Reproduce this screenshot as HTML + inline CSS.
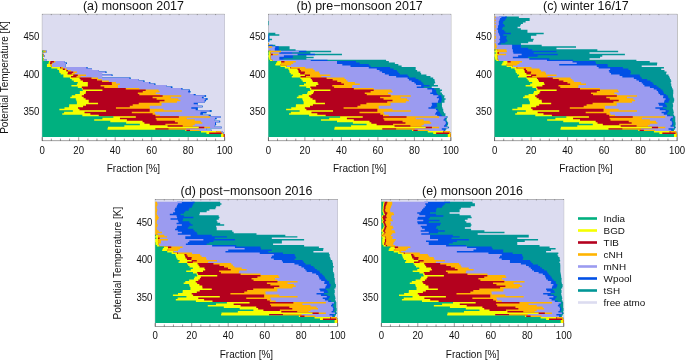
<!DOCTYPE html>
<html lang="en"><head><meta charset="utf-8"><title>Air mass origin fractions</title>
<style>
html,body{margin:0;padding:0;background:#fff;}
body{width:685px;height:360px;overflow:hidden;}
svg{display:block;opacity:0.999;will-change:transform;}
text{font-family:"Liberation Sans",sans-serif;fill:#111;}
.t{font-size:9.6px;}
.h{font-size:12.45px;}
.x{font-size:10.0px;}
.l{font-size:9.9px;}
</style></head><body>
<svg width="685" height="360" viewBox="0 0 685 360">
<rect width="685" height="360" fill="#fff"/>
<rect x="42.20" y="14.20" width="182.50" height="126.60" fill="#fff" stroke="#555" stroke-width="0.55"/>
<path d="M42.20,140.80v-3.6" stroke="#333" stroke-width="0.5"/>
<path d="M51.33,140.80v-2.2" stroke="#333" stroke-width="0.5"/>
<path d="M60.45,140.80v-2.2" stroke="#333" stroke-width="0.5"/>
<path d="M69.58,140.80v-2.2" stroke="#333" stroke-width="0.5"/>
<path d="M78.70,140.80v-3.6" stroke="#333" stroke-width="0.5"/>
<path d="M87.83,140.80v-2.2" stroke="#333" stroke-width="0.5"/>
<path d="M96.95,140.80v-2.2" stroke="#333" stroke-width="0.5"/>
<path d="M106.08,140.80v-2.2" stroke="#333" stroke-width="0.5"/>
<path d="M115.20,140.80v-3.6" stroke="#333" stroke-width="0.5"/>
<path d="M124.33,140.80v-2.2" stroke="#333" stroke-width="0.5"/>
<path d="M133.45,140.80v-2.2" stroke="#333" stroke-width="0.5"/>
<path d="M142.57,140.80v-2.2" stroke="#333" stroke-width="0.5"/>
<path d="M151.70,140.80v-3.6" stroke="#333" stroke-width="0.5"/>
<path d="M160.82,140.80v-2.2" stroke="#333" stroke-width="0.5"/>
<path d="M169.95,140.80v-2.2" stroke="#333" stroke-width="0.5"/>
<path d="M179.07,140.80v-2.2" stroke="#333" stroke-width="0.5"/>
<path d="M188.20,140.80v-3.6" stroke="#333" stroke-width="0.5"/>
<path d="M197.32,140.80v-2.2" stroke="#333" stroke-width="0.5"/>
<path d="M206.45,140.80v-2.2" stroke="#333" stroke-width="0.5"/>
<path d="M215.57,140.80v-2.2" stroke="#333" stroke-width="0.5"/>
<path d="M224.70,140.80v-3.6" stroke="#333" stroke-width="0.5"/>
<rect x="42.30" y="14.48" width="182.40" height="122.60" fill="#DCDCF0"/>
<path d="M224.70,137.08L224.70,135.59L224.70,135.59L224.70,134.10L223.79,134.10L223.79,132.61L222.88,132.61L222.88,131.12L211.56,131.12L211.56,129.63L206.45,129.63L206.45,128.14L221.60,128.14L221.60,126.65L214.66,126.65L214.66,125.16L216.12,125.16L216.12,123.67L215.94,123.67L215.94,122.18L220.14,122.18L220.14,120.69L214.66,120.69L214.66,119.20L216.49,119.20L216.49,117.71L220.50,117.71L220.50,116.22L210.65,116.22L210.65,114.74L202.80,114.74L202.80,113.25L206.45,113.25L206.45,111.76L211.56,111.76L211.56,110.27L197.69,110.27L197.69,108.78L197.69,108.78L197.69,107.29L202.62,107.29L202.62,105.80L197.69,105.80L197.69,104.31L197.69,104.31L197.69,102.82L204.62,102.82L204.62,101.33L206.08,101.33L206.08,99.84L207.55,99.84L207.55,98.35L203.53,98.35L203.53,96.86L206.08,96.86L206.08,95.37L195.50,95.37L195.50,93.88L190.02,93.88L190.02,92.39L190.39,92.39L190.39,90.90L189.66,90.90L189.66,89.42L182.36,89.42L182.36,87.93L172.32,87.93L172.32,86.44L166.30,86.44L166.30,84.95L155.35,84.95L155.35,83.46L150.24,83.46L150.24,81.97L144.40,81.97L144.40,80.48L138.56,80.48L138.56,78.99L130.53,78.99L130.53,77.50L102.06,77.50L102.06,76.01L112.46,76.01L112.46,74.52L102.06,74.52L102.06,73.03L106.44,73.03L106.44,71.54L98.78,71.54L98.78,70.05L92.02,70.05L92.02,68.56L87.46,68.56L87.46,67.07L65.38,67.07L65.38,65.58L65.38,65.58L65.38,64.10L66.84,64.10L66.84,62.61L64.28,62.61L64.28,61.12L46.95,61.12L46.95,59.63L43.66,59.63L43.66,58.14L42.93,58.14L42.93,56.65L44.94,56.65L44.94,55.16L43.30,55.16L43.30,53.67L42.20,53.67L42.20,52.18L46.76,52.18L46.76,50.69L42.20,50.69L42.20,49.20L42.20,49.20L42.20,47.71L42.20,47.71L42.20,46.22L42.20,46.22L42.20,44.73L42.20,44.73L42.20,43.24L42.20,43.24L42.20,41.75L42.20,41.75L42.20,40.26L42.20,40.26L42.20,38.78L42.20,38.78L42.20,37.29L42.20,37.29L42.20,35.80L42.20,35.80L42.20,34.31L42.20,34.31L42.20,32.82L42.20,32.82L42.20,31.33L42.20,31.33L42.20,29.84L42.20,29.84L42.20,28.35L42.20,28.35L42.20,26.86L42.20,26.86L42.20,25.37L42.20,25.37L42.20,23.88L42.20,23.88L42.20,22.39L42.20,22.39L42.20,20.90L42.20,20.90L42.20,19.41L42.20,19.41L42.20,17.92L42.20,17.92L42.20,16.43L42.20,16.43L42.20,17.92L42.20,17.92L42.20,19.41L42.20,19.41L42.20,20.90L42.20,20.90L42.20,22.39L42.20,22.39L42.20,23.88L42.20,23.88L42.20,25.37L42.20,25.37L42.20,26.86L42.20,26.86L42.20,28.35L42.20,28.35L42.20,29.84L42.20,29.84L42.20,31.33L42.20,31.33L42.20,32.82L42.20,32.82L42.20,34.31L42.20,34.31L42.20,35.80L42.20,35.80L42.20,37.29L42.20,37.29L42.20,38.78L42.20,38.78L42.20,40.26L42.20,40.26L42.20,41.75L42.20,41.75L42.20,43.24L42.20,43.24L42.20,44.73L42.20,44.73L42.20,46.22L42.20,46.22L42.20,47.71L42.20,47.71L42.20,49.20L42.20,49.20L42.20,50.69L42.20,50.69L42.20,52.18L42.20,52.18L42.20,53.67L42.20,53.67L42.20,55.16L42.20,55.16L42.20,56.65L42.20,56.65L42.20,58.14L42.20,58.14L42.20,59.63L42.76,59.63L42.76,61.12L46.05,61.12L46.05,62.61L63.38,62.61L63.38,64.10L64.48,64.10L64.48,65.58L64.48,65.58L64.48,67.07L64.48,67.07L64.48,68.56L86.56,68.56L86.56,70.05L91.12,70.05L91.12,71.54L97.88,71.54L97.88,73.03L101.16,73.03L101.16,74.52L101.16,74.52L101.16,76.01L101.16,76.01L101.16,77.50L101.16,77.50L101.16,78.99L129.63,78.99L129.63,80.48L137.66,80.48L137.66,81.97L143.50,81.97L143.50,83.46L149.34,83.46L149.34,84.95L154.45,84.95L154.45,86.44L165.40,86.44L165.40,87.93L171.42,87.93L171.42,89.42L181.46,89.42L181.46,90.90L188.76,90.90L188.76,92.39L189.12,92.39L189.12,93.88L189.12,93.88L189.12,95.37L194.60,95.37L194.60,96.86L202.63,96.86L202.63,98.35L202.63,98.35L202.63,99.84L203.72,99.84L203.72,101.33L196.79,101.33L196.79,102.82L196.79,102.82L196.79,104.31L196.79,104.31L196.79,105.80L196.79,105.80L196.79,107.29L196.79,107.29L196.79,108.78L196.79,108.78L196.79,110.27L196.79,110.27L196.79,111.76L201.90,111.76L201.90,113.25L201.90,113.25L201.90,114.74L201.90,114.74L201.90,116.22L209.75,116.22L209.75,117.71L213.76,117.71L213.76,119.20L213.76,119.20L213.76,120.69L213.76,120.69L213.76,122.18L215.04,122.18L215.04,123.67L213.76,123.67L213.76,125.16L213.76,125.16L213.76,126.65L205.55,126.65L205.55,128.14L205.55,128.14L205.55,129.63L205.55,129.63L205.55,131.12L210.66,131.12L210.66,132.61L221.97,132.61L221.97,134.10L222.89,134.10L222.89,135.59L223.80,135.59L223.80,137.08Z" fill="#009696"/>
<path d="M224.70,137.08L224.70,135.59L224.70,135.59L224.70,134.10L223.79,134.10L223.79,132.61L222.88,132.61L222.88,131.12L211.56,131.12L211.56,129.63L206.45,129.63L206.45,128.14L221.60,128.14L221.60,126.65L214.66,126.65L214.66,125.16L216.12,125.16L216.12,123.67L215.94,123.67L215.94,122.18L220.14,122.18L220.14,120.69L214.66,120.69L214.66,119.20L216.49,119.20L216.49,117.71L220.50,117.71L220.50,116.22L210.65,116.22L210.65,114.74L202.80,114.74L202.80,113.25L206.45,113.25L206.45,111.76L211.56,111.76L211.56,110.27L197.69,110.27L197.69,108.78L197.69,108.78L197.69,107.29L202.62,107.29L202.62,105.80L197.69,105.80L197.69,104.31L197.69,104.31L197.69,102.82L204.62,102.82L204.62,101.33L206.08,101.33L206.08,99.84L207.55,99.84L207.55,98.35L203.53,98.35L203.53,96.86L206.08,96.86L206.08,95.37L195.50,95.37L195.50,93.88L190.02,93.88L190.02,92.39L190.39,92.39L190.39,90.90L189.66,90.90L189.66,89.42L182.36,89.42L182.36,87.93L172.32,87.93L172.32,86.44L166.30,86.44L166.30,84.95L155.35,84.95L155.35,83.46L150.24,83.46L150.24,81.97L144.40,81.97L144.40,80.48L138.56,80.48L138.56,78.99L130.53,78.99L130.53,77.50L102.06,77.50L102.06,76.01L112.46,76.01L112.46,74.52L102.06,74.52L102.06,73.03L106.44,73.03L106.44,71.54L98.78,71.54L98.78,70.05L92.02,70.05L92.02,68.56L87.46,68.56L87.46,67.07L65.38,67.07L65.38,65.58L65.38,65.58L65.38,64.10L66.84,64.10L66.84,62.61L64.28,62.61L64.28,61.12L46.95,61.12L46.95,59.63L43.66,59.63L43.66,58.14L42.93,58.14L42.93,56.65L44.94,56.65L44.94,55.16L43.30,55.16L43.30,53.67L42.20,53.67L42.20,52.18L46.76,52.18L46.76,50.69L42.20,50.69L42.20,49.20L42.20,49.20L42.20,47.71L42.20,47.71L42.20,46.22L42.20,46.22L42.20,44.73L42.20,44.73L42.20,43.24L42.20,43.24L42.20,41.75L42.20,41.75L42.20,40.26L42.20,40.26L42.20,38.78L42.20,38.78L42.20,37.29L42.20,37.29L42.20,35.80L42.20,35.80L42.20,34.31L42.20,34.31L42.20,32.82L42.20,32.82L42.20,31.33L42.20,31.33L42.20,29.84L42.20,29.84L42.20,28.35L42.20,28.35L42.20,26.86L42.20,26.86L42.20,25.37L42.20,25.37L42.20,23.88L42.20,23.88L42.20,22.39L42.20,22.39L42.20,20.90L42.20,20.90L42.20,19.41L42.20,19.41L42.20,17.92L42.20,17.92L42.20,16.43L42.20,16.43L42.20,17.92L42.20,17.92L42.20,19.41L42.20,19.41L42.20,20.90L42.20,20.90L42.20,22.39L42.20,22.39L42.20,23.88L42.20,23.88L42.20,25.37L42.20,25.37L42.20,26.86L42.20,26.86L42.20,28.35L42.20,28.35L42.20,29.84L42.20,29.84L42.20,31.33L42.20,31.33L42.20,32.82L42.20,32.82L42.20,34.31L42.20,34.31L42.20,35.80L42.20,35.80L42.20,37.29L42.20,37.29L42.20,38.78L42.20,38.78L42.20,40.26L42.20,40.26L42.20,41.75L42.20,41.75L42.20,43.24L42.20,43.24L42.20,44.73L42.20,44.73L42.20,46.22L42.20,46.22L42.20,47.71L42.20,47.71L42.20,49.20L42.20,49.20L42.20,50.69L42.20,50.69L42.20,52.18L42.20,52.18L42.20,53.67L42.20,53.67L42.20,55.16L42.20,55.16L42.20,56.65L42.20,56.65L42.20,58.14L42.20,58.14L42.20,59.63L42.76,59.63L42.76,61.12L46.05,61.12L46.05,62.61L63.38,62.61L63.38,64.10L64.48,64.10L64.48,65.58L64.48,65.58L64.48,67.07L64.48,67.07L64.48,68.56L85.47,68.56L85.47,70.05L91.12,70.05L91.12,71.54L97.88,71.54L97.88,73.03L101.16,73.03L101.16,74.52L101.16,74.52L101.16,76.01L101.16,76.01L101.16,77.50L101.16,77.50L101.16,78.99L128.53,78.99L128.53,80.48L137.66,80.48L137.66,81.97L142.40,81.97L142.40,83.46L148.25,83.46L148.25,84.95L153.35,84.95L153.35,86.44L165.40,86.44L165.40,87.93L169.96,87.93L169.96,89.42L180.37,89.42L180.37,90.90L187.30,90.90L187.30,92.39L187.30,92.39L187.30,93.88L189.12,93.88L189.12,95.37L192.77,95.37L192.77,96.86L200.99,96.86L200.99,98.35L200.99,98.35L200.99,99.84L203.72,99.84L203.72,101.33L192.77,101.33L192.77,102.82L192.77,102.82L192.77,104.31L192.77,104.31L192.77,105.80L190.40,105.80L190.40,107.29L190.40,107.29L190.40,108.78L190.40,108.78L190.40,110.27L194.78,110.27L194.78,111.76L199.34,111.76L199.34,113.25L199.34,113.25L199.34,114.74L199.34,114.74L199.34,116.22L207.74,116.22L207.74,117.71L213.76,117.71L213.76,119.20L213.76,119.20L213.76,120.69L213.76,120.69L213.76,122.18L214.13,122.18L214.13,123.67L213.76,123.67L213.76,125.16L213.76,125.16L213.76,126.65L205.55,126.65L205.55,128.14L205.55,128.14L205.55,129.63L205.55,129.63L205.55,131.12L210.66,131.12L210.66,132.61L221.97,132.61L221.97,134.10L222.89,134.10L222.89,135.59L223.80,135.59L223.80,137.08Z" fill="#0050E6"/>
<path d="M224.70,137.08L224.70,135.59L224.70,135.59L224.70,134.10L223.79,134.10L223.79,132.61L222.88,132.61L222.88,131.12L211.56,131.12L211.56,129.63L206.45,129.63L206.45,128.14L221.60,128.14L221.60,126.65L214.66,126.65L214.66,125.16L215.03,125.16L215.03,123.67L215.03,123.67L215.03,122.18L219.23,122.18L219.23,120.69L214.66,120.69L214.66,119.20L215.03,119.20L215.03,117.71L220.50,117.71L220.50,116.22L208.64,116.22L208.64,114.74L200.25,114.74L200.25,113.25L200.61,113.25L200.61,111.76L209.74,111.76L209.74,110.27L195.68,110.27L195.68,108.78L191.30,108.78L191.30,107.29L202.25,107.29L202.25,105.80L197.69,105.80L197.69,104.31L193.68,104.31L193.68,102.82L204.62,102.82L204.62,101.33L204.62,101.33L204.62,99.84L205.54,99.84L205.54,98.35L201.89,98.35L201.89,96.86L204.62,96.86L204.62,95.37L193.68,95.37L193.68,93.88L190.02,93.88L190.02,92.39L188.20,92.39L188.20,90.90L188.75,90.90L188.75,89.42L181.26,89.42L181.26,87.93L170.86,87.93L170.86,86.44L166.30,86.44L166.30,84.95L154.25,84.95L154.25,83.46L149.14,83.46L149.14,81.97L143.31,81.97L143.31,80.48L138.56,80.48L138.56,78.99L129.44,78.99L129.44,77.50L102.06,77.50L102.06,76.01L111.55,76.01L111.55,74.52L102.06,74.52L102.06,73.03L105.34,73.03L105.34,71.54L98.78,71.54L98.78,70.05L92.02,70.05L92.02,68.56L86.37,68.56L86.37,67.07L65.38,67.07L65.38,65.58L65.38,65.58L65.38,64.10L65.92,64.10L65.92,62.61L64.28,62.61L64.28,61.12L46.95,61.12L46.95,59.63L43.66,59.63L43.66,58.14L42.93,58.14L42.93,56.65L44.94,56.65L44.94,55.16L43.30,55.16L43.30,53.67L42.20,53.67L42.20,52.18L46.76,52.18L46.76,50.69L42.20,50.69L42.20,49.20L42.20,49.20L42.20,47.71L42.20,47.71L42.20,46.22L42.20,46.22L42.20,44.73L42.20,44.73L42.20,43.24L42.20,43.24L42.20,41.75L42.20,41.75L42.20,40.26L42.20,40.26L42.20,38.78L42.20,38.78L42.20,37.29L42.20,37.29L42.20,35.80L42.20,35.80L42.20,34.31L42.20,34.31L42.20,32.82L42.20,32.82L42.20,31.33L42.20,31.33L42.20,29.84L42.20,29.84L42.20,28.35L42.20,28.35L42.20,26.86L42.20,26.86L42.20,25.37L42.20,25.37L42.20,23.88L42.20,23.88L42.20,22.39L42.20,22.39L42.20,20.90L42.20,20.90L42.20,19.41L42.20,19.41L42.20,17.92L42.20,17.92L42.20,16.43L42.20,16.43L42.20,17.92L42.20,17.92L42.20,19.41L42.20,19.41L42.20,20.90L42.20,20.90L42.20,22.39L42.20,22.39L42.20,23.88L42.20,23.88L42.20,25.37L42.20,25.37L42.20,26.86L42.20,26.86L42.20,28.35L42.20,28.35L42.20,29.84L42.20,29.84L42.20,31.33L42.20,31.33L42.20,32.82L42.20,32.82L42.20,34.31L42.20,34.31L42.20,35.80L42.20,35.80L42.20,37.29L42.20,37.29L42.20,38.78L42.20,38.78L42.20,40.26L42.20,40.26L42.20,41.75L42.20,41.75L42.20,43.24L42.20,43.24L42.20,44.73L42.20,44.73L42.20,46.22L42.20,46.22L42.20,47.71L42.20,47.71L42.20,49.20L42.20,49.20L42.20,50.69L42.20,50.69L42.20,52.18L42.20,52.18L42.20,53.67L42.20,53.67L42.20,55.16L42.20,55.16L42.20,56.65L42.20,56.65L42.20,58.14L42.20,58.14L42.20,59.63L42.76,59.63L42.76,61.12L43.12,61.12L43.12,62.61L50.97,62.61L50.97,64.10L50.97,64.10L50.97,65.58L50.97,65.58L50.97,67.07L51.16,67.07L51.16,68.56L62.29,68.56L62.29,70.05L65.94,70.05L65.94,71.54L69.95,71.54L69.95,73.03L73.78,73.03L73.78,74.52L73.78,74.52L73.78,76.01L79.62,76.01L79.62,77.50L79.62,77.50L79.62,78.99L97.15,78.99L97.15,80.48L100.80,80.48L100.80,81.97L107.91,81.97L107.91,83.46L115.03,83.46L115.03,84.95L117.04,84.95L117.04,86.44L117.04,86.44L117.04,87.93L117.04,87.93L117.04,89.42L138.39,89.42L138.39,90.90L154.81,90.90L154.81,92.39L154.81,92.39L154.81,93.88L154.81,93.88L154.81,95.37L159.19,95.37L159.19,96.86L169.96,96.86L169.96,98.35L169.96,98.35L169.96,99.84L175.99,99.84L175.99,101.33L160.66,101.33L160.66,102.82L160.66,102.82L160.66,104.31L148.79,104.31L148.79,105.80L148.79,105.80L148.79,107.29L148.79,107.29L148.79,108.78L148.97,108.78L148.97,110.27L153.72,110.27L153.72,111.76L153.72,111.76L153.72,113.25L153.72,113.25L153.72,114.74L154.45,114.74L154.45,116.22L159.01,116.22L159.01,117.71L185.84,117.71L185.84,119.20L185.84,119.20L185.84,120.69L193.87,120.69L193.87,122.18L193.87,122.18L193.87,123.67L191.86,123.67L191.86,125.16L191.86,125.16L191.86,126.65L184.93,126.65L184.93,128.14L184.93,128.14L184.93,129.63L184.93,129.63L184.93,131.12L198.80,131.12L198.80,132.61L220.15,132.61L220.15,134.10L221.97,134.10L221.97,135.59L223.80,135.59L223.80,137.08Z" fill="#9B9BF0"/>
<path d="M224.70,137.08L224.70,135.59L224.70,135.59L224.70,134.10L222.88,134.10L222.88,132.61L221.05,132.61L221.05,131.12L199.70,131.12L199.70,129.63L185.83,129.63L185.83,128.14L210.10,128.14L210.10,126.65L192.76,126.65L192.76,125.16L194.77,125.16L194.77,123.67L202.25,123.67L202.25,122.18L200.79,122.18L200.79,120.69L194.77,120.69L194.77,119.20L186.74,119.20L186.74,117.71L210.10,117.71L210.10,116.22L159.91,116.22L159.91,114.74L155.35,114.74L155.35,113.25L154.62,113.25L154.62,111.76L181.81,111.76L181.81,110.27L163.56,110.27L163.56,108.78L149.88,108.78L149.88,107.29L149.69,107.29L149.69,105.80L161.56,105.80L161.56,104.31L161.56,104.31L161.56,102.82L176.88,102.82L176.88,101.33L180.35,101.33L180.35,99.84L178.34,99.84L178.34,98.35L170.86,98.35L170.86,96.86L181.26,96.86L181.26,95.37L160.09,95.37L160.09,93.88L155.72,93.88L155.72,92.39L159.55,92.39L159.55,90.90L158.63,90.90L158.63,89.42L139.29,89.42L139.29,87.93L117.94,87.93L117.94,86.44L117.94,86.44L117.94,84.95L119.95,84.95L119.95,83.46L115.93,83.46L115.93,81.97L108.81,81.97L108.81,80.48L101.70,80.48L101.70,78.99L98.05,78.99L98.05,77.50L80.53,77.50L80.53,76.01L86.00,76.01L86.00,74.52L74.69,74.52L74.69,73.03L76.88,73.03L76.88,71.54L70.85,71.54L70.85,70.05L66.84,70.05L66.84,68.56L63.19,68.56L63.19,67.07L52.06,67.07L52.06,65.58L51.87,65.58L51.87,64.10L52.79,64.10L52.79,62.61L55.34,62.61L55.34,61.12L44.03,61.12L44.03,59.63L43.66,59.63L43.66,58.14L42.93,58.14L42.93,56.65L43.66,56.65L43.66,55.16L43.30,55.16L43.30,53.67L42.20,53.67L42.20,52.18L45.85,52.18L45.85,50.69L42.20,50.69L42.20,49.20L42.20,49.20L42.20,47.71L42.20,47.71L42.20,46.22L42.20,46.22L42.20,44.73L42.20,44.73L42.20,43.24L42.20,43.24L42.20,41.75L42.20,41.75L42.20,40.26L42.20,40.26L42.20,38.78L42.20,38.78L42.20,37.29L42.20,37.29L42.20,35.80L42.20,35.80L42.20,34.31L42.20,34.31L42.20,32.82L42.20,32.82L42.20,31.33L42.20,31.33L42.20,29.84L42.20,29.84L42.20,28.35L42.20,28.35L42.20,26.86L42.20,26.86L42.20,25.37L42.20,25.37L42.20,23.88L42.20,23.88L42.20,22.39L42.20,22.39L42.20,20.90L42.20,20.90L42.20,19.41L42.20,19.41L42.20,17.92L42.20,17.92L42.20,16.43L42.20,16.43L42.20,17.92L42.20,17.92L42.20,19.41L42.20,19.41L42.20,20.90L42.20,20.90L42.20,22.39L42.20,22.39L42.20,23.88L42.20,23.88L42.20,25.37L42.20,25.37L42.20,26.86L42.20,26.86L42.20,28.35L42.20,28.35L42.20,29.84L42.20,29.84L42.20,31.33L42.20,31.33L42.20,32.82L42.20,32.82L42.20,34.31L42.20,34.31L42.20,35.80L42.20,35.80L42.20,37.29L42.20,37.29L42.20,38.78L42.20,38.78L42.20,40.26L42.20,40.26L42.20,41.75L42.20,41.75L42.20,43.24L42.20,43.24L42.20,44.73L42.20,44.73L42.20,46.22L42.20,46.22L42.20,47.71L42.20,47.71L42.20,49.20L42.20,49.20L42.20,50.69L42.20,50.69L42.20,52.18L42.20,52.18L42.20,53.67L42.20,53.67L42.20,55.16L42.20,55.16L42.20,56.65L42.20,56.65L42.20,58.14L42.20,58.14L42.20,59.63L42.76,59.63L42.76,61.12L43.12,61.12L43.12,62.61L49.51,62.61L49.51,64.10L49.51,64.10L49.51,65.58L49.51,65.58L49.51,67.07L50.43,67.07L50.43,68.56L60.28,68.56L60.28,70.05L63.93,70.05L63.93,71.54L67.03,71.54L67.03,73.03L70.87,73.03L70.87,74.52L70.87,74.52L70.87,76.01L75.61,76.01L75.61,77.50L75.61,77.50L75.61,78.99L90.58,78.99L90.58,80.48L96.05,80.48L96.05,81.97L101.16,81.97L101.16,83.46L99.70,83.46L99.70,84.95L99.70,84.95L99.70,86.44L99.70,86.44L99.70,87.93L103.35,87.93L103.35,89.42L124.88,89.42L124.88,90.90L136.93,90.90L136.93,92.39L136.93,92.39L136.93,93.88L136.93,93.88L136.93,95.37L138.39,95.37L138.39,96.86L151.71,96.86L151.71,98.35L151.71,98.35L151.71,99.84L155.73,99.84L155.73,101.33L137.84,101.33L137.84,102.82L131.82,102.82L131.82,104.31L128.90,104.31L128.90,105.80L115.03,105.80L115.03,107.29L115.03,107.29L115.03,108.78L115.03,108.78L115.03,110.27L130.91,110.27L130.91,111.76L130.91,111.76L130.91,113.25L130.91,113.25L130.91,114.74L151.71,114.74L151.71,116.22L154.45,116.22L154.45,117.71L154.81,117.71L154.81,119.20L154.81,119.20L154.81,120.69L155.73,120.69L155.73,122.18L164.49,122.18L164.49,123.67L164.49,123.67L164.49,125.16L164.49,125.16L164.49,126.65L167.59,126.65L167.59,128.14L167.59,128.14L167.59,129.63L167.59,129.63L167.59,131.12L189.12,131.12L189.12,132.61L215.59,132.61L215.59,134.10L220.70,134.10L220.70,135.59L223.80,135.59L223.80,137.08Z" fill="#FFB400"/>
<path d="M224.70,137.08L224.70,135.59L224.70,135.59L224.70,134.10L221.60,134.10L221.60,132.61L216.49,132.61L216.49,131.12L190.02,131.12L190.02,129.63L168.49,129.63L168.49,128.14L204.26,128.14L204.26,126.65L182.73,126.65L182.73,125.16L165.39,125.16L165.39,123.67L177.80,123.67L177.80,122.18L174.88,122.18L174.88,120.69L156.63,120.69L156.63,119.20L155.72,119.20L155.72,117.71L178.89,117.71L178.89,116.22L155.35,116.22L155.35,114.74L152.61,114.74L152.61,113.25L131.81,113.25L131.81,111.76L149.69,111.76L149.69,110.27L149.69,110.27L149.69,108.78L115.93,108.78L115.93,107.29L129.80,107.29L129.80,105.80L132.72,105.80L132.72,104.31L138.74,104.31L138.74,102.82L159.55,102.82L159.55,101.33L164.47,101.33L164.47,99.84L156.63,99.84L156.63,98.35L152.61,98.35L152.61,96.86L162.65,96.86L162.65,95.37L139.29,95.37L139.29,93.88L137.83,93.88L137.83,92.39L142.76,92.39L142.76,90.90L145.68,90.90L145.68,89.42L125.78,89.42L125.78,87.93L104.25,87.93L104.25,86.44L100.60,86.44L100.60,84.95L111.92,84.95L111.92,83.46L111.73,83.46L111.73,81.97L102.06,81.97L102.06,80.48L96.95,80.48L96.95,78.99L91.47,78.99L91.47,77.50L76.51,77.50L76.51,76.01L77.79,76.01L77.79,74.52L71.77,74.52L71.77,73.03L73.22,73.03L73.22,71.54L67.93,71.54L67.93,70.05L64.83,70.05L64.83,68.56L61.18,68.56L61.18,67.07L51.33,67.07L51.33,65.58L50.41,65.58L50.41,64.10L51.87,64.10L51.87,62.61L53.88,62.61L53.88,61.12L44.03,61.12L44.03,59.63L43.66,59.63L43.66,58.14L42.93,58.14L42.93,56.65L43.66,56.65L43.66,55.16L43.30,55.16L43.30,53.67L42.20,53.67L42.20,52.18L44.57,52.18L44.57,50.69L42.20,50.69L42.20,49.20L42.20,49.20L42.20,47.71L42.20,47.71L42.20,46.22L42.20,46.22L42.20,44.73L42.20,44.73L42.20,43.24L42.20,43.24L42.20,41.75L42.20,41.75L42.20,40.26L42.20,40.26L42.20,38.78L42.20,38.78L42.20,37.29L42.20,37.29L42.20,35.80L42.20,35.80L42.20,34.31L42.20,34.31L42.20,32.82L42.20,32.82L42.20,31.33L42.20,31.33L42.20,29.84L42.20,29.84L42.20,28.35L42.20,28.35L42.20,26.86L42.20,26.86L42.20,25.37L42.20,25.37L42.20,23.88L42.20,23.88L42.20,22.39L42.20,22.39L42.20,20.90L42.20,20.90L42.20,19.41L42.20,19.41L42.20,17.92L42.20,17.92L42.20,16.43L42.20,16.43L42.20,17.92L42.20,17.92L42.20,19.41L42.20,19.41L42.20,20.90L42.20,20.90L42.20,22.39L42.20,22.39L42.20,23.88L42.20,23.88L42.20,25.37L42.20,25.37L42.20,26.86L42.20,26.86L42.20,28.35L42.20,28.35L42.20,29.84L42.20,29.84L42.20,31.33L42.20,31.33L42.20,32.82L42.20,32.82L42.20,34.31L42.20,34.31L42.20,35.80L42.20,35.80L42.20,37.29L42.20,37.29L42.20,38.78L42.20,38.78L42.20,40.26L42.20,40.26L42.20,41.75L42.20,41.75L42.20,43.24L42.20,43.24L42.20,44.73L42.20,44.73L42.20,46.22L42.20,46.22L42.20,47.71L42.20,47.71L42.20,49.20L42.20,49.20L42.20,50.69L42.20,50.69L42.20,52.18L42.20,52.18L42.20,53.67L42.20,53.67L42.20,55.16L42.20,55.16L42.20,56.65L42.20,56.65L42.20,58.14L42.20,58.14L42.20,59.63L42.76,59.63L42.76,61.12L43.12,61.12L43.12,62.61L48.97,62.61L48.97,64.10L48.97,64.10L48.97,65.58L49.51,65.58L49.51,67.07L50.43,67.07L50.43,68.56L59.19,68.56L59.19,70.05L61.92,70.05L61.92,71.54L65.39,71.54L65.39,73.03L66.67,73.03L66.67,74.52L66.67,74.52L66.67,76.01L70.14,76.01L70.14,77.50L70.14,77.50L70.14,78.99L78.71,78.99L78.71,80.48L79.62,80.48L79.62,81.97L82.00,81.97L82.00,83.46L86.93,83.46L86.93,84.95L80.90,84.95L80.90,86.44L80.90,86.44L80.90,87.93L80.90,87.93L80.90,89.42L81.81,89.42L81.81,90.90L84.74,90.90L84.74,92.39L83.09,92.39L83.09,93.88L80.90,93.88L80.90,95.37L80.90,95.37L80.90,96.86L80.90,96.86L80.90,98.35L82.73,98.35L82.73,99.84L84.74,99.84L84.74,101.33L87.84,101.33L87.84,102.82L85.10,102.82L85.10,104.31L82.18,104.31L82.18,105.80L77.07,105.80L77.07,107.29L77.07,107.29L77.07,108.78L77.07,108.78L77.07,110.27L78.53,110.27L78.53,111.76L83.64,111.76L83.64,113.25L83.64,113.25L83.64,114.74L89.48,114.74L89.48,116.22L97.88,116.22L97.88,117.71L119.05,117.71L119.05,119.20L119.05,119.20L119.05,120.69L125.98,120.69L125.98,122.18L141.68,122.18L141.68,123.67L143.50,123.67L143.50,125.16L148.79,125.16L148.79,126.65L154.45,126.65L154.45,128.14L154.45,128.14L154.45,129.63L154.45,129.63L154.45,131.12L185.47,131.12L185.47,132.61L208.29,132.61L208.29,134.10L208.29,134.10L208.29,135.59L222.70,135.59L222.70,137.08Z" fill="#B4001E"/>
<path d="M223.61,137.08L223.61,135.59L223.61,135.59L223.61,134.10L209.19,134.10L209.19,132.61L216.49,132.61L216.49,131.12L186.38,131.12L186.38,129.63L155.35,129.63L155.35,128.14L198.78,128.14L198.78,126.65L167.58,126.65L167.58,125.16L149.69,125.16L149.69,123.67L144.40,123.67L144.40,122.18L142.57,122.18L142.57,120.69L126.88,120.69L126.88,119.20L119.95,119.20L119.95,117.71L135.82,117.71L135.82,116.22L98.78,116.22L98.78,114.74L90.38,114.74L90.38,113.25L84.54,113.25L84.54,111.76L106.08,111.76L106.08,110.27L79.43,110.27L79.43,108.78L77.97,108.78L77.97,107.29L83.08,107.29L83.08,105.80L86.00,105.80L86.00,104.31L98.05,104.31L98.05,102.82L88.74,102.82L88.74,101.33L88.74,101.33L88.74,99.84L85.64,99.84L85.64,98.35L83.63,98.35L83.63,96.86L81.80,96.86L81.80,95.37L83.99,95.37L83.99,93.88L85.64,93.88L85.64,92.39L86.00,92.39L86.00,90.90L102.43,90.90L102.43,89.42L82.72,89.42L82.72,87.93L81.80,87.93L81.80,86.44L87.83,86.44L87.83,84.95L87.83,84.95L87.83,83.46L87.83,83.46L87.83,81.97L82.90,81.97L82.90,80.48L80.53,80.48L80.53,78.99L79.61,78.99L79.61,77.50L71.03,77.50L71.03,76.01L73.22,76.01L73.22,74.52L67.57,74.52L67.57,73.03L67.93,73.03L67.93,71.54L66.29,71.54L66.29,70.05L62.82,70.05L62.82,68.56L60.09,68.56L60.09,67.07L51.33,67.07L51.33,65.58L50.41,65.58L50.41,64.10L49.87,64.10L49.87,62.61L50.41,62.61L50.41,61.12L44.03,61.12L44.03,59.63L43.66,59.63L43.66,58.14L42.93,58.14L42.93,56.65L43.66,56.65L43.66,55.16L42.75,55.16L42.75,53.67L42.20,53.67L42.20,52.18L44.57,52.18L44.57,50.69L42.20,50.69L42.20,49.20L42.20,49.20L42.20,47.71L42.20,47.71L42.20,46.22L42.20,46.22L42.20,44.73L42.20,44.73L42.20,43.24L42.20,43.24L42.20,41.75L42.20,41.75L42.20,40.26L42.20,40.26L42.20,38.78L42.20,38.78L42.20,37.29L42.20,37.29L42.20,35.80L42.20,35.80L42.20,34.31L42.20,34.31L42.20,32.82L42.20,32.82L42.20,31.33L42.20,31.33L42.20,29.84L42.20,29.84L42.20,28.35L42.20,28.35L42.20,26.86L42.20,26.86L42.20,25.37L42.20,25.37L42.20,23.88L42.20,23.88L42.20,22.39L42.20,22.39L42.20,20.90L42.20,20.90L42.20,19.41L42.20,19.41L42.20,17.92L42.20,17.92L42.20,16.43L42.20,16.43L42.20,17.92L42.20,17.92L42.20,19.41L42.20,19.41L42.20,20.90L42.20,20.90L42.20,22.39L42.20,22.39L42.20,23.88L42.20,23.88L42.20,25.37L42.20,25.37L42.20,26.86L42.20,26.86L42.20,28.35L42.20,28.35L42.20,29.84L42.20,29.84L42.20,31.33L42.20,31.33L42.20,32.82L42.20,32.82L42.20,34.31L42.20,34.31L42.20,35.80L42.20,35.80L42.20,37.29L42.20,37.29L42.20,38.78L42.20,38.78L42.20,40.26L42.20,40.26L42.20,41.75L42.20,41.75L42.20,43.24L42.20,43.24L42.20,44.73L42.20,44.73L42.20,46.22L42.20,46.22L42.20,47.71L42.20,47.71L42.20,49.20L42.20,49.20L42.20,50.69L42.20,50.69L42.20,52.18L42.20,52.18L42.20,53.67L42.20,53.67L42.20,55.16L42.20,55.16L42.20,56.65L42.20,56.65L42.20,58.14L42.20,58.14L42.20,59.63L42.21,59.63L42.21,61.12L42.58,61.12L42.58,62.61L46.05,62.61L46.05,64.10L46.05,64.10L46.05,65.58L46.05,65.58L46.05,67.07L46.05,67.07L46.05,68.56L50.43,68.56L50.43,70.05L56.45,70.05L56.45,71.54L58.09,71.54L58.09,73.03L58.46,73.03L58.46,74.52L59.73,74.52L59.73,76.01L62.47,76.01L62.47,77.50L62.47,77.50L62.47,78.99L69.22,78.99L69.22,80.48L70.87,80.48L70.87,81.97L72.87,81.97L72.87,83.46L70.50,83.46L70.50,84.95L70.50,84.95L70.50,86.44L70.50,86.44L70.50,87.93L76.89,87.93L76.89,89.42L78.90,89.42L78.90,90.90L78.90,90.90L78.90,92.39L74.33,92.39L74.33,93.88L70.87,93.88L70.87,95.37L69.41,95.37L69.41,96.86L69.41,96.86L69.41,98.35L69.41,98.35L69.41,99.84L74.88,99.84L74.88,101.33L75.43,101.33L75.43,102.82L68.31,102.82L68.31,104.31L68.13,104.31L68.13,105.80L63.56,105.80L63.56,107.29L58.46,107.29L58.46,108.78L58.46,108.78L58.46,110.27L58.46,110.27L58.46,111.76L61.38,111.76L61.38,113.25L61.38,113.25L61.38,114.74L61.38,114.74L61.38,116.22L81.45,116.22L81.45,117.71L93.31,117.71L93.31,119.20L93.31,119.20L93.31,120.69L93.31,120.69L93.31,122.18L109.37,122.18L109.37,123.67L123.42,123.67L123.42,125.16L107.00,125.16L107.00,126.65L106.63,126.65L106.63,128.14L106.63,128.14L106.63,129.63L106.63,129.63L106.63,131.12L184.38,131.12L184.38,132.61L200.07,132.61L200.07,134.10L205.55,134.10L205.55,135.59L220.15,135.59L220.15,137.08Z" fill="#F5FF00"/>
<path d="M221.05,137.08L221.05,135.59L221.05,135.59L221.05,134.10L206.45,134.10L206.45,132.61L200.98,132.61L200.98,131.12L185.28,131.12L185.28,129.63L107.53,129.63L107.53,128.14L107.90,128.14L107.90,126.65L124.33,126.65L124.33,125.16L139.84,125.16L139.84,123.67L126.15,123.67L126.15,122.18L110.27,122.18L110.27,120.69L94.21,120.69L94.21,119.20L102.43,119.20L102.43,117.71L113.38,117.71L113.38,116.22L82.35,116.22L82.35,114.74L62.28,114.74L62.28,113.25L64.10,113.25L64.10,111.76L72.86,111.76L72.86,110.27L59.36,110.27L59.36,108.78L64.47,108.78L64.47,107.29L69.03,107.29L69.03,105.80L69.21,105.80L69.21,104.31L76.88,104.31L76.88,102.82L76.88,102.82L76.88,101.33L76.33,101.33L76.33,99.84L75.78,99.84L75.78,98.35L70.31,98.35L70.31,96.86L71.77,96.86L71.77,95.37L75.23,95.37L75.23,93.88L79.80,93.88L79.80,92.39L79.80,92.39L79.80,90.90L82.72,90.90L82.72,89.42L81.80,89.42L81.80,87.93L77.79,87.93L77.79,86.44L71.40,86.44L71.40,84.95L76.88,84.95L76.88,83.46L77.79,83.46L77.79,81.97L73.77,81.97L73.77,80.48L71.77,80.48L71.77,78.99L70.12,78.99L70.12,77.50L63.37,77.50L63.37,76.01L63.37,76.01L63.37,74.52L60.63,74.52L60.63,73.03L59.36,73.03L59.36,71.54L58.99,71.54L58.99,70.05L57.35,70.05L57.35,68.56L51.33,68.56L51.33,67.07L46.95,67.07L46.95,65.58L46.95,65.58L46.95,64.10L48.41,64.10L48.41,62.61L48.95,62.61L48.95,61.12L43.48,61.12L43.48,59.63L43.11,59.63L43.11,58.14L42.93,58.14L42.93,56.65L42.93,56.65L42.93,55.16L42.75,55.16L42.75,53.67L42.20,53.67L42.20,52.18L43.48,52.18L43.48,50.69L42.20,50.69L42.20,49.20L42.20,49.20L42.20,47.71L42.20,47.71L42.20,46.22L42.20,46.22L42.20,44.73L42.20,44.73L42.20,43.24L42.20,43.24L42.20,41.75L42.20,41.75L42.20,40.26L42.20,40.26L42.20,38.78L42.20,38.78L42.20,37.29L42.20,37.29L42.20,35.80L42.20,35.80L42.20,34.31L42.20,34.31L42.20,32.82L42.20,32.82L42.20,31.33L42.20,31.33L42.20,29.84L42.20,29.84L42.20,28.35L42.20,28.35L42.20,26.86L42.20,26.86L42.20,25.37L42.20,25.37L42.20,23.88L42.20,23.88L42.20,22.39L42.20,22.39L42.20,20.90L42.20,20.90L42.20,19.41L42.20,19.41L42.20,17.92L42.20,17.92L42.20,16.43L42.20,16.43L42.20,17.92L42.20,17.92L42.20,19.41L42.20,19.41L42.20,20.90L42.20,20.90L42.20,22.39L42.20,22.39L42.20,23.88L42.20,23.88L42.20,25.37L42.20,25.37L42.20,26.86L42.20,26.86L42.20,28.35L42.20,28.35L42.20,29.84L42.20,29.84L42.20,31.33L42.20,31.33L42.20,32.82L42.20,32.82L42.20,34.31L42.20,34.31L42.20,35.80L42.20,35.80L42.20,37.29L42.20,37.29L42.20,38.78L42.20,38.78L42.20,40.26L42.20,40.26L42.20,41.75L42.20,41.75L42.20,43.24L42.20,43.24L42.20,44.73L42.20,44.73L42.20,46.22L42.20,46.22L42.20,47.71L42.20,47.71L42.20,49.20L42.20,49.20L42.20,50.69L42.20,50.69L42.20,52.18L42.20,52.18L42.20,53.67L42.20,53.67L42.20,55.16L42.20,55.16L42.20,56.65L42.20,56.65L42.20,58.14L42.20,58.14L42.20,59.63L42.20,59.63L42.20,61.12L42.20,61.12L42.20,62.61L42.20,62.61L42.20,64.10L42.20,64.10L42.20,65.58L42.20,65.58L42.20,67.07L42.20,67.07L42.20,68.56L42.20,68.56L42.20,70.05L42.20,70.05L42.20,71.54L42.20,71.54L42.20,73.03L42.20,73.03L42.20,74.52L42.20,74.52L42.20,76.01L42.20,76.01L42.20,77.50L42.20,77.50L42.20,78.99L42.20,78.99L42.20,80.48L42.20,80.48L42.20,81.97L42.20,81.97L42.20,83.46L42.20,83.46L42.20,84.95L42.20,84.95L42.20,86.44L42.20,86.44L42.20,87.93L42.20,87.93L42.20,89.42L42.20,89.42L42.20,90.90L42.20,90.90L42.20,92.39L42.20,92.39L42.20,93.88L42.20,93.88L42.20,95.37L42.20,95.37L42.20,96.86L42.20,96.86L42.20,98.35L42.20,98.35L42.20,99.84L42.20,99.84L42.20,101.33L42.20,101.33L42.20,102.82L42.20,102.82L42.20,104.31L42.20,104.31L42.20,105.80L42.20,105.80L42.20,107.29L42.20,107.29L42.20,108.78L42.20,108.78L42.20,110.27L42.20,110.27L42.20,111.76L42.20,111.76L42.20,113.25L42.20,113.25L42.20,114.74L42.20,114.74L42.20,116.22L42.20,116.22L42.20,117.71L42.20,117.71L42.20,119.20L42.20,119.20L42.20,120.69L42.20,120.69L42.20,122.18L42.20,122.18L42.20,123.67L42.20,123.67L42.20,125.16L42.20,125.16L42.20,126.65L42.20,126.65L42.20,128.14L42.20,128.14L42.20,129.63L42.20,129.63L42.20,131.12L42.20,131.12L42.20,132.61L42.20,132.61L42.20,134.10L42.20,134.10L42.20,135.59L42.20,135.59L42.20,137.08Z" fill="#00B07F"/>
<path d="M51.33,14.20v0.9" stroke="#555" stroke-width="0.6"/>
<path d="M60.45,14.20v0.9" stroke="#555" stroke-width="0.6"/>
<path d="M69.58,14.20v0.9" stroke="#555" stroke-width="0.6"/>
<path d="M78.70,14.20v0.9" stroke="#555" stroke-width="0.6"/>
<path d="M87.83,14.20v0.9" stroke="#555" stroke-width="0.6"/>
<path d="M96.95,14.20v0.9" stroke="#555" stroke-width="0.6"/>
<path d="M106.08,14.20v0.9" stroke="#555" stroke-width="0.6"/>
<path d="M115.20,14.20v0.9" stroke="#555" stroke-width="0.6"/>
<path d="M124.33,14.20v0.9" stroke="#555" stroke-width="0.6"/>
<path d="M133.45,14.20v0.9" stroke="#555" stroke-width="0.6"/>
<path d="M142.57,14.20v0.9" stroke="#555" stroke-width="0.6"/>
<path d="M151.70,14.20v0.9" stroke="#555" stroke-width="0.6"/>
<path d="M160.82,14.20v0.9" stroke="#555" stroke-width="0.6"/>
<path d="M169.95,14.20v0.9" stroke="#555" stroke-width="0.6"/>
<path d="M179.07,14.20v0.9" stroke="#555" stroke-width="0.6"/>
<path d="M188.20,14.20v0.9" stroke="#555" stroke-width="0.6"/>
<path d="M197.32,14.20v0.9" stroke="#555" stroke-width="0.6"/>
<path d="M206.45,14.20v0.9" stroke="#555" stroke-width="0.6"/>
<path d="M215.57,14.20v0.9" stroke="#555" stroke-width="0.6"/>
<text transform="translate(42.20,153.80) scale(1,1.1)" text-anchor="middle" class="t">0</text>
<text transform="translate(78.70,153.80) scale(1,1.1)" text-anchor="middle" class="t">20</text>
<text transform="translate(115.20,153.80) scale(1,1.1)" text-anchor="middle" class="t">40</text>
<text transform="translate(151.70,153.80) scale(1,1.1)" text-anchor="middle" class="t">60</text>
<text transform="translate(188.20,153.80) scale(1,1.1)" text-anchor="middle" class="t">80</text>
<text transform="translate(224.70,153.80) scale(1,1.1)" text-anchor="middle" class="t">100</text>
<text x="133.45" y="172.40" text-anchor="middle" class="x">Fraction [%]</text>
<text transform="translate(39.40,114.81) scale(1,1.1)" text-anchor="end" class="t">350</text>
<text transform="translate(39.40,77.58) scale(1,1.1)" text-anchor="end" class="t">400</text>
<text transform="translate(39.40,40.34) scale(1,1.1)" text-anchor="end" class="t">450</text>
<text transform="translate(7.80,77.50) rotate(-90)" text-anchor="middle" class="x">Potential Temperature [K]</text>
<text x="133.45" y="9.60" text-anchor="middle" class="h">(a) monsoon 2017</text>
<rect x="268.40" y="14.20" width="182.50" height="126.60" fill="#fff" stroke="#555" stroke-width="0.55"/>
<path d="M268.40,140.80v-3.6" stroke="#333" stroke-width="0.5"/>
<path d="M277.52,140.80v-2.2" stroke="#333" stroke-width="0.5"/>
<path d="M286.65,140.80v-2.2" stroke="#333" stroke-width="0.5"/>
<path d="M295.77,140.80v-2.2" stroke="#333" stroke-width="0.5"/>
<path d="M304.90,140.80v-3.6" stroke="#333" stroke-width="0.5"/>
<path d="M314.02,140.80v-2.2" stroke="#333" stroke-width="0.5"/>
<path d="M323.15,140.80v-2.2" stroke="#333" stroke-width="0.5"/>
<path d="M332.27,140.80v-2.2" stroke="#333" stroke-width="0.5"/>
<path d="M341.40,140.80v-3.6" stroke="#333" stroke-width="0.5"/>
<path d="M350.52,140.80v-2.2" stroke="#333" stroke-width="0.5"/>
<path d="M359.65,140.80v-2.2" stroke="#333" stroke-width="0.5"/>
<path d="M368.77,140.80v-2.2" stroke="#333" stroke-width="0.5"/>
<path d="M377.90,140.80v-3.6" stroke="#333" stroke-width="0.5"/>
<path d="M387.02,140.80v-2.2" stroke="#333" stroke-width="0.5"/>
<path d="M396.15,140.80v-2.2" stroke="#333" stroke-width="0.5"/>
<path d="M405.27,140.80v-2.2" stroke="#333" stroke-width="0.5"/>
<path d="M414.40,140.80v-3.6" stroke="#333" stroke-width="0.5"/>
<path d="M423.52,140.80v-2.2" stroke="#333" stroke-width="0.5"/>
<path d="M432.65,140.80v-2.2" stroke="#333" stroke-width="0.5"/>
<path d="M441.77,140.80v-2.2" stroke="#333" stroke-width="0.5"/>
<path d="M450.90,140.80v-3.6" stroke="#333" stroke-width="0.5"/>
<rect x="268.50" y="14.48" width="182.40" height="122.60" fill="#DCDCF0"/>
<path d="M450.90,137.08L450.90,135.59L450.90,135.59L450.90,134.10L450.90,134.10L450.90,132.61L449.99,132.61L449.99,131.12L445.42,131.12L445.42,129.63L446.34,129.63L446.34,128.14L449.07,128.14L449.07,126.65L447.25,126.65L447.25,125.16L447.98,125.16L447.98,123.67L448.16,123.67L448.16,122.18L447.25,122.18L447.25,120.69L446.52,120.69L446.52,119.20L446.88,119.20L446.88,117.71L447.62,117.71L447.62,116.22L445.42,116.22L445.42,114.74L445.42,114.74L445.42,113.25L443.96,113.25L443.96,111.76L443.23,111.76L443.23,110.27L443.23,110.27L443.23,108.78L442.50,108.78L442.50,107.29L441.96,107.29L441.96,105.80L441.96,105.80L441.96,104.31L441.96,104.31L441.96,102.82L444.51,102.82L444.51,101.33L444.51,101.33L444.51,99.84L445.61,99.84L445.61,98.35L444.15,98.35L444.15,96.86L444.51,96.86L444.51,95.37L442.69,95.37L442.69,93.88L441.96,93.88L441.96,92.39L440.50,92.39L440.50,90.90L441.96,90.90L441.96,89.42L439.77,89.42L439.77,87.93L431.74,87.93L431.74,86.44L437.94,86.44L437.94,84.95L433.93,84.95L433.93,83.46L435.20,83.46L435.20,81.97L434.84,81.97L434.84,80.48L434.47,80.48L434.47,78.99L433.20,78.99L433.20,77.50L430.46,77.50L430.46,76.01L426.44,76.01L426.44,74.52L421.15,74.52L421.15,73.03L420.42,73.03L420.42,71.54L417.14,71.54L417.14,70.05L415.68,70.05L415.68,68.56L415.68,68.56L415.68,67.07L401.62,67.07L401.62,65.58L398.34,65.58L398.34,64.10L394.87,64.10L394.87,62.61L388.85,62.61L388.85,61.12L386.11,61.12L386.11,59.63L306.36,59.63L306.36,58.14L313.66,58.14L313.66,56.65L306.36,56.65L306.36,55.16L341.95,55.16L341.95,53.67L310.38,53.67L310.38,52.18L331.18,52.18L331.18,50.69L295.59,50.69L295.59,49.20L289.57,49.20L289.57,47.71L289.57,47.71L289.57,46.22L275.33,46.22L275.33,44.73L268.95,44.73L268.95,43.24L268.40,43.24L268.40,41.75L269.31,41.75L269.31,40.26L272.05,40.26L272.05,38.78L269.31,38.78L269.31,37.29L269.31,37.29L269.31,35.80L279.35,35.80L279.35,34.31L275.33,34.31L275.33,32.82L268.40,32.82L268.40,31.33L268.40,31.33L268.40,29.84L268.40,29.84L268.40,28.35L268.40,28.35L268.40,26.86L268.40,26.86L268.40,25.37L268.95,25.37L268.95,23.88L268.95,23.88L268.95,22.39L268.95,22.39L268.95,20.90L268.40,20.90L268.40,19.41L268.40,19.41L268.40,17.92L268.40,17.92L268.40,16.43L268.40,16.43L268.40,17.92L268.40,17.92L268.40,19.41L268.40,19.41L268.40,20.90L268.40,20.90L268.40,22.39L268.40,22.39L268.40,23.88L268.40,23.88L268.40,25.37L268.40,25.37L268.40,26.86L268.40,26.86L268.40,28.35L268.40,28.35L268.40,29.84L268.40,29.84L268.40,31.33L268.40,31.33L268.40,32.82L268.40,32.82L268.40,34.31L268.40,34.31L268.40,35.80L268.40,35.80L268.40,37.29L268.41,37.29L268.41,38.78L268.41,38.78L268.41,40.26L268.40,40.26L268.40,41.75L268.40,41.75L268.40,43.24L268.40,43.24L268.40,44.73L268.40,44.73L268.40,46.22L271.88,46.22L271.88,47.71L277.90,47.71L277.90,49.20L277.90,49.20L277.90,50.69L278.45,50.69L278.45,52.18L291.22,52.18L291.22,53.67L291.22,53.67L291.22,55.16L291.95,55.16L291.95,56.65L282.46,56.65L282.46,58.14L282.46,58.14L282.46,59.63L282.46,59.63L282.46,61.12L326.63,61.12L326.63,62.61L355.10,62.61L355.10,64.10L358.75,64.10L358.75,65.58L367.88,65.58L367.88,67.07L369.70,67.07L369.70,68.56L389.23,68.56L389.23,70.05L392.69,70.05L392.69,71.54L395.98,71.54L395.98,73.03L397.44,73.03L397.44,74.52L398.72,74.52L398.72,76.01L406.75,76.01L406.75,77.50L408.02,77.50L408.02,78.99L414.78,78.99L414.78,80.48L417.51,80.48L417.51,81.97L420.25,81.97L420.25,83.46L421.53,83.46L421.53,84.95L422.81,84.95L422.81,86.44L422.81,86.44L422.81,87.93L422.81,87.93L422.81,89.42L433.03,89.42L433.03,90.90L435.22,90.90L435.22,92.39L435.22,92.39L435.22,93.88L435.95,93.88L435.95,95.37L437.04,95.37L437.04,96.86L440.33,96.86L440.33,98.35L440.69,98.35L440.69,99.84L440.33,99.84L440.33,101.33L435.95,101.33L435.95,102.82L435.95,102.82L435.95,104.31L435.95,104.31L435.95,105.80L434.30,105.80L434.30,107.29L434.30,107.29L434.30,108.78L434.30,108.78L434.30,110.27L437.04,110.27L437.04,111.76L437.59,111.76L437.59,113.25L439.05,113.25L439.05,114.74L439.60,114.74L439.60,116.22L440.88,116.22L440.88,117.71L444.16,117.71L444.16,119.20L444.16,119.20L444.16,120.69L444.16,120.69L444.16,122.18L445.44,122.18L445.44,123.67L445.07,123.67L445.07,125.16L445.07,125.16L445.07,126.65L444.52,126.65L444.52,128.14L443.61,128.14L443.61,129.63L443.61,129.63L443.61,131.12L443.61,131.12L443.61,132.61L449.09,132.61L449.09,134.10L450.00,134.10L450.00,135.59L450.00,135.59L450.00,137.08Z" fill="#009696"/>
<path d="M450.90,137.08L450.90,135.59L450.90,135.59L450.90,134.10L450.90,134.10L450.90,132.61L449.99,132.61L449.99,131.12L444.51,131.12L444.51,129.63L445.42,129.63L445.42,128.14L448.34,128.14L448.34,126.65L445.97,126.65L445.97,125.16L446.52,125.16L446.52,123.67L447.25,123.67L447.25,122.18L446.34,122.18L446.34,120.69L445.06,120.69L445.06,119.20L445.79,119.20L445.79,117.71L447.07,117.71L447.07,116.22L441.77,116.22L441.77,114.74L440.50,114.74L440.50,113.25L439.95,113.25L439.95,111.76L438.49,111.76L438.49,110.27L437.94,110.27L437.94,108.78L435.20,108.78L435.20,107.29L437.21,107.29L437.21,105.80L436.85,105.80L436.85,104.31L436.85,104.31L436.85,102.82L441.23,102.82L441.23,101.33L441.59,101.33L441.59,99.84L441.96,99.84L441.96,98.35L441.59,98.35L441.59,96.86L441.23,96.86L441.23,95.37L437.94,95.37L437.94,93.88L436.85,93.88L436.85,92.39L436.12,92.39L436.12,90.90L436.12,90.90L436.12,89.42L433.93,89.42L433.93,87.93L423.71,87.93L423.71,86.44L429.55,86.44L429.55,84.95L423.71,84.95L423.71,83.46L422.43,83.46L422.43,81.97L421.15,81.97L421.15,80.48L418.41,80.48L418.41,78.99L415.68,78.99L415.68,77.50L408.92,77.50L408.92,76.01L407.65,76.01L407.65,74.52L399.62,74.52L399.62,73.03L398.34,73.03L398.34,71.54L396.88,71.54L396.88,70.05L393.59,70.05L393.59,68.56L390.13,68.56L390.13,67.07L370.60,67.07L370.60,65.58L368.77,65.58L368.77,64.10L359.65,64.10L359.65,62.61L356.00,62.61L356.00,61.12L327.53,61.12L327.53,59.63L283.36,59.63L283.36,58.14L292.85,58.14L292.85,56.65L292.85,56.65L292.85,55.16L314.94,55.16L314.94,53.67L292.12,53.67L292.12,52.18L306.36,52.18L306.36,50.69L279.35,50.69L279.35,49.20L278.80,49.20L278.80,47.71L278.80,47.71L278.80,46.22L272.78,46.22L272.78,44.73L268.95,44.73L268.95,43.24L268.40,43.24L268.40,41.75L269.31,41.75L269.31,40.26L269.31,40.26L269.31,38.78L269.31,38.78L269.31,37.29L269.31,37.29L269.31,35.80L268.95,35.80L268.95,34.31L268.40,34.31L268.40,32.82L268.40,32.82L268.40,31.33L268.40,31.33L268.40,29.84L268.40,29.84L268.40,28.35L268.40,28.35L268.40,26.86L268.40,26.86L268.40,25.37L268.40,25.37L268.40,23.88L268.40,23.88L268.40,22.39L268.40,22.39L268.40,20.90L268.40,20.90L268.40,19.41L268.40,19.41L268.40,17.92L268.40,17.92L268.40,16.43L268.40,16.43L268.40,17.92L268.40,17.92L268.40,19.41L268.40,19.41L268.40,20.90L268.40,20.90L268.40,22.39L268.40,22.39L268.40,23.88L268.40,23.88L268.40,25.37L268.40,25.37L268.40,26.86L268.40,26.86L268.40,28.35L268.40,28.35L268.40,29.84L268.40,29.84L268.40,31.33L268.40,31.33L268.40,32.82L268.40,32.82L268.40,34.31L268.40,34.31L268.40,35.80L268.40,35.80L268.40,37.29L268.40,37.29L268.40,38.78L268.40,38.78L268.40,40.26L268.40,40.26L268.40,41.75L268.40,41.75L268.40,43.24L268.40,43.24L268.40,44.73L268.40,44.73L268.40,46.22L268.40,46.22L268.40,47.71L273.89,47.71L273.89,49.20L273.89,49.20L273.89,50.69L273.89,50.69L273.89,52.18L278.45,52.18L278.45,53.67L278.45,53.67L278.45,55.16L278.45,55.16L278.45,56.65L278.45,56.65L278.45,58.14L278.45,58.14L278.45,59.63L278.45,59.63L278.45,61.12L309.84,61.12L309.84,62.61L336.12,62.61L336.12,64.10L336.12,64.10L336.12,65.58L341.41,65.58L341.41,67.07L349.62,67.07L349.62,68.56L367.88,68.56L367.88,70.05L375.90,70.05L375.90,71.54L378.64,71.54L378.64,73.03L381.20,73.03L381.20,74.52L383.93,74.52L383.93,76.01L387.95,76.01L387.95,77.50L395.25,77.50L395.25,78.99L406.75,78.99L406.75,80.48L408.02,80.48L408.02,81.97L410.76,81.97L410.76,83.46L413.50,83.46L413.50,84.95L415.14,84.95L415.14,86.44L415.87,86.44L415.87,87.93L415.87,87.93L415.87,89.42L426.46,89.42L426.46,90.90L429.38,90.90L429.38,92.39L429.38,92.39L429.38,93.88L429.38,93.88L429.38,95.37L432.30,95.37L432.30,96.86L435.95,96.86L435.95,98.35L435.95,98.35L435.95,99.84L437.04,99.84L437.04,101.33L430.84,101.33L430.84,102.82L430.84,102.82L430.84,104.31L430.29,104.31L430.29,105.80L427.55,105.80L427.55,107.29L427.55,107.29L427.55,108.78L427.55,108.78L427.55,110.27L435.03,110.27L435.03,111.76L434.30,111.76L434.30,113.25L434.30,113.25L434.30,114.74L434.30,114.74L434.30,116.22L436.31,116.22L436.31,117.71L442.70,117.71L442.70,119.20L442.70,119.20L442.70,120.69L442.70,120.69L442.70,122.18L444.34,122.18L444.34,123.67L443.06,123.67L443.06,125.16L443.06,125.16L443.06,126.65L440.88,126.65L440.88,128.14L440.88,128.14L440.88,129.63L440.88,129.63L440.88,131.12L442.70,131.12L442.70,132.61L449.09,132.61L449.09,134.10L450.00,134.10L450.00,135.59L450.00,135.59L450.00,137.08Z" fill="#0050E6"/>
<path d="M450.90,137.08L450.90,135.59L450.90,135.59L450.90,134.10L450.90,134.10L450.90,132.61L449.99,132.61L449.99,131.12L443.60,131.12L443.60,129.63L441.77,129.63L441.77,128.14L447.80,128.14L447.80,126.65L443.96,126.65L443.96,125.16L445.24,125.16L445.24,123.67L445.97,123.67L445.97,122.18L445.42,122.18L445.42,120.69L443.60,120.69L443.60,119.20L444.51,119.20L444.51,117.71L446.70,117.71L446.70,116.22L437.21,116.22L437.21,114.74L435.20,114.74L435.20,113.25L435.93,113.25L435.93,111.76L437.21,111.76L437.21,110.27L435.93,110.27L435.93,108.78L428.45,108.78L428.45,107.29L431.19,107.29L431.19,105.80L432.10,105.80L432.10,104.31L431.74,104.31L431.74,102.82L437.94,102.82L437.94,101.33L438.31,101.33L438.31,99.84L439.04,99.84L439.04,98.35L436.85,98.35L436.85,96.86L438.31,96.86L438.31,95.37L433.20,95.37L433.20,93.88L430.28,93.88L430.28,92.39L432.10,92.39L432.10,90.90L432.10,90.90L432.10,89.42L427.36,89.42L427.36,87.93L416.77,87.93L416.77,86.44L421.15,86.44L421.15,84.95L416.04,84.95L416.04,83.46L414.40,83.46L414.40,81.97L411.66,81.97L411.66,80.48L408.92,80.48L408.92,78.99L407.65,78.99L407.65,77.50L396.15,77.50L396.15,76.01L388.85,76.01L388.85,74.52L384.83,74.52L384.83,73.03L382.10,73.03L382.10,71.54L379.54,71.54L379.54,70.05L376.80,70.05L376.80,68.56L368.77,68.56L368.77,67.07L350.52,67.07L350.52,65.58L342.31,65.58L342.31,64.10L337.02,64.10L337.02,62.61L337.02,62.61L337.02,61.12L310.74,61.12L310.74,59.63L279.35,59.63L279.35,58.14L279.35,58.14L279.35,56.65L283.91,56.65L283.91,55.16L297.60,55.16L297.60,53.67L279.35,53.67L279.35,52.18L298.88,52.18L298.88,50.69L274.79,50.69L274.79,49.20L274.79,49.20L274.79,47.71L275.33,47.71L275.33,46.22L268.40,46.22L268.40,44.73L268.95,44.73L268.95,43.24L268.40,43.24L268.40,41.75L268.40,41.75L268.40,40.26L268.40,40.26L268.40,38.78L268.40,38.78L268.40,37.29L268.40,37.29L268.40,35.80L268.40,35.80L268.40,34.31L268.40,34.31L268.40,32.82L268.40,32.82L268.40,31.33L268.40,31.33L268.40,29.84L268.40,29.84L268.40,28.35L268.40,28.35L268.40,26.86L268.40,26.86L268.40,25.37L268.40,25.37L268.40,23.88L268.40,23.88L268.40,22.39L268.40,22.39L268.40,20.90L268.40,20.90L268.40,19.41L268.40,19.41L268.40,17.92L268.40,17.92L268.40,16.43L268.40,16.43L268.40,17.92L268.40,17.92L268.40,19.41L268.40,19.41L268.40,20.90L268.40,20.90L268.40,22.39L268.40,22.39L268.40,23.88L268.40,23.88L268.40,25.37L268.40,25.37L268.40,26.86L268.40,26.86L268.40,28.35L268.40,28.35L268.40,29.84L268.40,29.84L268.40,31.33L268.40,31.33L268.40,32.82L268.40,32.82L268.40,34.31L268.40,34.31L268.40,35.80L268.40,35.80L268.40,37.29L268.40,37.29L268.40,38.78L268.40,38.78L268.40,40.26L268.40,40.26L268.40,41.75L268.40,41.75L268.40,43.24L268.40,43.24L268.40,44.73L268.40,44.73L268.40,46.22L268.40,46.22L268.40,47.71L268.40,47.71L268.40,49.20L268.40,49.20L268.40,50.69L268.40,50.69L268.40,52.18L270.24,52.18L270.24,53.67L269.51,53.67L269.51,55.16L269.51,55.16L269.51,56.65L269.51,56.65L269.51,58.14L269.51,58.14L269.51,59.63L269.69,59.63L269.69,61.12L271.88,61.12L271.88,62.61L290.31,62.61L290.31,64.10L285.75,64.10L285.75,65.58L285.75,65.58L285.75,67.07L285.75,67.07L285.75,68.56L304.36,68.56L304.36,70.05L312.39,70.05L312.39,71.54L313.85,71.54L313.85,73.03L318.23,73.03L318.23,74.52L318.96,74.52L318.96,76.01L320.42,76.01L320.42,77.50L320.42,77.50L320.42,78.99L343.60,78.99L343.60,80.48L345.25,80.48L345.25,81.97L346.70,81.97L346.70,83.46L351.45,83.46L351.45,84.95L351.08,84.95L351.08,86.44L351.08,86.44L351.08,87.93L351.08,87.93L351.08,89.42L372.80,89.42L372.80,90.90L387.22,90.90L387.22,92.39L387.22,92.39L387.22,93.88L387.22,93.88L387.22,95.37L389.77,95.37L389.77,96.86L399.81,96.86L399.81,98.35L399.81,98.35L399.81,99.84L404.92,99.84L404.92,101.33L389.59,101.33L389.59,102.82L389.59,102.82L389.59,104.31L377.73,104.31L377.73,105.80L377.73,105.80L377.73,107.29L377.73,107.29L377.73,108.78L377.91,108.78L377.91,110.27L382.66,110.27L382.66,111.76L382.66,111.76L382.66,113.25L382.66,113.25L382.66,114.74L383.39,114.74L383.39,116.22L387.95,116.22L387.95,117.71L414.78,117.71L414.78,119.20L414.78,119.20L414.78,120.69L422.81,120.69L422.81,122.18L422.81,122.18L422.81,123.67L420.80,123.67L420.80,125.16L420.80,125.16L420.80,126.65L413.87,126.65L413.87,128.14L413.87,128.14L413.87,129.63L413.87,129.63L413.87,131.12L427.73,131.12L427.73,132.61L449.09,132.61L449.09,134.10L450.00,134.10L450.00,135.59L450.00,135.59L450.00,137.08Z" fill="#9B9BF0"/>
<path d="M450.90,137.08L450.90,135.59L450.90,135.59L450.90,134.10L450.90,134.10L450.90,132.61L449.99,132.61L449.99,131.12L428.63,131.12L428.63,129.63L414.76,129.63L414.76,128.14L439.04,128.14L439.04,126.65L421.70,126.65L421.70,125.16L423.71,125.16L423.71,123.67L431.19,123.67L431.19,122.18L429.73,122.18L429.73,120.69L423.71,120.69L423.71,119.20L415.68,119.20L415.68,117.71L439.04,117.71L439.04,116.22L388.85,116.22L388.85,114.74L384.29,114.74L384.29,113.25L383.56,113.25L383.56,111.76L410.75,111.76L410.75,110.27L392.50,110.27L392.50,108.78L378.81,108.78L378.81,107.29L378.63,107.29L378.63,105.80L390.49,105.80L390.49,104.31L390.49,104.31L390.49,102.82L405.82,102.82L405.82,101.33L408.92,101.33L408.92,99.84L407.10,99.84L407.10,98.35L400.71,98.35L400.71,96.86L410.75,96.86L410.75,95.37L390.67,95.37L390.67,93.88L388.12,93.88L388.12,92.39L392.50,92.39L392.50,90.90L391.59,90.90L391.59,89.42L373.70,89.42L373.70,87.93L351.98,87.93L351.98,86.44L352.35,86.44L352.35,84.95L359.83,84.95L359.83,83.46L354.90,83.46L354.90,81.97L347.60,81.97L347.60,80.48L346.14,80.48L346.14,78.99L344.50,78.99L344.50,77.50L321.32,77.50L321.32,76.01L330.27,76.01L330.27,74.52L319.86,74.52L319.86,73.03L319.13,73.03L319.13,71.54L314.75,71.54L314.75,70.05L313.29,70.05L313.29,68.56L305.26,68.56L305.26,67.07L286.65,67.07L286.65,65.58L291.21,65.58L291.21,64.10L293.22,64.10L293.22,62.61L295.77,62.61L295.77,61.12L272.78,61.12L272.78,59.63L270.59,59.63L270.59,58.14L270.41,58.14L270.41,56.65L270.41,56.65L270.41,55.16L278.44,55.16L278.44,53.67L271.14,53.67L271.14,52.18L280.99,52.18L280.99,50.69L268.40,50.69L268.40,49.20L268.40,49.20L268.40,47.71L272.05,47.71L272.05,46.22L268.40,46.22L268.40,44.73L268.95,44.73L268.95,43.24L268.40,43.24L268.40,41.75L268.40,41.75L268.40,40.26L268.40,40.26L268.40,38.78L268.40,38.78L268.40,37.29L268.40,37.29L268.40,35.80L268.40,35.80L268.40,34.31L268.40,34.31L268.40,32.82L268.40,32.82L268.40,31.33L268.40,31.33L268.40,29.84L268.40,29.84L268.40,28.35L268.40,28.35L268.40,26.86L268.40,26.86L268.40,25.37L268.40,25.37L268.40,23.88L268.40,23.88L268.40,22.39L268.40,22.39L268.40,20.90L268.40,20.90L268.40,19.41L268.40,19.41L268.40,17.92L268.40,17.92L268.40,16.43L268.40,16.43L268.40,17.92L268.40,17.92L268.40,19.41L268.40,19.41L268.40,20.90L268.40,20.90L268.40,22.39L268.40,22.39L268.40,23.88L268.40,23.88L268.40,25.37L268.40,25.37L268.40,26.86L268.40,26.86L268.40,28.35L268.40,28.35L268.40,29.84L268.40,29.84L268.40,31.33L268.40,31.33L268.40,32.82L268.40,32.82L268.40,34.31L268.40,34.31L268.40,35.80L268.40,35.80L268.40,37.29L268.40,37.29L268.40,38.78L268.40,38.78L268.40,40.26L268.40,40.26L268.40,41.75L268.40,41.75L268.40,43.24L268.40,43.24L268.40,44.73L268.40,44.73L268.40,46.22L268.40,46.22L268.40,47.71L268.40,47.71L268.40,49.20L268.40,49.20L268.40,50.69L268.40,50.69L268.40,52.18L269.87,52.18L269.87,53.67L269.51,53.67L269.51,55.16L269.51,55.16L269.51,56.65L269.51,56.65L269.51,58.14L269.51,58.14L269.51,59.63L269.69,59.63L269.69,61.12L271.51,61.12L271.51,62.61L279.54,62.61L279.54,64.10L279.54,64.10L279.54,65.58L279.54,65.58L279.54,67.07L285.38,67.07L285.38,68.56L290.13,68.56L290.13,70.05L298.89,70.05L298.89,71.54L299.98,71.54L299.98,73.03L303.63,73.03L303.63,74.52L303.63,74.52L303.63,76.01L305.09,76.01L305.09,77.50L305.09,77.50L305.09,78.99L325.72,78.99L325.72,80.48L331.74,80.48L331.74,81.97L336.30,81.97L336.30,83.46L331.38,83.46L331.38,84.95L331.38,84.95L331.38,86.44L331.38,86.44L331.38,87.93L333.20,87.93L333.20,89.42L352.91,89.42L352.91,90.90L363.86,90.90L363.86,92.39L363.86,92.39L363.86,93.88L363.86,93.88L363.86,95.37L365.87,95.37L365.87,96.86L379.19,96.86L379.19,98.35L379.19,98.35L379.19,99.84L382.66,99.84L382.66,101.33L365.50,101.33L365.50,102.82L359.48,102.82L359.48,104.31L356.56,104.31L356.56,105.80L342.69,105.80L342.69,107.29L342.69,107.29L342.69,108.78L342.69,108.78L342.69,110.27L358.57,110.27L358.57,111.76L358.57,111.76L358.57,113.25L358.57,113.25L358.57,114.74L379.37,114.74L379.37,116.22L382.11,116.22L382.11,117.71L382.47,117.71L382.47,119.20L382.47,119.20L382.47,120.69L383.39,120.69L383.39,122.18L392.15,122.18L392.15,123.67L392.15,123.67L392.15,125.16L392.15,125.16L392.15,126.65L395.25,126.65L395.25,128.14L395.25,128.14L395.25,129.63L395.25,129.63L395.25,131.12L416.78,131.12L416.78,132.61L443.25,132.61L443.25,134.10L448.36,134.10L448.36,135.59L450.00,135.59L450.00,137.08Z" fill="#FFB400"/>
<path d="M450.90,137.08L450.90,135.59L450.90,135.59L450.90,134.10L449.26,134.10L449.26,132.61L444.15,132.61L444.15,131.12L417.68,131.12L417.68,129.63L396.15,129.63L396.15,128.14L431.92,128.14L431.92,126.65L410.38,126.65L410.38,125.16L393.05,125.16L393.05,123.67L405.46,123.67L405.46,122.18L402.54,122.18L402.54,120.69L384.29,120.69L384.29,119.20L383.38,119.20L383.38,117.71L406.55,117.71L406.55,116.22L383.01,116.22L383.01,114.74L380.27,114.74L380.27,113.25L359.47,113.25L359.47,111.76L377.35,111.76L377.35,110.27L377.35,110.27L377.35,108.78L343.59,108.78L343.59,107.29L357.46,107.29L357.46,105.80L360.38,105.80L360.38,104.31L366.40,104.31L366.40,102.82L387.21,102.82L387.21,101.33L392.50,101.33L392.50,99.84L383.56,99.84L383.56,98.35L380.09,98.35L380.09,96.86L390.67,96.86L390.67,95.37L366.77,95.37L366.77,93.88L364.76,93.88L364.76,92.39L370.60,92.39L370.60,90.90L373.70,90.90L373.70,89.42L353.81,89.42L353.81,87.93L334.10,87.93L334.10,86.44L332.27,86.44L332.27,84.95L343.95,84.95L343.95,83.46L341.22,83.46L341.22,81.97L337.20,81.97L337.20,80.48L332.64,80.48L332.64,78.99L326.62,78.99L326.62,77.50L306.00,77.50L306.00,76.01L310.01,76.01L310.01,74.52L304.53,74.52L304.53,73.03L304.90,73.03L304.90,71.54L300.88,71.54L300.88,70.05L299.79,70.05L299.79,68.56L291.03,68.56L291.03,67.07L286.28,67.07L286.28,65.58L280.44,65.58L280.44,64.10L281.54,64.10L281.54,62.61L284.46,62.61L284.46,61.12L272.41,61.12L272.41,59.63L270.59,59.63L270.59,58.14L270.41,58.14L270.41,56.65L270.41,56.65L270.41,55.16L272.78,55.16L272.78,53.67L270.95,53.67L270.95,52.18L270.77,52.18L270.77,50.69L268.40,50.69L268.40,49.20L268.40,49.20L268.40,47.71L268.40,47.71L268.40,46.22L268.40,46.22L268.40,44.73L268.95,44.73L268.95,43.24L268.40,43.24L268.40,41.75L268.40,41.75L268.40,40.26L268.40,40.26L268.40,38.78L268.40,38.78L268.40,37.29L268.40,37.29L268.40,35.80L268.40,35.80L268.40,34.31L268.40,34.31L268.40,32.82L268.40,32.82L268.40,31.33L268.40,31.33L268.40,29.84L268.40,29.84L268.40,28.35L268.40,28.35L268.40,26.86L268.40,26.86L268.40,25.37L268.40,25.37L268.40,23.88L268.40,23.88L268.40,22.39L268.40,22.39L268.40,20.90L268.40,20.90L268.40,19.41L268.40,19.41L268.40,17.92L268.40,17.92L268.40,16.43L268.40,16.43L268.40,17.92L268.40,17.92L268.40,19.41L268.40,19.41L268.40,20.90L268.40,20.90L268.40,22.39L268.40,22.39L268.40,23.88L268.40,23.88L268.40,25.37L268.40,25.37L268.40,26.86L268.40,26.86L268.40,28.35L268.40,28.35L268.40,29.84L268.40,29.84L268.40,31.33L268.40,31.33L268.40,32.82L268.40,32.82L268.40,34.31L268.40,34.31L268.40,35.80L268.40,35.80L268.40,37.29L268.40,37.29L268.40,38.78L268.40,38.78L268.40,40.26L268.40,40.26L268.40,41.75L268.40,41.75L268.40,43.24L268.40,43.24L268.40,44.73L268.40,44.73L268.40,46.22L268.40,46.22L268.40,47.71L268.40,47.71L268.40,49.20L268.40,49.20L268.40,50.69L268.40,50.69L268.40,52.18L269.69,52.18L269.69,53.67L269.51,53.67L269.51,55.16L269.51,55.16L269.51,56.65L269.51,56.65L269.51,58.14L269.51,58.14L269.51,59.63L269.69,59.63L269.69,61.12L271.51,61.12L271.51,62.61L279.54,62.61L279.54,64.10L279.54,64.10L279.54,65.58L279.54,65.58L279.54,67.07L285.38,67.07L285.38,68.56L289.40,68.56L289.40,70.05L296.70,70.05L296.70,71.54L297.43,71.54L297.43,73.03L297.79,73.03L297.79,74.52L299.25,74.52L299.25,76.01L299.62,76.01L299.62,77.50L299.62,77.50L299.62,78.99L309.84,78.99L309.84,80.48L310.94,80.48L310.94,81.97L311.85,81.97L311.85,83.46L315.31,83.46L315.31,84.95L309.47,84.95L309.47,86.44L309.47,86.44L309.47,87.93L309.47,87.93L309.47,89.42L310.39,89.42L310.39,90.90L312.21,90.90L312.21,92.39L310.57,92.39L310.57,93.88L308.01,93.88L308.01,95.37L308.01,95.37L308.01,96.86L308.01,96.86L308.01,98.35L309.47,98.35L309.47,99.84L311.66,99.84L311.66,101.33L314.58,101.33L314.58,102.82L312.03,102.82L312.03,104.31L309.11,104.31L309.11,105.80L304.00,105.80L304.00,107.29L304.00,107.29L304.00,108.78L304.00,108.78L304.00,110.27L305.46,110.27L305.46,111.76L310.57,111.76L310.57,113.25L310.57,113.25L310.57,114.74L316.41,114.74L316.41,116.22L324.80,116.22L324.80,117.71L345.97,117.71L345.97,119.20L345.97,119.20L345.97,120.69L352.91,120.69L352.91,122.18L368.60,122.18L368.60,123.67L370.43,123.67L370.43,125.16L375.72,125.16L375.72,126.65L381.38,126.65L381.38,128.14L381.38,128.14L381.38,129.63L381.38,129.63L381.38,131.12L412.40,131.12L412.40,132.61L435.22,132.61L435.22,134.10L435.22,134.10L435.22,135.59L449.63,135.59L449.63,137.08Z" fill="#B4001E"/>
<path d="M450.53,137.08L450.53,135.59L450.53,135.59L450.53,134.10L436.12,134.10L436.12,132.61L443.42,132.61L443.42,131.12L413.30,131.12L413.30,129.63L382.28,129.63L382.28,128.14L425.71,128.14L425.71,126.65L394.51,126.65L394.51,125.16L376.62,125.16L376.62,123.67L371.33,123.67L371.33,122.18L369.50,122.18L369.50,120.69L353.81,120.69L353.81,119.20L346.88,119.20L346.88,117.71L362.75,117.71L362.75,116.22L325.70,116.22L325.70,114.74L317.31,114.74L317.31,113.25L311.47,113.25L311.47,111.76L333.00,111.76L333.00,110.27L306.36,110.27L306.36,108.78L304.90,108.78L304.90,107.29L310.01,107.29L310.01,105.80L312.93,105.80L312.93,104.31L324.97,104.31L324.97,102.82L315.67,102.82L315.67,101.33L315.48,101.33L315.48,99.84L312.56,99.84L312.56,98.35L310.38,98.35L310.38,96.86L308.91,96.86L308.91,95.37L311.47,95.37L311.47,93.88L313.11,93.88L313.11,92.39L314.02,92.39L314.02,90.90L330.45,90.90L330.45,89.42L311.29,89.42L311.29,87.93L310.38,87.93L310.38,86.44L316.21,86.44L316.21,84.95L318.40,84.95L318.40,83.46L317.67,83.46L317.67,81.97L312.75,81.97L312.75,80.48L311.83,80.48L311.83,78.99L310.74,78.99L310.74,77.50L300.52,77.50L300.52,76.01L304.90,76.01L304.90,74.52L300.15,74.52L300.15,73.03L298.69,73.03L298.69,71.54L298.33,71.54L298.33,70.05L297.60,70.05L297.60,68.56L290.30,68.56L290.30,67.07L286.28,67.07L286.28,65.58L280.44,65.58L280.44,64.10L281.54,64.10L281.54,62.61L281.17,62.61L281.17,61.12L272.41,61.12L272.41,59.63L270.59,59.63L270.59,58.14L270.41,58.14L270.41,56.65L270.41,56.65L270.41,55.16L270.77,55.16L270.77,53.67L270.59,53.67L270.59,52.18L270.77,52.18L270.77,50.69L268.40,50.69L268.40,49.20L268.40,49.20L268.40,47.71L268.40,47.71L268.40,46.22L268.40,46.22L268.40,44.73L268.95,44.73L268.95,43.24L268.40,43.24L268.40,41.75L268.40,41.75L268.40,40.26L268.40,40.26L268.40,38.78L268.40,38.78L268.40,37.29L268.40,37.29L268.40,35.80L268.40,35.80L268.40,34.31L268.40,34.31L268.40,32.82L268.40,32.82L268.40,31.33L268.40,31.33L268.40,29.84L268.40,29.84L268.40,28.35L268.40,28.35L268.40,26.86L268.40,26.86L268.40,25.37L268.40,25.37L268.40,23.88L268.40,23.88L268.40,22.39L268.40,22.39L268.40,20.90L268.40,20.90L268.40,19.41L268.40,19.41L268.40,17.92L268.40,17.92L268.40,16.43L268.40,16.43L268.40,17.92L268.40,17.92L268.40,19.41L268.40,19.41L268.40,20.90L268.40,20.90L268.40,22.39L268.40,22.39L268.40,23.88L268.40,23.88L268.40,25.37L268.40,25.37L268.40,26.86L268.40,26.86L268.40,28.35L268.40,28.35L268.40,29.84L268.40,29.84L268.40,31.33L268.40,31.33L268.40,32.82L268.40,32.82L268.40,34.31L268.40,34.31L268.40,35.80L268.40,35.80L268.40,37.29L268.40,37.29L268.40,38.78L268.40,38.78L268.40,40.26L268.40,40.26L268.40,41.75L268.40,41.75L268.40,43.24L268.40,43.24L268.40,44.73L268.40,44.73L268.40,46.22L268.40,46.22L268.40,47.71L268.40,47.71L268.40,49.20L268.40,49.20L268.40,50.69L268.40,50.69L268.40,52.18L268.40,52.18L268.40,53.67L268.40,53.67L268.40,55.16L268.40,55.16L268.40,56.65L268.40,56.65L268.40,58.14L268.40,58.14L268.40,59.63L268.40,59.63L268.40,61.12L269.14,61.12L269.14,62.61L274.44,62.61L274.44,64.10L274.44,64.10L274.44,65.58L274.44,65.58L274.44,67.07L279.54,67.07L279.54,68.56L283.92,68.56L283.92,70.05L287.57,70.05L287.57,71.54L288.30,71.54L288.30,73.03L288.67,73.03L288.67,74.52L289.76,74.52L289.76,76.01L290.86,76.01L290.86,77.50L290.86,77.50L290.86,78.99L299.44,78.99L299.44,80.48L300.53,80.48L300.53,81.97L301.81,81.97L301.81,83.46L298.52,83.46L298.52,84.95L298.52,84.95L298.52,86.44L298.52,86.44L298.52,87.93L305.28,87.93L305.28,89.42L306.92,89.42L306.92,90.90L306.19,90.90L306.19,92.39L301.44,92.39L301.44,93.88L297.61,93.88L297.61,95.37L295.97,95.37L295.97,96.86L295.97,96.86L295.97,98.35L295.97,98.35L295.97,99.84L301.44,99.84L301.44,101.33L301.99,101.33L301.99,102.82L295.06,102.82L295.06,104.31L294.88,104.31L294.88,105.80L290.31,105.80L290.31,107.29L285.20,107.29L285.20,108.78L285.20,108.78L285.20,110.27L285.20,110.27L285.20,111.76L288.12,111.76L288.12,113.25L288.12,113.25L288.12,114.74L288.12,114.74L288.12,116.22L308.20,116.22L308.20,117.71L320.06,117.71L320.06,119.20L320.06,119.20L320.06,120.69L320.06,120.69L320.06,122.18L336.12,122.18L336.12,123.67L350.17,123.67L350.17,125.16L333.75,125.16L333.75,126.65L333.38,126.65L333.38,128.14L333.38,128.14L333.38,129.63L333.38,129.63L333.38,131.12L411.13,131.12L411.13,132.61L426.82,132.61L426.82,134.10L432.30,134.10L432.30,135.59L446.90,135.59L446.90,137.08Z" fill="#F5FF00"/>
<path d="M447.80,137.08L447.80,135.59L447.80,135.59L447.80,134.10L433.20,134.10L433.20,132.61L427.72,132.61L427.72,131.12L412.03,131.12L412.03,129.63L334.28,129.63L334.28,128.14L334.65,128.14L334.65,126.65L351.07,126.65L351.07,125.16L366.58,125.16L366.58,123.67L352.90,123.67L352.90,122.18L337.02,122.18L337.02,120.69L320.96,120.69L320.96,119.20L329.17,119.20L329.17,117.71L340.12,117.71L340.12,116.22L309.10,116.22L309.10,114.74L289.02,114.74L289.02,113.25L290.85,113.25L290.85,111.76L299.61,111.76L299.61,110.27L286.10,110.27L286.10,108.78L291.21,108.78L291.21,107.29L295.77,107.29L295.77,105.80L295.96,105.80L295.96,104.31L303.62,104.31L303.62,102.82L303.62,102.82L303.62,101.33L302.89,101.33L302.89,99.84L302.34,99.84L302.34,98.35L296.87,98.35L296.87,96.86L298.51,96.86L298.51,95.37L302.34,95.37L302.34,93.88L307.09,93.88L307.09,92.39L307.82,92.39L307.82,90.90L310.38,90.90L310.38,89.42L309.83,89.42L309.83,87.93L306.18,87.93L306.18,86.44L299.42,86.44L299.42,84.95L303.99,84.95L303.99,83.46L306.00,83.46L306.00,81.97L302.71,81.97L302.71,80.48L301.43,80.48L301.43,78.99L300.34,78.99L300.34,77.50L291.76,77.50L291.76,76.01L292.85,76.01L292.85,74.52L290.66,74.52L290.66,73.03L289.57,73.03L289.57,71.54L289.20,71.54L289.20,70.05L288.47,70.05L288.47,68.56L284.82,68.56L284.82,67.07L280.44,67.07L280.44,65.58L275.33,65.58L275.33,64.10L276.06,64.10L276.06,62.61L277.16,62.61L277.16,61.12L270.04,61.12L270.04,59.63L269.13,59.63L269.13,58.14L268.76,58.14L268.76,56.65L268.40,56.65L268.40,55.16L268.95,55.16L268.95,53.67L268.76,53.67L268.76,52.18L269.31,52.18L269.31,50.69L268.40,50.69L268.40,49.20L268.40,49.20L268.40,47.71L268.40,47.71L268.40,46.22L268.40,46.22L268.40,44.73L268.40,44.73L268.40,43.24L268.40,43.24L268.40,41.75L268.40,41.75L268.40,40.26L268.40,40.26L268.40,38.78L268.40,38.78L268.40,37.29L268.40,37.29L268.40,35.80L268.40,35.80L268.40,34.31L268.40,34.31L268.40,32.82L268.40,32.82L268.40,31.33L268.40,31.33L268.40,29.84L268.40,29.84L268.40,28.35L268.40,28.35L268.40,26.86L268.40,26.86L268.40,25.37L268.40,25.37L268.40,23.88L268.40,23.88L268.40,22.39L268.40,22.39L268.40,20.90L268.40,20.90L268.40,19.41L268.40,19.41L268.40,17.92L268.40,17.92L268.40,16.43L268.40,16.43L268.40,17.92L268.40,17.92L268.40,19.41L268.40,19.41L268.40,20.90L268.40,20.90L268.40,22.39L268.40,22.39L268.40,23.88L268.40,23.88L268.40,25.37L268.40,25.37L268.40,26.86L268.40,26.86L268.40,28.35L268.40,28.35L268.40,29.84L268.40,29.84L268.40,31.33L268.40,31.33L268.40,32.82L268.40,32.82L268.40,34.31L268.40,34.31L268.40,35.80L268.40,35.80L268.40,37.29L268.40,37.29L268.40,38.78L268.40,38.78L268.40,40.26L268.40,40.26L268.40,41.75L268.40,41.75L268.40,43.24L268.40,43.24L268.40,44.73L268.40,44.73L268.40,46.22L268.40,46.22L268.40,47.71L268.40,47.71L268.40,49.20L268.40,49.20L268.40,50.69L268.40,50.69L268.40,52.18L268.40,52.18L268.40,53.67L268.40,53.67L268.40,55.16L268.40,55.16L268.40,56.65L268.40,56.65L268.40,58.14L268.40,58.14L268.40,59.63L268.40,59.63L268.40,61.12L268.40,61.12L268.40,62.61L268.40,62.61L268.40,64.10L268.40,64.10L268.40,65.58L268.40,65.58L268.40,67.07L268.40,67.07L268.40,68.56L268.40,68.56L268.40,70.05L268.40,70.05L268.40,71.54L268.40,71.54L268.40,73.03L268.40,73.03L268.40,74.52L268.40,74.52L268.40,76.01L268.40,76.01L268.40,77.50L268.40,77.50L268.40,78.99L268.40,78.99L268.40,80.48L268.40,80.48L268.40,81.97L268.40,81.97L268.40,83.46L268.40,83.46L268.40,84.95L268.40,84.95L268.40,86.44L268.40,86.44L268.40,87.93L268.40,87.93L268.40,89.42L268.40,89.42L268.40,90.90L268.40,90.90L268.40,92.39L268.40,92.39L268.40,93.88L268.40,93.88L268.40,95.37L268.40,95.37L268.40,96.86L268.40,96.86L268.40,98.35L268.40,98.35L268.40,99.84L268.40,99.84L268.40,101.33L268.40,101.33L268.40,102.82L268.40,102.82L268.40,104.31L268.40,104.31L268.40,105.80L268.40,105.80L268.40,107.29L268.40,107.29L268.40,108.78L268.40,108.78L268.40,110.27L268.40,110.27L268.40,111.76L268.40,111.76L268.40,113.25L268.40,113.25L268.40,114.74L268.40,114.74L268.40,116.22L268.40,116.22L268.40,117.71L268.40,117.71L268.40,119.20L268.40,119.20L268.40,120.69L268.40,120.69L268.40,122.18L268.40,122.18L268.40,123.67L268.40,123.67L268.40,125.16L268.40,125.16L268.40,126.65L268.40,126.65L268.40,128.14L268.40,128.14L268.40,129.63L268.40,129.63L268.40,131.12L268.40,131.12L268.40,132.61L268.40,132.61L268.40,134.10L268.40,134.10L268.40,135.59L268.40,135.59L268.40,137.08Z" fill="#00B07F"/>
<path d="M277.52,14.20v0.9" stroke="#555" stroke-width="0.6"/>
<path d="M286.65,14.20v0.9" stroke="#555" stroke-width="0.6"/>
<path d="M295.77,14.20v0.9" stroke="#555" stroke-width="0.6"/>
<path d="M304.90,14.20v0.9" stroke="#555" stroke-width="0.6"/>
<path d="M314.02,14.20v0.9" stroke="#555" stroke-width="0.6"/>
<path d="M323.15,14.20v0.9" stroke="#555" stroke-width="0.6"/>
<path d="M332.27,14.20v0.9" stroke="#555" stroke-width="0.6"/>
<path d="M341.40,14.20v0.9" stroke="#555" stroke-width="0.6"/>
<path d="M350.52,14.20v0.9" stroke="#555" stroke-width="0.6"/>
<path d="M359.65,14.20v0.9" stroke="#555" stroke-width="0.6"/>
<path d="M368.77,14.20v0.9" stroke="#555" stroke-width="0.6"/>
<path d="M377.90,14.20v0.9" stroke="#555" stroke-width="0.6"/>
<path d="M387.02,14.20v0.9" stroke="#555" stroke-width="0.6"/>
<path d="M396.15,14.20v0.9" stroke="#555" stroke-width="0.6"/>
<path d="M405.27,14.20v0.9" stroke="#555" stroke-width="0.6"/>
<path d="M414.40,14.20v0.9" stroke="#555" stroke-width="0.6"/>
<path d="M423.52,14.20v0.9" stroke="#555" stroke-width="0.6"/>
<path d="M432.65,14.20v0.9" stroke="#555" stroke-width="0.6"/>
<path d="M441.77,14.20v0.9" stroke="#555" stroke-width="0.6"/>
<text transform="translate(268.40,153.80) scale(1,1.1)" text-anchor="middle" class="t">0</text>
<text transform="translate(304.90,153.80) scale(1,1.1)" text-anchor="middle" class="t">20</text>
<text transform="translate(341.40,153.80) scale(1,1.1)" text-anchor="middle" class="t">40</text>
<text transform="translate(377.90,153.80) scale(1,1.1)" text-anchor="middle" class="t">60</text>
<text transform="translate(414.40,153.80) scale(1,1.1)" text-anchor="middle" class="t">80</text>
<text transform="translate(450.90,153.80) scale(1,1.1)" text-anchor="middle" class="t">100</text>
<text x="359.65" y="172.40" text-anchor="middle" class="x">Fraction [%]</text>
<text transform="translate(265.60,114.81) scale(1,1.1)" text-anchor="end" class="t">350</text>
<text transform="translate(265.60,77.58) scale(1,1.1)" text-anchor="end" class="t">400</text>
<text transform="translate(265.60,40.34) scale(1,1.1)" text-anchor="end" class="t">450</text>
<text x="359.65" y="9.60" text-anchor="middle" class="h">(b) pre&#8722;monsoon 2017</text>
<rect x="494.60" y="14.20" width="182.50" height="126.60" fill="#fff" stroke="#555" stroke-width="0.55"/>
<path d="M494.60,140.80v-3.6" stroke="#333" stroke-width="0.5"/>
<path d="M503.73,140.80v-2.2" stroke="#333" stroke-width="0.5"/>
<path d="M512.85,140.80v-2.2" stroke="#333" stroke-width="0.5"/>
<path d="M521.98,140.80v-2.2" stroke="#333" stroke-width="0.5"/>
<path d="M531.10,140.80v-3.6" stroke="#333" stroke-width="0.5"/>
<path d="M540.23,140.80v-2.2" stroke="#333" stroke-width="0.5"/>
<path d="M549.35,140.80v-2.2" stroke="#333" stroke-width="0.5"/>
<path d="M558.48,140.80v-2.2" stroke="#333" stroke-width="0.5"/>
<path d="M567.60,140.80v-3.6" stroke="#333" stroke-width="0.5"/>
<path d="M576.73,140.80v-2.2" stroke="#333" stroke-width="0.5"/>
<path d="M585.85,140.80v-2.2" stroke="#333" stroke-width="0.5"/>
<path d="M594.98,140.80v-2.2" stroke="#333" stroke-width="0.5"/>
<path d="M604.10,140.80v-3.6" stroke="#333" stroke-width="0.5"/>
<path d="M613.23,140.80v-2.2" stroke="#333" stroke-width="0.5"/>
<path d="M622.35,140.80v-2.2" stroke="#333" stroke-width="0.5"/>
<path d="M631.48,140.80v-2.2" stroke="#333" stroke-width="0.5"/>
<path d="M640.60,140.80v-3.6" stroke="#333" stroke-width="0.5"/>
<path d="M649.73,140.80v-2.2" stroke="#333" stroke-width="0.5"/>
<path d="M658.85,140.80v-2.2" stroke="#333" stroke-width="0.5"/>
<path d="M667.98,140.80v-2.2" stroke="#333" stroke-width="0.5"/>
<path d="M677.10,140.80v-3.6" stroke="#333" stroke-width="0.5"/>
<rect x="494.70" y="14.48" width="182.40" height="122.60" fill="#DCDCF0"/>
<path d="M677.10,137.08L677.10,135.59L677.10,135.59L677.10,134.10L677.10,134.10L677.10,132.61L676.19,132.61L676.19,131.12L674.00,131.12L674.00,129.63L674.91,129.63L674.91,128.14L675.82,128.14L675.82,126.65L675.27,126.65L675.27,125.16L675.64,125.16L675.64,123.67L675.64,123.67L675.64,122.18L675.27,122.18L675.27,120.69L675.27,120.69L675.27,119.20L675.27,119.20L675.27,117.71L675.27,117.71L675.27,116.22L674.18,116.22L674.18,114.74L673.45,114.74L673.45,113.25L673.82,113.25L673.82,111.76L673.45,111.76L673.45,110.27L673.09,110.27L673.09,108.78L672.72,108.78L672.72,107.29L673.09,107.29L673.09,105.80L673.09,105.80L673.09,104.31L672.72,104.31L672.72,102.82L673.82,102.82L673.82,101.33L674.18,101.33L674.18,99.84L674.18,99.84L674.18,98.35L673.45,98.35L673.45,96.86L673.09,96.86L673.09,95.37L673.09,95.37L673.09,93.88L673.27,93.88L673.27,92.39L673.27,92.39L673.27,90.90L673.27,90.90L673.27,89.42L672.54,89.42L672.54,87.93L671.99,87.93L671.99,86.44L671.26,86.44L671.26,84.95L671.26,84.95L671.26,83.46L670.71,83.46L670.71,81.97L671.26,81.97L671.26,80.48L670.71,80.48L670.71,78.99L669.98,78.99L669.98,77.50L669.25,77.50L669.25,76.01L668.52,76.01L668.52,74.52L666.15,74.52L666.15,73.03L666.51,73.03L666.51,71.54L664.51,71.54L664.51,70.05L661.22,70.05L661.22,68.56L663.96,68.56L663.96,67.07L641.70,67.07L641.70,65.58L657.02,65.58L657.02,64.10L657.21,64.10L657.21,62.61L649.73,62.61L649.73,61.12L636.40,61.12L636.40,59.63L589.50,59.63L589.50,58.14L600.09,58.14L600.09,56.65L602.27,56.65L602.27,55.16L624.90,55.16L624.90,53.67L589.50,53.67L589.50,52.18L618.15,52.18L618.15,50.69L597.35,50.69L597.35,49.20L556.47,49.20L556.47,47.71L576.00,47.71L576.00,46.22L541.69,46.22L541.69,44.73L520.88,44.73L520.88,43.24L528.18,43.24L528.18,41.75L532.93,41.75L532.93,40.26L533.65,40.26L533.65,38.78L530.92,38.78L530.92,37.29L530.92,37.29L530.92,35.80L536.39,35.80L536.39,34.31L543.69,34.31L543.69,32.82L527.45,32.82L527.45,31.33L527.45,31.33L527.45,29.84L520.88,29.84L520.88,28.35L517.60,28.35L517.60,26.86L520.15,26.86L520.15,25.37L520.88,25.37L520.88,23.88L522.89,23.88L522.89,22.39L525.62,22.39L525.62,20.90L529.64,20.90L529.64,19.41L529.64,19.41L529.64,17.92L518.87,17.92L518.87,16.43L505.20,16.43L505.20,17.92L503.92,17.92L503.92,19.41L502.46,19.41L502.46,20.90L501.91,20.90L501.91,22.39L501.91,22.39L501.91,23.88L501.91,23.88L501.91,25.37L501.91,25.37L501.91,26.86L501.18,26.86L501.18,28.35L501.18,28.35L501.18,29.84L501.18,29.84L501.18,31.33L503.19,31.33L503.19,32.82L502.46,32.82L502.46,34.31L502.46,34.31L502.46,35.80L502.46,35.80L502.46,37.29L505.20,37.29L505.20,38.78L505.20,38.78L505.20,40.26L504.47,40.26L504.47,41.75L499.91,41.75L499.91,43.24L499.91,43.24L499.91,44.73L499.91,44.73L499.91,46.22L519.98,46.22L519.98,47.71L519.98,47.71L519.98,49.20L527.28,49.20L527.28,50.69L531.30,50.69L531.30,52.18L532.75,52.18L532.75,53.67L532.75,53.67L532.75,55.16L527.28,55.16L527.28,56.65L527.28,56.65L527.28,58.14L527.28,58.14L527.28,59.63L548.45,59.63L548.45,61.12L572.17,61.12L572.17,62.61L594.44,62.61L594.44,64.10L595.17,64.10L595.17,65.58L606.67,65.58L606.67,67.07L606.85,67.07L606.85,68.56L622.00,68.56L622.00,70.05L627.47,70.05L627.47,71.54L629.48,71.54L629.48,73.03L629.48,73.03L629.48,74.52L629.48,74.52L629.48,76.01L638.79,76.01L638.79,77.50L639.52,77.50L639.52,78.99L640.98,78.99L640.98,80.48L646.27,80.48L646.27,81.97L649.56,81.97L649.56,83.46L651.56,83.46L651.56,84.95L652.84,84.95L652.84,86.44L655.58,86.44L655.58,87.93L657.59,87.93L657.59,89.42L659.59,89.42L659.59,90.90L661.60,90.90L661.60,92.39L662.33,92.39L662.33,93.88L663.06,93.88L663.06,95.37L665.07,95.37L665.07,96.86L666.89,96.86L666.89,98.35L667.26,98.35L667.26,99.84L667.62,99.84L667.62,101.33L663.97,101.33L663.97,102.82L663.97,102.82L663.97,104.31L663.97,104.31L663.97,105.80L662.15,105.80L662.15,107.29L662.15,107.29L662.15,108.78L662.15,108.78L662.15,110.27L665.43,110.27L665.43,111.76L666.16,111.76L666.16,113.25L666.16,113.25L666.16,114.74L666.16,114.74L666.16,116.22L669.08,116.22L669.08,117.71L671.09,117.71L671.09,119.20L671.09,119.20L671.09,120.69L671.09,120.69L671.09,122.18L671.82,122.18L671.82,123.67L671.64,123.67L671.64,125.16L671.64,125.16L671.64,126.65L671.64,126.65L671.64,128.14L671.64,128.14L671.64,129.63L671.64,129.63L671.64,131.12L671.64,131.12L671.64,132.61L675.29,132.61L675.29,134.10L676.20,134.10L676.20,135.59L676.20,135.59L676.20,137.08Z" fill="#009696"/>
<path d="M677.10,137.08L677.10,135.59L677.10,135.59L677.10,134.10L677.10,134.10L677.10,132.61L676.19,132.61L676.19,131.12L672.54,131.12L672.54,129.63L672.54,129.63L672.54,128.14L674.73,128.14L674.73,126.65L672.54,126.65L672.54,125.16L673.27,125.16L673.27,123.67L673.45,123.67L673.45,122.18L672.72,122.18L672.72,120.69L671.99,120.69L671.99,119.20L672.54,119.20L672.54,117.71L673.45,117.71L673.45,116.22L669.98,116.22L669.98,114.74L667.06,114.74L667.06,113.25L667.79,113.25L667.79,111.76L668.89,111.76L668.89,110.27L666.33,110.27L666.33,108.78L663.05,108.78L663.05,107.29L667.06,107.29L667.06,105.80L666.33,105.80L666.33,104.31L664.87,104.31L664.87,102.82L668.52,102.82L668.52,101.33L669.25,101.33L669.25,99.84L669.62,99.84L669.62,98.35L668.16,98.35L668.16,96.86L667.79,96.86L667.79,95.37L665.97,95.37L665.97,93.88L663.96,93.88L663.96,92.39L663.23,92.39L663.23,90.90L662.50,90.90L662.50,89.42L660.49,89.42L660.49,87.93L658.49,87.93L658.49,86.44L656.48,86.44L656.48,84.95L653.74,84.95L653.74,83.46L652.46,83.46L652.46,81.97L650.46,81.97L650.46,80.48L647.17,80.48L647.17,78.99L641.88,78.99L641.88,77.50L640.42,77.50L640.42,76.01L639.69,76.01L639.69,74.52L630.38,74.52L630.38,73.03L630.93,73.03L630.93,71.54L630.38,71.54L630.38,70.05L628.37,70.05L628.37,68.56L622.90,68.56L622.90,67.07L607.75,67.07L607.75,65.58L607.57,65.58L607.57,64.10L596.07,64.10L596.07,62.61L595.34,62.61L595.34,61.12L573.08,61.12L573.08,59.63L549.35,59.63L549.35,58.14L528.18,58.14L528.18,56.65L537.67,56.65L537.67,55.16L557.75,55.16L557.75,53.67L533.65,53.67L533.65,52.18L556.47,52.18L556.47,50.69L532.20,50.69L532.20,49.20L528.18,49.20L528.18,47.71L520.88,47.71L520.88,46.22L520.88,46.22L520.88,44.73L500.81,44.73L500.81,43.24L505.37,43.24L505.37,41.75L507.38,41.75L507.38,40.26L506.83,40.26L506.83,38.78L506.10,38.78L506.10,37.29L506.83,37.29L506.83,35.80L503.36,35.80L503.36,34.31L510.84,34.31L510.84,32.82L505.37,32.82L505.37,31.33L504.09,31.33L504.09,29.84L502.08,29.84L502.08,28.35L502.81,28.35L502.81,26.86L504.82,26.86L504.82,25.37L504.09,25.37L504.09,23.88L502.81,23.88L502.81,22.39L503.36,22.39L503.36,20.90L504.82,20.90L504.82,19.41L506.10,19.41L506.10,17.92L506.83,17.92L506.83,16.43L499.18,16.43L499.18,17.92L498.45,17.92L498.45,19.41L497.90,19.41L497.90,20.90L497.90,20.90L497.90,22.39L497.90,22.39L497.90,23.88L497.17,23.88L497.17,25.37L497.17,25.37L497.17,26.86L496.44,26.86L496.44,28.35L496.44,28.35L496.44,29.84L496.44,29.84L496.44,31.33L497.17,31.33L497.17,32.82L497.17,32.82L497.17,34.31L497.90,34.31L497.90,35.80L498.45,35.80L498.45,37.29L498.45,37.29L498.45,38.78L498.45,38.78L498.45,40.26L498.45,40.26L498.45,41.75L496.99,41.75L496.99,43.24L496.99,43.24L496.99,44.73L496.99,44.73L496.99,46.22L511.22,46.22L511.22,47.71L511.22,47.71L511.22,49.20L511.22,49.20L511.22,50.69L511.95,50.69L511.95,52.18L511.95,52.18L511.95,53.67L512.50,53.67L512.50,55.16L511.95,55.16L511.95,56.65L511.95,56.65L511.95,58.14L511.95,58.14L511.95,59.63L528.38,59.63L528.38,61.12L546.08,61.12L546.08,62.61L558.31,62.61L558.31,64.10L558.31,64.10L558.31,65.58L558.31,65.58L558.31,67.07L595.90,67.07L595.90,68.56L597.73,68.56L597.73,70.05L607.95,70.05L607.95,71.54L607.95,71.54L607.95,73.03L608.67,73.03L608.67,74.52L610.13,74.52L610.13,76.01L618.71,76.01L618.71,77.50L621.45,77.50L621.45,78.99L632.95,78.99L632.95,80.48L635.50,80.48L635.50,81.97L638.06,81.97L638.06,83.46L640.80,83.46L640.80,84.95L642.25,84.95L642.25,86.44L643.53,86.44L643.53,87.93L649.01,87.93L649.01,89.42L652.84,89.42L652.84,90.90L655.76,90.90L655.76,92.39L657.04,92.39L657.04,93.88L657.77,93.88L657.77,95.37L659.15,95.37L659.15,96.86L662.15,96.86L662.15,98.35L662.15,98.35L662.15,99.84L663.24,99.84L663.24,101.33L657.40,101.33L657.40,102.82L657.40,102.82L657.40,104.31L657.40,104.31L657.40,105.80L654.48,105.80L654.48,107.29L654.48,107.29L654.48,108.78L654.48,108.78L654.48,110.27L658.86,110.27L658.86,111.76L660.69,111.76L660.69,113.25L660.69,113.25L660.69,114.74L662.88,114.74L662.88,116.22L666.16,116.22L666.16,117.71L669.08,117.71L669.08,119.20L669.08,119.20L669.08,120.69L669.08,120.69L669.08,122.18L670.73,122.18L670.73,123.67L669.63,123.67L669.63,125.16L669.63,125.16L669.63,126.65L667.62,126.65L667.62,128.14L667.62,128.14L667.62,129.63L667.62,129.63L667.62,131.12L670.36,131.12L670.36,132.61L675.29,132.61L675.29,134.10L676.20,134.10L676.20,135.59L676.20,135.59L676.20,137.08Z" fill="#0050E6"/>
<path d="M677.10,137.08L677.10,135.59L677.10,135.59L677.10,134.10L677.10,134.10L677.10,132.61L676.19,132.61L676.19,131.12L671.26,131.12L671.26,129.63L668.52,129.63L668.52,128.14L674.00,128.14L674.00,126.65L670.53,126.65L670.53,125.16L671.81,125.16L671.81,123.67L672.17,123.67L672.17,122.18L671.62,122.18L671.62,120.69L669.98,120.69L669.98,119.20L670.71,119.20L670.71,117.71L672.90,117.71L672.90,116.22L667.06,116.22L667.06,114.74L663.78,114.74L663.78,113.25L661.59,113.25L661.59,111.76L665.60,111.76L665.60,110.27L659.76,110.27L659.76,108.78L655.38,108.78L655.38,107.29L662.68,107.29L662.68,105.80L659.03,105.80L659.03,104.31L658.30,104.31L658.30,102.82L664.14,102.82L664.14,101.33L664.51,101.33L664.51,99.84L665.60,99.84L665.60,98.35L663.05,98.35L663.05,96.86L663.41,96.86L663.41,95.37L660.05,95.37L660.05,93.88L658.67,93.88L658.67,92.39L657.94,92.39L657.94,90.90L656.66,90.90L656.66,89.42L653.74,89.42L653.74,87.93L649.91,87.93L649.91,86.44L644.43,86.44L644.43,84.95L643.15,84.95L643.15,83.46L641.70,83.46L641.70,81.97L638.96,81.97L638.96,80.48L636.40,80.48L636.40,78.99L633.85,78.99L633.85,77.50L622.35,77.50L622.35,76.01L619.61,76.01L619.61,74.52L611.03,74.52L611.03,73.03L609.58,73.03L609.58,71.54L608.85,71.54L608.85,70.05L610.12,70.05L610.12,68.56L598.62,68.56L598.62,67.07L596.80,67.07L596.80,65.58L559.21,65.58L559.21,64.10L576.73,64.10L576.73,62.61L572.53,62.61L572.53,61.12L546.98,61.12L546.98,59.63L529.27,59.63L529.27,58.14L512.85,58.14L512.85,56.65L518.14,56.65L518.14,55.16L521.61,55.16L521.61,53.67L513.40,53.67L513.40,52.18L512.85,52.18L512.85,50.69L512.85,50.69L512.85,49.20L512.12,49.20L512.12,47.71L512.12,47.71L512.12,46.22L512.12,46.22L512.12,44.73L497.89,44.73L497.89,43.24L499.35,43.24L499.35,41.75L500.08,41.75L500.08,40.26L499.35,40.26L499.35,38.78L500.08,38.78L500.08,37.29L500.08,37.29L500.08,35.80L499.35,35.80L499.35,34.31L498.80,34.31L498.80,32.82L498.07,32.82L498.07,31.33L498.07,31.33L498.07,29.84L497.34,29.84L497.34,28.35L498.07,28.35L498.07,26.86L498.07,26.86L498.07,25.37L498.80,25.37L498.80,23.88L498.80,23.88L498.80,22.39L498.80,22.39L498.80,20.90L499.35,20.90L499.35,19.41L500.08,19.41L500.08,17.92L501.35,17.92L501.35,16.43L494.60,16.43L494.60,17.92L494.60,17.92L494.60,19.41L494.60,19.41L494.60,20.90L494.60,20.90L494.60,22.39L494.60,22.39L494.60,23.88L494.60,23.88L494.60,25.37L494.60,25.37L494.60,26.86L494.60,26.86L494.60,28.35L494.60,28.35L494.60,29.84L494.60,29.84L494.60,31.33L494.60,31.33L494.60,32.82L494.60,32.82L494.60,34.31L494.60,34.31L494.60,35.80L494.60,35.80L494.60,37.29L494.60,37.29L494.60,38.78L494.60,38.78L494.60,40.26L494.60,40.26L494.60,41.75L494.60,41.75L494.60,43.24L494.60,43.24L494.60,44.73L494.98,44.73L494.98,46.22L494.80,46.22L494.80,47.71L494.80,47.71L494.80,49.20L494.80,49.20L494.80,50.69L498.45,50.69L498.45,52.18L498.45,52.18L498.45,53.67L496.44,53.67L496.44,55.16L496.44,55.16L496.44,56.65L496.44,56.65L496.44,58.14L496.44,58.14L496.44,59.63L496.44,59.63L496.44,61.12L498.08,61.12L498.08,62.61L516.51,62.61L516.51,64.10L511.95,64.10L511.95,65.58L511.95,65.58L511.95,67.07L511.95,67.07L511.95,68.56L530.57,68.56L530.57,70.05L538.60,70.05L538.60,71.54L540.06,71.54L540.06,73.03L544.44,73.03L544.44,74.52L545.16,74.52L545.16,76.01L546.62,76.01L546.62,77.50L546.62,77.50L546.62,78.99L569.80,78.99L569.80,80.48L571.45,80.48L571.45,81.97L572.90,81.97L572.90,83.46L577.65,83.46L577.65,84.95L577.28,84.95L577.28,86.44L577.28,86.44L577.28,87.93L577.28,87.93L577.28,89.42L599.00,89.42L599.00,90.90L613.42,90.90L613.42,92.39L613.42,92.39L613.42,93.88L613.42,93.88L613.42,95.37L615.98,95.37L615.98,96.86L626.01,96.86L626.01,98.35L626.01,98.35L626.01,99.84L631.12,99.84L631.12,101.33L615.79,101.33L615.79,102.82L615.79,102.82L615.79,104.31L603.93,104.31L603.93,105.80L603.93,105.80L603.93,107.29L603.93,107.29L603.93,108.78L604.11,108.78L604.11,110.27L608.86,110.27L608.86,111.76L608.86,111.76L608.86,113.25L608.86,113.25L608.86,114.74L609.59,114.74L609.59,116.22L614.15,116.22L614.15,117.71L640.98,117.71L640.98,119.20L640.98,119.20L640.98,120.69L649.01,120.69L649.01,122.18L649.01,122.18L649.01,123.67L647.00,123.67L647.00,125.16L647.00,125.16L647.00,126.65L640.07,126.65L640.07,128.14L640.07,128.14L640.07,129.63L640.07,129.63L640.07,131.12L653.93,131.12L653.93,132.61L675.29,132.61L675.29,134.10L676.20,134.10L676.20,135.59L676.20,135.59L676.20,137.08Z" fill="#9B9BF0"/>
<path d="M677.10,137.08L677.10,135.59L677.10,135.59L677.10,134.10L677.10,134.10L677.10,132.61L676.19,132.61L676.19,131.12L654.84,131.12L654.84,129.63L640.97,129.63L640.97,128.14L665.24,128.14L665.24,126.65L647.90,126.65L647.90,125.16L649.91,125.16L649.91,123.67L657.39,123.67L657.39,122.18L655.93,122.18L655.93,120.69L649.91,120.69L649.91,119.20L641.88,119.20L641.88,117.71L665.24,117.71L665.24,116.22L615.05,116.22L615.05,114.74L610.49,114.74L610.49,113.25L609.76,113.25L609.76,111.76L636.95,111.76L636.95,110.27L618.70,110.27L618.70,108.78L605.01,108.78L605.01,107.29L604.83,107.29L604.83,105.80L616.69,105.80L616.69,104.31L616.69,104.31L616.69,102.82L632.02,102.82L632.02,101.33L635.12,101.33L635.12,99.84L633.30,99.84L633.30,98.35L626.91,98.35L626.91,96.86L636.95,96.86L636.95,95.37L616.88,95.37L616.88,93.88L614.32,93.88L614.32,92.39L618.70,92.39L618.70,90.90L617.79,90.90L617.79,89.42L599.90,89.42L599.90,87.93L578.19,87.93L578.19,86.44L578.55,86.44L578.55,84.95L586.03,84.95L586.03,83.46L581.11,83.46L581.11,81.97L573.81,81.97L573.81,80.48L572.35,80.48L572.35,78.99L570.70,78.99L570.70,77.50L547.52,77.50L547.52,76.01L556.47,76.01L556.47,74.52L546.07,74.52L546.07,73.03L545.34,73.03L545.34,71.54L540.96,71.54L540.96,70.05L539.50,70.05L539.50,68.56L531.47,68.56L531.47,67.07L512.85,67.07L512.85,65.58L517.41,65.58L517.41,64.10L519.42,64.10L519.42,62.61L521.98,62.61L521.98,61.12L498.98,61.12L498.98,59.63L497.34,59.63L497.34,58.14L497.70,58.14L497.70,56.65L497.34,56.65L497.34,55.16L506.10,55.16L506.10,53.67L499.35,53.67L499.35,52.18L506.83,52.18L506.83,50.69L506.46,50.69L506.46,49.20L495.70,49.20L495.70,47.71L496.97,47.71L496.97,46.22L496.43,46.22L496.43,44.73L495.88,44.73L495.88,43.24L494.87,43.24L494.87,41.75L495.70,41.75L495.70,40.26L494.78,40.26L494.78,38.78L495.88,38.78L495.88,37.29L495.88,37.29L495.88,35.80L494.78,35.80L494.78,34.31L495.70,34.31L495.70,32.82L494.87,32.82L494.87,31.33L495.88,31.33L495.88,29.84L494.78,29.84L494.78,28.35L495.70,28.35L495.70,26.86L495.88,26.86L495.88,25.37L494.78,25.37L494.78,23.88L495.79,23.88L495.79,22.39L494.87,22.39L494.87,20.90L495.88,20.90L495.88,19.41L494.78,19.41L494.78,17.92L495.70,17.92L495.70,16.43L494.60,16.43L494.60,17.92L494.60,17.92L494.60,19.41L494.60,19.41L494.60,20.90L494.60,20.90L494.60,22.39L494.60,22.39L494.60,23.88L494.60,23.88L494.60,25.37L494.60,25.37L494.60,26.86L494.60,26.86L494.60,28.35L494.60,28.35L494.60,29.84L494.60,29.84L494.60,31.33L494.60,31.33L494.60,32.82L494.60,32.82L494.60,34.31L494.60,34.31L494.60,35.80L494.60,35.80L494.60,37.29L494.60,37.29L494.60,38.78L494.60,38.78L494.60,40.26L494.60,40.26L494.60,41.75L494.60,41.75L494.60,43.24L494.60,43.24L494.60,44.73L494.60,44.73L494.60,46.22L494.60,46.22L494.60,47.71L494.60,47.71L494.60,49.20L494.60,49.20L494.60,50.69L496.44,50.69L496.44,52.18L496.99,52.18L496.99,53.67L496.44,53.67L496.44,55.16L496.44,55.16L496.44,56.65L496.44,56.65L496.44,58.14L496.44,58.14L496.44,59.63L496.44,59.63L496.44,61.12L497.72,61.12L497.72,62.61L505.75,62.61L505.75,64.10L505.75,64.10L505.75,65.58L505.75,65.58L505.75,67.07L511.59,67.07L511.59,68.56L516.33,68.56L516.33,70.05L525.09,70.05L525.09,71.54L526.19,71.54L526.19,73.03L529.84,73.03L529.84,74.52L529.84,74.52L529.84,76.01L531.30,76.01L531.30,77.50L531.30,77.50L531.30,78.99L551.92,78.99L551.92,80.48L557.94,80.48L557.94,81.97L562.50,81.97L562.50,83.46L557.58,83.46L557.58,84.95L557.58,84.95L557.58,86.44L557.58,86.44L557.58,87.93L559.40,87.93L559.40,89.42L579.11,89.42L579.11,90.90L590.06,90.90L590.06,92.39L590.06,92.39L590.06,93.88L590.06,93.88L590.06,95.37L592.07,95.37L592.07,96.86L605.39,96.86L605.39,98.35L605.39,98.35L605.39,99.84L608.86,99.84L608.86,101.33L591.70,101.33L591.70,102.82L585.68,102.82L585.68,104.31L582.76,104.31L582.76,105.80L568.89,105.80L568.89,107.29L568.89,107.29L568.89,108.78L568.89,108.78L568.89,110.27L584.77,110.27L584.77,111.76L584.77,111.76L584.77,113.25L584.77,113.25L584.77,114.74L605.57,114.74L605.57,116.22L608.31,116.22L608.31,117.71L608.67,117.71L608.67,119.20L608.67,119.20L608.67,120.69L609.59,120.69L609.59,122.18L618.35,122.18L618.35,123.67L618.35,123.67L618.35,125.16L618.35,125.16L618.35,126.65L621.45,126.65L621.45,128.14L621.45,128.14L621.45,129.63L621.45,129.63L621.45,131.12L642.99,131.12L642.99,132.61L669.45,132.61L669.45,134.10L674.56,134.10L674.56,135.59L676.20,135.59L676.20,137.08Z" fill="#FFB400"/>
<path d="M677.10,137.08L677.10,135.59L677.10,135.59L677.10,134.10L675.46,134.10L675.46,132.61L670.35,132.61L670.35,131.12L643.88,131.12L643.88,129.63L622.35,129.63L622.35,128.14L658.12,128.14L658.12,126.65L636.59,126.65L636.59,125.16L619.25,125.16L619.25,123.67L631.66,123.67L631.66,122.18L628.74,122.18L628.74,120.69L610.49,120.69L610.49,119.20L609.58,119.20L609.58,117.71L632.75,117.71L632.75,116.22L609.21,116.22L609.21,114.74L606.47,114.74L606.47,113.25L585.67,113.25L585.67,111.76L603.55,111.76L603.55,110.27L603.55,110.27L603.55,108.78L569.79,108.78L569.79,107.29L583.66,107.29L583.66,105.80L586.58,105.80L586.58,104.31L592.60,104.31L592.60,102.82L613.41,102.82L613.41,101.33L618.70,101.33L618.70,99.84L609.76,99.84L609.76,98.35L606.29,98.35L606.29,96.86L616.88,96.86L616.88,95.37L592.97,95.37L592.97,93.88L590.96,93.88L590.96,92.39L596.80,92.39L596.80,90.90L599.90,90.90L599.90,89.42L580.01,89.42L580.01,87.93L560.30,87.93L560.30,86.44L558.48,86.44L558.48,84.95L570.15,84.95L570.15,83.46L567.42,83.46L567.42,81.97L563.40,81.97L563.40,80.48L558.84,80.48L558.84,78.99L552.82,78.99L552.82,77.50L532.20,77.50L532.20,76.01L536.21,76.01L536.21,74.52L530.74,74.52L530.74,73.03L531.10,73.03L531.10,71.54L527.09,71.54L527.09,70.05L525.99,70.05L525.99,68.56L517.23,68.56L517.23,67.07L512.49,67.07L512.49,65.58L506.65,65.58L506.65,64.10L507.74,64.10L507.74,62.61L510.66,62.61L510.66,61.12L498.62,61.12L498.62,59.63L497.34,59.63L497.34,58.14L497.70,58.14L497.70,56.65L497.34,56.65L497.34,55.16L497.89,55.16L497.89,53.67L498.98,53.67L498.98,52.18L497.89,52.18L497.89,50.69L497.34,50.69L497.34,49.20L494.60,49.20L494.60,47.71L494.60,47.71L494.60,46.22L494.60,46.22L494.60,44.73L494.60,44.73L494.60,43.24L494.60,43.24L494.60,41.75L494.60,41.75L494.60,40.26L494.60,40.26L494.60,38.78L494.60,38.78L494.60,37.29L494.60,37.29L494.60,35.80L494.60,35.80L494.60,34.31L494.60,34.31L494.60,32.82L494.60,32.82L494.60,31.33L494.60,31.33L494.60,29.84L494.60,29.84L494.60,28.35L494.60,28.35L494.60,26.86L494.60,26.86L494.60,25.37L494.60,25.37L494.60,23.88L494.60,23.88L494.60,22.39L494.60,22.39L494.60,20.90L494.60,20.90L494.60,19.41L494.60,19.41L494.60,17.92L494.60,17.92L494.60,16.43L494.60,16.43L494.60,17.92L494.60,17.92L494.60,19.41L494.60,19.41L494.60,20.90L494.60,20.90L494.60,22.39L494.60,22.39L494.60,23.88L494.60,23.88L494.60,25.37L494.60,25.37L494.60,26.86L494.60,26.86L494.60,28.35L494.60,28.35L494.60,29.84L494.60,29.84L494.60,31.33L494.60,31.33L494.60,32.82L494.60,32.82L494.60,34.31L494.60,34.31L494.60,35.80L494.60,35.80L494.60,37.29L494.60,37.29L494.60,38.78L494.60,38.78L494.60,40.26L494.60,40.26L494.60,41.75L494.60,41.75L494.60,43.24L494.60,43.24L494.60,44.73L494.60,44.73L494.60,46.22L494.60,46.22L494.60,47.71L494.60,47.71L494.60,49.20L494.60,49.20L494.60,50.69L496.44,50.69L496.44,52.18L496.44,52.18L496.44,53.67L496.44,53.67L496.44,55.16L496.44,55.16L496.44,56.65L496.44,56.65L496.44,58.14L496.44,58.14L496.44,59.63L496.44,59.63L496.44,61.12L497.72,61.12L497.72,62.61L505.75,62.61L505.75,64.10L505.75,64.10L505.75,65.58L505.75,65.58L505.75,67.07L511.59,67.07L511.59,68.56L515.60,68.56L515.60,70.05L522.90,70.05L522.90,71.54L523.63,71.54L523.63,73.03L524.00,73.03L524.00,74.52L525.46,74.52L525.46,76.01L525.82,76.01L525.82,77.50L525.82,77.50L525.82,78.99L536.04,78.99L536.04,80.48L537.13,80.48L537.13,81.97L538.05,81.97L538.05,83.46L541.51,83.46L541.51,84.95L535.68,84.95L535.68,86.44L535.68,86.44L535.68,87.93L535.68,87.93L535.68,89.42L536.59,89.42L536.59,90.90L538.41,90.90L538.41,92.39L536.77,92.39L536.77,93.88L534.22,93.88L534.22,95.37L534.22,95.37L534.22,96.86L534.22,96.86L534.22,98.35L535.68,98.35L535.68,99.84L537.87,99.84L537.87,101.33L540.79,101.33L540.79,102.82L538.23,102.82L538.23,104.31L535.31,104.31L535.31,105.80L530.20,105.80L530.20,107.29L530.20,107.29L530.20,108.78L530.20,108.78L530.20,110.27L531.66,110.27L531.66,111.76L536.77,111.76L536.77,113.25L536.77,113.25L536.77,114.74L542.61,114.74L542.61,116.22L551.00,116.22L551.00,117.71L572.17,117.71L572.17,119.20L572.17,119.20L572.17,120.69L579.11,120.69L579.11,122.18L594.81,122.18L594.81,123.67L596.63,123.67L596.63,125.16L601.92,125.16L601.92,126.65L607.58,126.65L607.58,128.14L607.58,128.14L607.58,129.63L607.58,129.63L607.58,131.12L638.61,131.12L638.61,132.61L661.42,132.61L661.42,134.10L661.42,134.10L661.42,135.59L675.84,135.59L675.84,137.08Z" fill="#B4001E"/>
<path d="M676.74,137.08L676.74,135.59L676.74,135.59L676.74,134.10L662.32,134.10L662.32,132.61L669.62,132.61L669.62,131.12L639.50,131.12L639.50,129.63L608.48,129.63L608.48,128.14L651.91,128.14L651.91,126.65L620.71,126.65L620.71,125.16L602.82,125.16L602.82,123.67L597.53,123.67L597.53,122.18L595.71,122.18L595.71,120.69L580.01,120.69L580.01,119.20L573.08,119.20L573.08,117.71L588.95,117.71L588.95,116.22L551.90,116.22L551.90,114.74L543.51,114.74L543.51,113.25L537.67,113.25L537.67,111.76L559.21,111.76L559.21,110.27L532.56,110.27L532.56,108.78L531.10,108.78L531.10,107.29L536.21,107.29L536.21,105.80L539.13,105.80L539.13,104.31L551.18,104.31L551.18,102.82L541.87,102.82L541.87,101.33L541.69,101.33L541.69,99.84L538.76,99.84L538.76,98.35L536.58,98.35L536.58,96.86L535.12,96.86L535.12,95.37L537.67,95.37L537.67,93.88L539.31,93.88L539.31,92.39L540.23,92.39L540.23,90.90L556.65,90.90L556.65,89.42L537.49,89.42L537.49,87.93L536.58,87.93L536.58,86.44L542.41,86.44L542.41,84.95L544.61,84.95L544.61,83.46L543.88,83.46L543.88,81.97L538.95,81.97L538.95,80.48L538.04,80.48L538.04,78.99L536.94,78.99L536.94,77.50L526.72,77.50L526.72,76.01L531.10,76.01L531.10,74.52L526.36,74.52L526.36,73.03L524.89,73.03L524.89,71.54L524.53,71.54L524.53,70.05L523.80,70.05L523.80,68.56L516.50,68.56L516.50,67.07L512.49,67.07L512.49,65.58L506.65,65.58L506.65,64.10L507.74,64.10L507.74,62.61L507.38,62.61L507.38,61.12L498.62,61.12L498.62,59.63L497.34,59.63L497.34,58.14L497.70,58.14L497.70,56.65L497.34,56.65L497.34,55.16L497.89,55.16L497.89,53.67L497.34,53.67L497.34,52.18L497.89,52.18L497.89,50.69L497.34,50.69L497.34,49.20L494.60,49.20L494.60,47.71L494.60,47.71L494.60,46.22L494.60,46.22L494.60,44.73L494.60,44.73L494.60,43.24L494.60,43.24L494.60,41.75L494.60,41.75L494.60,40.26L494.60,40.26L494.60,38.78L494.60,38.78L494.60,37.29L494.60,37.29L494.60,35.80L494.60,35.80L494.60,34.31L494.60,34.31L494.60,32.82L494.60,32.82L494.60,31.33L494.60,31.33L494.60,29.84L494.60,29.84L494.60,28.35L494.60,28.35L494.60,26.86L494.60,26.86L494.60,25.37L494.60,25.37L494.60,23.88L494.60,23.88L494.60,22.39L494.60,22.39L494.60,20.90L494.60,20.90L494.60,19.41L494.60,19.41L494.60,17.92L494.60,17.92L494.60,16.43L494.60,16.43L494.60,17.92L494.60,17.92L494.60,19.41L494.60,19.41L494.60,20.90L494.60,20.90L494.60,22.39L494.60,22.39L494.60,23.88L494.60,23.88L494.60,25.37L494.60,25.37L494.60,26.86L494.60,26.86L494.60,28.35L494.60,28.35L494.60,29.84L494.60,29.84L494.60,31.33L494.60,31.33L494.60,32.82L494.60,32.82L494.60,34.31L494.60,34.31L494.60,35.80L494.60,35.80L494.60,37.29L494.60,37.29L494.60,38.78L494.60,38.78L494.60,40.26L494.60,40.26L494.60,41.75L494.60,41.75L494.60,43.24L494.60,43.24L494.60,44.73L494.60,44.73L494.60,46.22L494.60,46.22L494.60,47.71L494.60,47.71L494.60,49.20L494.60,49.20L494.60,50.69L494.60,50.69L494.60,52.18L494.60,52.18L494.60,53.67L494.60,53.67L494.60,55.16L494.60,55.16L494.60,56.65L494.60,56.65L494.60,58.14L494.60,58.14L494.60,59.63L494.60,59.63L494.60,61.12L495.34,61.12L495.34,62.61L500.64,62.61L500.64,64.10L500.64,64.10L500.64,65.58L500.64,65.58L500.64,67.07L505.75,67.07L505.75,68.56L510.12,68.56L510.12,70.05L513.77,70.05L513.77,71.54L514.50,71.54L514.50,73.03L514.87,73.03L514.87,74.52L515.97,74.52L515.97,76.01L517.06,76.01L517.06,77.50L517.06,77.50L517.06,78.99L525.64,78.99L525.64,80.48L526.73,80.48L526.73,81.97L528.01,81.97L528.01,83.46L524.73,83.46L524.73,84.95L524.73,84.95L524.73,86.44L524.73,86.44L524.73,87.93L531.48,87.93L531.48,89.42L533.12,89.42L533.12,90.90L532.39,90.90L532.39,92.39L527.64,92.39L527.64,93.88L523.81,93.88L523.81,95.37L522.17,95.37L522.17,96.86L522.17,96.86L522.17,98.35L522.17,98.35L522.17,99.84L527.64,99.84L527.64,101.33L528.19,101.33L528.19,102.82L521.26,102.82L521.26,104.31L521.08,104.31L521.08,105.80L516.51,105.80L516.51,107.29L511.40,107.29L511.40,108.78L511.40,108.78L511.40,110.27L511.40,110.27L511.40,111.76L514.32,111.76L514.32,113.25L514.32,113.25L514.32,114.74L514.32,114.74L514.32,116.22L534.40,116.22L534.40,117.71L546.26,117.71L546.26,119.20L546.26,119.20L546.26,120.69L546.26,120.69L546.26,122.18L562.32,122.18L562.32,123.67L576.37,123.67L576.37,125.16L559.95,125.16L559.95,126.65L559.58,126.65L559.58,128.14L559.58,128.14L559.58,129.63L559.58,129.63L559.58,131.12L637.33,131.12L637.33,132.61L653.02,132.61L653.02,134.10L658.50,134.10L658.50,135.59L673.10,135.59L673.10,137.08Z" fill="#F5FF00"/>
<path d="M674.00,137.08L674.00,135.59L674.00,135.59L674.00,134.10L659.40,134.10L659.40,132.61L653.92,132.61L653.92,131.12L638.23,131.12L638.23,129.63L560.48,129.63L560.48,128.14L560.85,128.14L560.85,126.65L577.27,126.65L577.27,125.16L592.78,125.16L592.78,123.67L579.10,123.67L579.10,122.18L563.22,122.18L563.22,120.69L547.16,120.69L547.16,119.20L555.37,119.20L555.37,117.71L566.32,117.71L566.32,116.22L535.30,116.22L535.30,114.74L515.22,114.74L515.22,113.25L517.05,113.25L517.05,111.76L525.81,111.76L525.81,110.27L512.30,110.27L512.30,108.78L517.41,108.78L517.41,107.29L521.98,107.29L521.98,105.80L522.16,105.80L522.16,104.31L529.82,104.31L529.82,102.82L529.82,102.82L529.82,101.33L529.09,101.33L529.09,99.84L528.55,99.84L528.55,98.35L523.07,98.35L523.07,96.86L524.71,96.86L524.71,95.37L528.55,95.37L528.55,93.88L533.29,93.88L533.29,92.39L534.02,92.39L534.02,90.90L536.58,90.90L536.58,89.42L536.03,89.42L536.03,87.93L532.38,87.93L532.38,86.44L525.62,86.44L525.62,84.95L530.19,84.95L530.19,83.46L532.20,83.46L532.20,81.97L528.91,81.97L528.91,80.48L527.63,80.48L527.63,78.99L526.54,78.99L526.54,77.50L517.96,77.50L517.96,76.01L519.06,76.01L519.06,74.52L516.87,74.52L516.87,73.03L515.77,73.03L515.77,71.54L515.40,71.54L515.40,70.05L514.68,70.05L514.68,68.56L511.03,68.56L511.03,67.07L506.65,67.07L506.65,65.58L501.54,65.58L501.54,64.10L502.27,64.10L502.27,62.61L503.36,62.61L503.36,61.12L496.24,61.12L496.24,59.63L495.15,59.63L495.15,58.14L494.97,58.14L494.97,56.65L494.60,56.65L494.60,55.16L494.60,55.16L494.60,53.67L495.70,53.67L495.70,52.18L494.60,52.18L494.60,50.69L495.51,50.69L495.51,49.20L494.60,49.20L494.60,47.71L494.60,47.71L494.60,46.22L494.60,46.22L494.60,44.73L494.60,44.73L494.60,43.24L494.60,43.24L494.60,41.75L494.60,41.75L494.60,40.26L494.60,40.26L494.60,38.78L494.60,38.78L494.60,37.29L494.60,37.29L494.60,35.80L494.60,35.80L494.60,34.31L494.60,34.31L494.60,32.82L494.60,32.82L494.60,31.33L494.60,31.33L494.60,29.84L494.60,29.84L494.60,28.35L494.60,28.35L494.60,26.86L494.60,26.86L494.60,25.37L494.60,25.37L494.60,23.88L494.60,23.88L494.60,22.39L494.60,22.39L494.60,20.90L494.60,20.90L494.60,19.41L494.60,19.41L494.60,17.92L494.60,17.92L494.60,16.43L494.60,16.43L494.60,17.92L494.60,17.92L494.60,19.41L494.60,19.41L494.60,20.90L494.60,20.90L494.60,22.39L494.60,22.39L494.60,23.88L494.60,23.88L494.60,25.37L494.60,25.37L494.60,26.86L494.60,26.86L494.60,28.35L494.60,28.35L494.60,29.84L494.60,29.84L494.60,31.33L494.60,31.33L494.60,32.82L494.60,32.82L494.60,34.31L494.60,34.31L494.60,35.80L494.60,35.80L494.60,37.29L494.60,37.29L494.60,38.78L494.60,38.78L494.60,40.26L494.60,40.26L494.60,41.75L494.60,41.75L494.60,43.24L494.60,43.24L494.60,44.73L494.60,44.73L494.60,46.22L494.60,46.22L494.60,47.71L494.60,47.71L494.60,49.20L494.60,49.20L494.60,50.69L494.60,50.69L494.60,52.18L494.60,52.18L494.60,53.67L494.60,53.67L494.60,55.16L494.60,55.16L494.60,56.65L494.60,56.65L494.60,58.14L494.60,58.14L494.60,59.63L494.60,59.63L494.60,61.12L494.60,61.12L494.60,62.61L494.60,62.61L494.60,64.10L494.60,64.10L494.60,65.58L494.60,65.58L494.60,67.07L494.60,67.07L494.60,68.56L494.60,68.56L494.60,70.05L494.60,70.05L494.60,71.54L494.60,71.54L494.60,73.03L494.60,73.03L494.60,74.52L494.60,74.52L494.60,76.01L494.60,76.01L494.60,77.50L494.60,77.50L494.60,78.99L494.60,78.99L494.60,80.48L494.60,80.48L494.60,81.97L494.60,81.97L494.60,83.46L494.60,83.46L494.60,84.95L494.60,84.95L494.60,86.44L494.60,86.44L494.60,87.93L494.60,87.93L494.60,89.42L494.60,89.42L494.60,90.90L494.60,90.90L494.60,92.39L494.60,92.39L494.60,93.88L494.60,93.88L494.60,95.37L494.60,95.37L494.60,96.86L494.60,96.86L494.60,98.35L494.60,98.35L494.60,99.84L494.60,99.84L494.60,101.33L494.60,101.33L494.60,102.82L494.60,102.82L494.60,104.31L494.60,104.31L494.60,105.80L494.60,105.80L494.60,107.29L494.60,107.29L494.60,108.78L494.60,108.78L494.60,110.27L494.60,110.27L494.60,111.76L494.60,111.76L494.60,113.25L494.60,113.25L494.60,114.74L494.60,114.74L494.60,116.22L494.60,116.22L494.60,117.71L494.60,117.71L494.60,119.20L494.60,119.20L494.60,120.69L494.60,120.69L494.60,122.18L494.60,122.18L494.60,123.67L494.60,123.67L494.60,125.16L494.60,125.16L494.60,126.65L494.60,126.65L494.60,128.14L494.60,128.14L494.60,129.63L494.60,129.63L494.60,131.12L494.60,131.12L494.60,132.61L494.60,132.61L494.60,134.10L494.60,134.10L494.60,135.59L494.60,135.59L494.60,137.08Z" fill="#00B07F"/>
<path d="M503.73,14.20v0.9" stroke="#555" stroke-width="0.6"/>
<path d="M512.85,14.20v0.9" stroke="#555" stroke-width="0.6"/>
<path d="M521.98,14.20v0.9" stroke="#555" stroke-width="0.6"/>
<path d="M531.10,14.20v0.9" stroke="#555" stroke-width="0.6"/>
<path d="M540.23,14.20v0.9" stroke="#555" stroke-width="0.6"/>
<path d="M549.35,14.20v0.9" stroke="#555" stroke-width="0.6"/>
<path d="M558.48,14.20v0.9" stroke="#555" stroke-width="0.6"/>
<path d="M567.60,14.20v0.9" stroke="#555" stroke-width="0.6"/>
<path d="M576.73,14.20v0.9" stroke="#555" stroke-width="0.6"/>
<path d="M585.85,14.20v0.9" stroke="#555" stroke-width="0.6"/>
<path d="M594.98,14.20v0.9" stroke="#555" stroke-width="0.6"/>
<path d="M604.10,14.20v0.9" stroke="#555" stroke-width="0.6"/>
<path d="M613.23,14.20v0.9" stroke="#555" stroke-width="0.6"/>
<path d="M622.35,14.20v0.9" stroke="#555" stroke-width="0.6"/>
<path d="M631.48,14.20v0.9" stroke="#555" stroke-width="0.6"/>
<path d="M640.60,14.20v0.9" stroke="#555" stroke-width="0.6"/>
<path d="M649.73,14.20v0.9" stroke="#555" stroke-width="0.6"/>
<path d="M658.85,14.20v0.9" stroke="#555" stroke-width="0.6"/>
<path d="M667.98,14.20v0.9" stroke="#555" stroke-width="0.6"/>
<text transform="translate(494.60,153.80) scale(1,1.1)" text-anchor="middle" class="t">0</text>
<text transform="translate(531.10,153.80) scale(1,1.1)" text-anchor="middle" class="t">20</text>
<text transform="translate(567.60,153.80) scale(1,1.1)" text-anchor="middle" class="t">40</text>
<text transform="translate(604.10,153.80) scale(1,1.1)" text-anchor="middle" class="t">60</text>
<text transform="translate(640.60,153.80) scale(1,1.1)" text-anchor="middle" class="t">80</text>
<text transform="translate(677.10,153.80) scale(1,1.1)" text-anchor="middle" class="t">100</text>
<text x="585.85" y="172.40" text-anchor="middle" class="x">Fraction [%]</text>
<text transform="translate(491.80,114.81) scale(1,1.1)" text-anchor="end" class="t">350</text>
<text transform="translate(491.80,77.58) scale(1,1.1)" text-anchor="end" class="t">400</text>
<text transform="translate(491.80,40.34) scale(1,1.1)" text-anchor="end" class="t">450</text>
<text x="585.85" y="9.60" text-anchor="middle" class="h">(c) winter 16/17</text>
<rect x="155.20" y="199.45" width="182.50" height="127.25" fill="#fff" stroke="#555" stroke-width="0.55"/>
<path d="M155.20,326.70v-3.6" stroke="#333" stroke-width="0.5"/>
<path d="M164.32,326.70v-2.2" stroke="#333" stroke-width="0.5"/>
<path d="M173.45,326.70v-2.2" stroke="#333" stroke-width="0.5"/>
<path d="M182.57,326.70v-2.2" stroke="#333" stroke-width="0.5"/>
<path d="M191.70,326.70v-3.6" stroke="#333" stroke-width="0.5"/>
<path d="M200.82,326.70v-2.2" stroke="#333" stroke-width="0.5"/>
<path d="M209.95,326.70v-2.2" stroke="#333" stroke-width="0.5"/>
<path d="M219.07,326.70v-2.2" stroke="#333" stroke-width="0.5"/>
<path d="M228.20,326.70v-3.6" stroke="#333" stroke-width="0.5"/>
<path d="M237.32,326.70v-2.2" stroke="#333" stroke-width="0.5"/>
<path d="M246.45,326.70v-2.2" stroke="#333" stroke-width="0.5"/>
<path d="M255.57,326.70v-2.2" stroke="#333" stroke-width="0.5"/>
<path d="M264.70,326.70v-3.6" stroke="#333" stroke-width="0.5"/>
<path d="M273.82,326.70v-2.2" stroke="#333" stroke-width="0.5"/>
<path d="M282.95,326.70v-2.2" stroke="#333" stroke-width="0.5"/>
<path d="M292.07,326.70v-2.2" stroke="#333" stroke-width="0.5"/>
<path d="M301.20,326.70v-3.6" stroke="#333" stroke-width="0.5"/>
<path d="M310.32,326.70v-2.2" stroke="#333" stroke-width="0.5"/>
<path d="M319.45,326.70v-2.2" stroke="#333" stroke-width="0.5"/>
<path d="M328.57,326.70v-2.2" stroke="#333" stroke-width="0.5"/>
<path d="M337.70,326.70v-3.6" stroke="#333" stroke-width="0.5"/>
<rect x="155.30" y="199.73" width="182.40" height="123.23" fill="#DCDCF0"/>
<path d="M337.70,322.96L337.70,321.46L337.70,321.46L337.70,319.96L337.70,319.96L337.70,318.47L336.79,318.47L336.79,316.97L335.05,316.97L335.05,315.47L335.97,315.47L335.97,313.98L336.88,313.98L336.88,312.48L336.33,312.48L336.33,310.98L336.70,310.98L336.70,309.48L336.70,309.48L336.70,307.99L336.33,307.99L336.33,306.49L336.33,306.49L336.33,304.99L336.33,304.99L336.33,303.50L336.33,303.50L336.33,302.00L335.88,302.00L335.88,300.50L335.14,300.50L335.14,299.00L335.51,299.00L335.51,297.51L335.14,297.51L335.14,296.01L334.78,296.01L334.78,294.51L334.41,294.51L334.41,293.02L334.78,293.02L334.78,291.52L334.78,291.52L334.78,290.02L334.41,290.02L334.41,288.52L335.51,288.52L335.51,287.03L335.88,287.03L335.88,285.53L335.88,285.53L335.88,284.03L335.14,284.03L335.14,282.54L334.78,282.54L334.78,281.04L334.78,281.04L334.78,279.54L334.78,279.54L334.78,278.05L334.23,278.05L334.23,276.55L334.23,276.55L334.23,275.05L334.23,275.05L334.23,273.55L333.68,273.55L333.68,272.06L332.95,272.06L332.95,270.56L332.95,270.56L332.95,269.06L332.95,269.06L332.95,267.57L333.68,267.57L333.68,266.07L332.95,266.07L332.95,264.57L332.95,264.57L332.95,263.07L332.59,263.07L332.59,261.58L332.23,261.58L332.23,260.08L330.76,260.08L330.76,258.58L330.22,258.58L330.22,257.09L329.67,257.09L329.67,255.59L329.67,255.59L329.67,254.09L328.94,254.09L328.94,252.60L313.43,252.60L313.43,251.10L323.10,251.10L323.10,249.60L323.47,249.60L323.47,248.10L318.90,248.10L318.90,246.61L304.12,246.61L304.12,245.11L273.09,245.11L273.09,243.61L281.86,243.61L281.86,242.12L281.86,242.12L281.86,240.62L304.12,240.62L304.12,239.12L271.82,239.12L271.82,237.62L297.37,237.62L297.37,236.13L285.32,236.13L285.32,234.63L256.49,234.63L256.49,233.13L233.67,233.13L233.67,231.64L232.21,231.64L232.21,230.14L216.70,230.14L216.70,228.64L216.70,228.64L216.70,227.15L216.15,227.15L216.15,225.65L224.19,225.65L224.19,224.15L220.17,224.15L220.17,222.65L217.43,222.65L217.43,221.16L216.70,221.16L216.70,219.66L218.71,219.66L218.71,218.16L219.44,218.16L219.44,216.67L218.71,216.67L218.71,215.17L199.36,215.17L199.36,213.67L199.91,213.67L199.91,212.17L206.66,212.17L206.66,210.68L209.40,210.68L209.40,209.18L215.42,209.18L215.42,207.68L216.15,207.68L216.15,206.19L220.17,206.19L220.17,204.69L221.45,204.69L221.45,203.19L220.17,203.19L220.17,201.70L192.44,201.70L192.44,203.19L191.71,203.19L191.71,204.69L190.98,204.69L190.98,206.19L188.43,206.19L188.43,207.68L187.70,207.68L187.70,209.18L184.41,209.18L184.41,210.68L182.95,210.68L182.95,212.17L179.67,212.17L179.67,213.67L179.67,213.67L179.67,215.17L179.67,215.17L179.67,216.67L182.22,216.67L182.22,218.16L181.67,218.16L181.67,219.66L181.67,219.66L181.67,221.16L181.67,221.16L181.67,222.65L188.43,222.65L188.43,224.15L188.43,224.15L188.43,225.65L186.97,225.65L186.97,227.15L186.97,227.15L186.97,228.64L186.97,228.64L186.97,230.14L192.44,230.14L192.44,231.64L193.72,231.64L193.72,233.13L195.73,233.13L195.73,234.63L196.46,234.63L196.46,236.13L210.88,236.13L210.88,237.62L213.79,237.62L213.79,239.12L212.52,239.12L212.52,240.62L208.50,240.62L208.50,242.12L205.76,242.12L205.76,243.61L205.76,243.61L205.76,245.11L205.76,245.11L205.76,246.61L235.33,246.61L235.33,248.10L259.60,248.10L259.60,249.60L260.15,249.60L260.15,251.10L267.45,251.10L267.45,252.60L267.45,252.60L267.45,254.09L282.05,254.09L282.05,255.59L293.73,255.59L293.73,257.09L293.73,257.09L293.73,258.58L293.73,258.58L293.73,260.08L293.73,260.08L293.73,261.58L301.76,261.58L301.76,263.07L303.04,263.07L303.04,264.57L304.50,264.57L304.50,266.07L309.97,266.07L309.97,267.57L312.53,267.57L312.53,269.06L313.99,269.06L313.99,270.56L316.00,270.56L316.00,272.06L318.55,272.06L318.55,273.55L319.28,273.55L319.28,275.05L321.29,275.05L321.29,276.55L322.56,276.55L322.56,278.05L324.02,278.05L324.02,279.54L324.57,279.54L324.57,281.04L326.21,281.04L326.21,282.54L328.04,282.54L328.04,284.03L328.40,284.03L328.40,285.53L328.77,285.53L328.77,287.03L325.12,287.03L325.12,288.52L325.12,288.52L325.12,290.02L325.12,290.02L325.12,291.52L323.29,291.52L323.29,293.02L323.29,293.02L323.29,294.51L323.29,294.51L323.29,296.01L326.58,296.01L326.58,297.51L327.31,297.51L327.31,299.00L327.31,299.00L327.31,300.50L327.31,300.50L327.31,302.00L330.23,302.00L330.23,303.50L332.15,303.50L332.15,304.99L332.15,304.99L332.15,306.49L332.15,306.49L332.15,307.99L332.88,307.99L332.88,309.48L332.69,309.48L332.69,310.98L332.69,310.98L332.69,312.48L332.69,312.48L332.69,313.98L332.69,313.98L332.69,315.47L332.69,315.47L332.69,316.97L332.69,316.97L332.69,318.47L335.89,318.47L335.89,319.96L336.80,319.96L336.80,321.46L336.80,321.46L336.80,322.96Z" fill="#009696"/>
<path d="M337.70,322.96L337.70,321.46L337.70,321.46L337.70,319.96L337.70,319.96L337.70,318.47L336.79,318.47L336.79,316.97L333.59,316.97L333.59,315.47L333.59,315.47L333.59,313.98L335.78,313.98L335.78,312.48L333.59,312.48L333.59,310.98L334.32,310.98L334.32,309.48L334.51,309.48L334.51,307.99L333.78,307.99L333.78,306.49L333.05,306.49L333.05,304.99L333.59,304.99L333.59,303.50L334.51,303.50L334.51,302.00L331.13,302.00L331.13,300.50L328.21,300.50L328.21,299.00L328.94,299.00L328.94,297.51L330.03,297.51L330.03,296.01L327.48,296.01L327.48,294.51L324.19,294.51L324.19,293.02L328.21,293.02L328.21,291.52L327.48,291.52L327.48,290.02L326.02,290.02L326.02,288.52L329.67,288.52L329.67,287.03L330.40,287.03L330.40,285.53L330.76,285.53L330.76,284.03L329.31,284.03L329.31,282.54L328.94,282.54L328.94,281.04L327.12,281.04L327.12,279.54L325.47,279.54L325.47,278.05L324.92,278.05L324.92,276.55L323.47,276.55L323.47,275.05L322.19,275.05L322.19,273.55L320.18,273.55L320.18,272.06L319.45,272.06L319.45,270.56L316.89,270.56L316.89,269.06L314.89,269.06L314.89,267.57L313.43,267.57L313.43,266.07L310.87,266.07L310.87,264.57L305.40,264.57L305.40,263.07L303.94,263.07L303.94,261.58L302.66,261.58L302.66,260.08L294.63,260.08L294.63,258.58L296.09,258.58L296.09,257.09L295.36,257.09L295.36,255.59L294.63,255.59L294.63,254.09L282.95,254.09L282.95,252.60L268.35,252.60L268.35,251.10L271.82,251.10L271.82,249.60L261.05,249.60L261.05,248.10L260.50,248.10L260.50,246.61L236.23,246.61L236.23,245.11L206.66,245.11L206.66,243.61L209.40,243.61L209.40,242.12L213.42,242.12L213.42,240.62L234.95,240.62L234.95,239.12L214.69,239.12L214.69,237.62L226.92,237.62L226.92,236.13L211.77,236.13L211.77,234.63L197.36,234.63L197.36,233.13L196.63,233.13L196.63,231.64L194.62,231.64L194.62,230.14L193.34,230.14L193.34,228.64L187.87,228.64L187.87,227.15L189.33,227.15L189.33,225.65L192.61,225.65L192.61,224.15L190.60,224.15L190.60,222.65L189.33,222.65L189.33,221.16L182.57,221.16L182.57,219.66L183.12,219.66L183.12,218.16L193.34,218.16L193.34,216.67L183.85,216.67L183.85,215.17L180.57,215.17L180.57,213.67L183.85,213.67L183.85,212.17L185.31,212.17L185.31,210.68L188.60,210.68L188.60,209.18L189.33,209.18L189.33,207.68L191.88,207.68L191.88,206.19L192.61,206.19L192.61,204.69L193.34,204.69L193.34,203.19L194.62,203.19L194.62,201.70L176.93,201.70L176.93,203.19L176.20,203.19L176.20,204.69L175.65,204.69L175.65,206.19L174.19,206.19L174.19,207.68L173.64,207.68L173.64,209.18L173.64,209.18L173.64,210.68L172.19,210.68L172.19,212.17L168.90,212.17L168.90,213.67L168.90,213.67L168.90,215.17L168.90,215.17L168.90,216.67L169.63,216.67L169.63,218.16L169.63,218.16L169.63,219.66L169.63,219.66L169.63,221.16L175.65,221.16L175.65,222.65L175.65,222.65L175.65,224.15L175.65,224.15L175.65,225.65L175.65,225.65L175.65,227.15L174.19,227.15L174.19,228.64L174.19,228.64L174.19,230.14L174.19,230.14L174.19,231.64L176.93,231.64L176.93,233.13L176.93,233.13L176.93,234.63L176.93,234.63L176.93,236.13L184.41,236.13L184.41,237.62L184.41,237.62L184.41,239.12L184.41,239.12L184.41,240.62L186.97,240.62L186.97,242.12L184.96,242.12L184.96,243.61L184.96,243.61L184.96,245.11L184.96,245.11L184.96,246.61L211.24,246.61L211.24,248.10L227.30,248.10L227.30,249.60L224.56,249.60L224.56,251.10L224.56,251.10L224.56,252.60L224.56,252.60L224.56,254.09L258.87,254.09L258.87,255.59L270.19,255.59L270.19,257.09L270.19,257.09L270.19,258.58L270.19,258.58L270.19,260.08L272.92,260.08L272.92,261.58L280.95,261.58L280.95,263.07L282.05,263.07L282.05,264.57L293.55,264.57L293.55,266.07L297.75,266.07L297.75,267.57L300.48,267.57L300.48,269.06L303.22,269.06L303.22,270.56L304.50,270.56L304.50,272.06L305.77,272.06L305.77,273.55L311.25,273.55L311.25,275.05L315.26,275.05L315.26,276.55L317.27,276.55L317.27,278.05L318.18,278.05L318.18,279.54L318.55,279.54L318.55,281.04L320.30,281.04L320.30,282.54L323.29,282.54L323.29,284.03L323.29,284.03L323.29,285.53L324.39,285.53L324.39,287.03L318.55,287.03L318.55,288.52L318.55,288.52L318.55,290.02L318.55,290.02L318.55,291.52L315.63,291.52L315.63,293.02L315.63,293.02L315.63,294.51L315.63,294.51L315.63,296.01L320.01,296.01L320.01,297.51L321.83,297.51L321.83,299.00L321.83,299.00L321.83,300.50L324.02,300.50L324.02,302.00L327.31,302.00L327.31,303.50L330.14,303.50L330.14,304.99L330.14,304.99L330.14,306.49L330.14,306.49L330.14,307.99L331.78,307.99L331.78,309.48L330.69,309.48L330.69,310.98L330.69,310.98L330.69,312.48L328.68,312.48L328.68,313.98L328.68,313.98L328.68,315.47L328.68,315.47L328.68,316.97L331.42,316.97L331.42,318.47L335.89,318.47L335.89,319.96L336.80,319.96L336.80,321.46L336.80,321.46L336.80,322.96Z" fill="#0050E6"/>
<path d="M337.70,322.96L337.70,321.46L337.70,321.46L337.70,319.96L337.70,319.96L337.70,318.47L336.79,318.47L336.79,316.97L332.32,316.97L332.32,315.47L329.58,315.47L329.58,313.98L335.05,313.98L335.05,312.48L331.59,312.48L331.59,310.98L332.86,310.98L332.86,309.48L333.23,309.48L333.23,307.99L332.68,307.99L332.68,306.49L331.04,306.49L331.04,304.99L331.77,304.99L331.77,303.50L333.96,303.50L333.96,302.00L328.21,302.00L328.21,300.50L324.92,300.50L324.92,299.00L322.74,299.00L322.74,297.51L326.75,297.51L326.75,296.01L320.91,296.01L320.91,294.51L316.53,294.51L316.53,293.02L323.83,293.02L323.83,291.52L320.18,291.52L320.18,290.02L319.45,290.02L319.45,288.52L325.29,288.52L325.29,287.03L325.65,287.03L325.65,285.53L326.75,285.53L326.75,284.03L324.19,284.03L324.19,282.54L324.56,282.54L324.56,281.04L321.20,281.04L321.20,279.54L319.45,279.54L319.45,278.05L319.08,278.05L319.08,276.55L318.17,276.55L318.17,275.05L316.16,275.05L316.16,273.55L312.15,273.55L312.15,272.06L306.67,272.06L306.67,270.56L305.40,270.56L305.40,269.06L304.12,269.06L304.12,267.57L301.38,267.57L301.38,266.07L298.64,266.07L298.64,264.57L294.45,264.57L294.45,263.07L282.95,263.07L282.95,261.58L281.86,261.58L281.86,260.08L273.82,260.08L273.82,258.58L271.09,258.58L271.09,257.09L271.82,257.09L271.82,255.59L273.82,255.59L273.82,254.09L259.77,254.09L259.77,252.60L225.46,252.60L225.46,251.10L228.20,251.10L228.20,249.60L244.62,249.60L244.62,248.10L234.95,248.10L234.95,246.61L212.14,246.61L212.14,245.11L185.86,245.11L185.86,243.61L187.87,243.61L187.87,242.12L189.33,242.12L189.33,240.62L203.38,240.62L203.38,239.12L185.31,239.12L185.31,237.62L185.31,237.62L185.31,236.13L190.60,236.13L190.60,234.63L177.83,234.63L177.83,233.13L181.84,233.13L181.84,231.64L177.83,231.64L177.83,230.14L175.09,230.14L175.09,228.64L176.55,228.64L176.55,227.15L177.10,227.15L177.10,225.65L181.84,225.65L181.84,224.15L176.55,224.15L176.55,222.65L178.56,222.65L178.56,221.16L177.83,221.16L177.83,219.66L170.53,219.66L170.53,218.16L177.10,218.16L177.10,216.67L176.55,216.67L176.55,215.17L169.80,215.17L169.80,213.67L173.08,213.67L173.08,212.17L175.09,212.17L175.09,210.68L174.54,210.68L174.54,209.18L175.09,209.18L175.09,207.68L176.55,207.68L176.55,206.19L177.10,206.19L177.10,204.69L177.83,204.69L177.83,203.19L181.84,203.19L181.84,201.70L156.12,201.70L156.12,203.19L156.12,203.19L156.12,204.69L155.76,204.69L155.76,206.19L155.76,206.19L155.76,207.68L155.76,207.68L155.76,209.18L155.94,209.18L155.94,210.68L155.76,210.68L155.76,212.17L155.76,212.17L155.76,213.67L155.76,213.67L155.76,215.17L155.94,215.17L155.94,216.67L157.04,216.67L157.04,218.16L156.12,218.16L156.12,219.66L155.76,219.66L155.76,221.16L155.76,221.16L155.76,222.65L155.76,222.65L155.76,224.15L155.94,224.15L155.94,225.65L155.76,225.65L155.76,227.15L155.76,227.15L155.76,228.64L155.76,228.64L155.76,230.14L156.12,230.14L156.12,231.64L156.49,231.64L156.49,233.13L156.49,233.13L156.49,234.63L156.49,234.63L156.49,236.13L159.04,236.13L159.04,237.62L159.04,237.62L159.04,239.12L159.04,239.12L159.04,240.62L160.14,240.62L160.14,242.12L157.95,242.12L157.95,243.61L157.95,243.61L157.95,245.11L157.95,245.11L157.95,246.61L158.68,246.61L158.68,248.10L177.11,248.10L177.11,249.60L172.55,249.60L172.55,251.10L172.55,251.10L172.55,252.60L172.55,252.60L172.55,254.09L191.16,254.09L191.16,255.59L199.19,255.59L199.19,257.09L200.65,257.09L200.65,258.58L205.03,258.58L205.03,260.08L205.76,260.08L205.76,261.58L207.22,261.58L207.22,263.07L207.22,263.07L207.22,264.57L230.40,264.57L230.40,266.07L232.04,266.07L232.04,267.57L233.50,267.57L233.50,269.06L238.25,269.06L238.25,270.56L237.88,270.56L237.88,272.06L237.88,272.06L237.88,273.55L237.88,273.55L237.88,275.05L259.60,275.05L259.60,276.55L274.02,276.55L274.02,278.05L274.02,278.05L274.02,279.54L274.02,279.54L274.02,281.04L276.57,281.04L276.57,282.54L286.61,282.54L286.61,284.03L286.61,284.03L286.61,285.53L291.72,285.53L291.72,287.03L276.39,287.03L276.39,288.52L276.39,288.52L276.39,290.02L264.53,290.02L264.53,291.52L264.53,291.52L264.53,293.02L264.53,293.02L264.53,294.51L264.71,294.51L264.71,296.01L269.46,296.01L269.46,297.51L269.46,297.51L269.46,299.00L269.46,299.00L269.46,300.50L270.19,300.50L270.19,302.00L274.75,302.00L274.75,303.50L301.58,303.50L301.58,304.99L301.58,304.99L301.58,306.49L309.61,306.49L309.61,307.99L309.61,307.99L309.61,309.48L307.60,309.48L307.60,310.98L307.60,310.98L307.60,312.48L300.66,312.48L300.66,313.98L300.66,313.98L300.66,315.47L300.66,315.47L300.66,316.97L314.53,316.97L314.53,318.47L335.89,318.47L335.89,319.96L336.80,319.96L336.80,321.46L336.80,321.46L336.80,322.96Z" fill="#9B9BF0"/>
<path d="M337.70,322.96L337.70,321.46L337.70,321.46L337.70,319.96L337.70,319.96L337.70,318.47L336.79,318.47L336.79,316.97L315.43,316.97L315.43,315.47L301.56,315.47L301.56,313.98L325.84,313.98L325.84,312.48L308.50,312.48L308.50,310.98L310.51,310.98L310.51,309.48L317.99,309.48L317.99,307.99L316.53,307.99L316.53,306.49L310.51,306.49L310.51,304.99L302.48,304.99L302.48,303.50L325.84,303.50L325.84,302.00L275.65,302.00L275.65,300.50L271.09,300.50L271.09,299.00L270.36,299.00L270.36,297.51L297.55,297.51L297.55,296.01L279.30,296.01L279.30,294.51L265.61,294.51L265.61,293.02L265.43,293.02L265.43,291.52L277.29,291.52L277.29,290.02L277.29,290.02L277.29,288.52L292.62,288.52L292.62,287.03L295.73,287.03L295.73,285.53L293.90,285.53L293.90,284.03L287.51,284.03L287.51,282.54L297.55,282.54L297.55,281.04L277.47,281.04L277.47,279.54L274.92,279.54L274.92,278.05L279.30,278.05L279.30,276.55L278.39,276.55L278.39,275.05L260.50,275.05L260.50,273.55L238.78,273.55L238.78,272.06L239.15,272.06L239.15,270.56L246.63,270.56L246.63,269.06L241.70,269.06L241.70,267.57L234.40,267.57L234.40,266.07L232.94,266.07L232.94,264.57L231.30,264.57L231.30,263.07L208.12,263.07L208.12,261.58L217.07,261.58L217.07,260.08L206.66,260.08L206.66,258.58L205.94,258.58L205.94,257.09L201.55,257.09L201.55,255.59L200.09,255.59L200.09,254.09L192.06,254.09L192.06,252.60L173.45,252.60L173.45,251.10L178.01,251.10L178.01,249.60L180.02,249.60L180.02,248.10L182.57,248.10L182.57,246.61L159.58,246.61L159.58,245.11L158.85,245.11L158.85,243.61L161.04,243.61L161.04,242.12L161.04,242.12L161.04,240.62L167.79,240.62L167.79,239.12L159.94,239.12L159.94,237.62L167.06,237.62L167.06,236.13L164.32,236.13L164.32,234.63L157.39,234.63L157.39,233.13L161.95,233.13L161.95,231.64L158.67,231.64L158.67,230.14L157.02,230.14L157.02,228.64L156.66,228.64L156.66,227.15L157.39,227.15L157.39,225.65L157.75,225.65L157.75,224.15L156.84,224.15L156.84,222.65L156.66,222.65L156.66,221.16L157.02,221.16L157.02,219.66L158.30,219.66L158.30,218.16L158.85,218.16L158.85,216.67L157.94,216.67L157.94,215.17L156.84,215.17L156.84,213.67L156.66,213.67L156.66,212.17L157.02,212.17L157.02,210.68L157.39,210.68L157.39,209.18L156.84,209.18L156.84,207.68L156.66,207.68L156.66,206.19L157.39,206.19L157.39,204.69L157.57,204.69L157.57,203.19L157.02,203.19L157.02,201.70L155.20,201.70L155.20,203.19L155.20,203.19L155.20,204.69L155.20,204.69L155.20,206.19L155.20,206.19L155.20,207.68L155.20,207.68L155.20,209.18L155.20,209.18L155.20,210.68L155.20,210.68L155.20,212.17L155.20,212.17L155.20,213.67L155.20,213.67L155.20,215.17L155.20,215.17L155.20,216.67L155.20,216.67L155.20,218.16L155.20,218.16L155.20,219.66L155.20,219.66L155.20,221.16L155.20,221.16L155.20,222.65L155.20,222.65L155.20,224.15L155.20,224.15L155.20,225.65L155.20,225.65L155.20,227.15L155.20,227.15L155.20,228.64L155.20,228.64L155.20,230.14L155.20,230.14L155.20,231.64L155.20,231.64L155.20,233.13L155.20,233.13L155.20,234.63L155.20,234.63L155.20,236.13L157.04,236.13L157.04,237.62L157.58,237.62L157.58,239.12L157.04,239.12L157.04,240.62L157.04,240.62L157.04,242.12L157.04,242.12L157.04,243.61L157.04,243.61L157.04,245.11L157.04,245.11L157.04,246.61L158.31,246.61L158.31,248.10L166.34,248.10L166.34,249.60L166.34,249.60L166.34,251.10L166.34,251.10L166.34,252.60L172.19,252.60L172.19,254.09L176.93,254.09L176.93,255.59L185.69,255.59L185.69,257.09L186.78,257.09L186.78,258.58L190.44,258.58L190.44,260.08L190.44,260.08L190.44,261.58L191.89,261.58L191.89,263.07L191.89,263.07L191.89,264.57L212.52,264.57L212.52,266.07L218.54,266.07L218.54,267.57L223.10,267.57L223.10,269.06L218.17,269.06L218.17,270.56L218.17,270.56L218.17,272.06L218.17,272.06L218.17,273.55L220.00,273.55L220.00,275.05L239.71,275.05L239.71,276.55L250.66,276.55L250.66,278.05L250.66,278.05L250.66,279.54L250.66,279.54L250.66,281.04L252.67,281.04L252.67,282.54L265.99,282.54L265.99,284.03L265.99,284.03L265.99,285.53L269.46,285.53L269.46,287.03L252.30,287.03L252.30,288.52L246.28,288.52L246.28,290.02L243.36,290.02L243.36,291.52L229.49,291.52L229.49,293.02L229.49,293.02L229.49,294.51L229.49,294.51L229.49,296.01L245.37,296.01L245.37,297.51L245.37,297.51L245.37,299.00L245.37,299.00L245.37,300.50L266.17,300.50L266.17,302.00L268.91,302.00L268.91,303.50L269.27,303.50L269.27,304.99L269.27,304.99L269.27,306.49L270.19,306.49L270.19,307.99L278.95,307.99L278.95,309.48L278.95,309.48L278.95,310.98L278.95,310.98L278.95,312.48L282.05,312.48L282.05,313.98L282.05,313.98L282.05,315.47L282.05,315.47L282.05,316.97L303.58,316.97L303.58,318.47L330.05,318.47L330.05,319.96L335.16,319.96L335.16,321.46L336.80,321.46L336.80,322.96Z" fill="#FFB400"/>
<path d="M337.70,322.96L337.70,321.46L337.70,321.46L337.70,319.96L336.06,319.96L336.06,318.47L330.95,318.47L330.95,316.97L304.49,316.97L304.49,315.47L282.95,315.47L282.95,313.98L318.72,313.98L318.72,312.48L297.18,312.48L297.18,310.98L279.85,310.98L279.85,309.48L292.26,309.48L292.26,307.99L289.34,307.99L289.34,306.49L271.09,306.49L271.09,304.99L270.17,304.99L270.17,303.50L293.35,303.50L293.35,302.00L269.81,302.00L269.81,300.50L267.07,300.50L267.07,299.00L246.27,299.00L246.27,297.51L264.15,297.51L264.15,296.01L264.15,296.01L264.15,294.51L230.39,294.51L230.39,293.02L244.26,293.02L244.26,291.52L247.18,291.52L247.18,290.02L253.20,290.02L253.20,288.52L274.01,288.52L274.01,287.03L279.30,287.03L279.30,285.53L270.36,285.53L270.36,284.03L266.89,284.03L266.89,282.54L277.47,282.54L277.47,281.04L253.57,281.04L253.57,279.54L251.56,279.54L251.56,278.05L257.40,278.05L257.40,276.55L260.50,276.55L260.50,275.05L240.61,275.05L240.61,273.55L220.90,273.55L220.90,272.06L219.07,272.06L219.07,270.56L230.75,270.56L230.75,269.06L228.02,269.06L228.02,267.57L224.00,267.57L224.00,266.07L219.44,266.07L219.44,264.57L213.42,264.57L213.42,263.07L192.79,263.07L192.79,261.58L196.81,261.58L196.81,260.08L191.33,260.08L191.33,258.58L191.70,258.58L191.70,257.09L187.69,257.09L187.69,255.59L186.59,255.59L186.59,254.09L177.83,254.09L177.83,252.60L173.08,252.60L173.08,251.10L167.24,251.10L167.24,249.60L168.34,249.60L168.34,248.10L171.26,248.10L171.26,246.61L159.21,246.61L159.21,245.11L157.94,245.11L157.94,243.61L158.30,243.61L158.30,242.12L157.94,242.12L157.94,240.62L158.48,240.62L158.48,239.12L159.58,239.12L159.58,237.62L158.48,237.62L158.48,236.13L157.94,236.13L157.94,234.63L155.20,234.63L155.20,233.13L155.20,233.13L155.20,231.64L155.20,231.64L155.20,230.14L155.20,230.14L155.20,228.64L155.20,228.64L155.20,227.15L155.20,227.15L155.20,225.65L155.20,225.65L155.20,224.15L155.20,224.15L155.20,222.65L155.20,222.65L155.20,221.16L155.20,221.16L155.20,219.66L155.20,219.66L155.20,218.16L155.20,218.16L155.20,216.67L155.20,216.67L155.20,215.17L155.20,215.17L155.20,213.67L155.20,213.67L155.20,212.17L155.20,212.17L155.20,210.68L155.20,210.68L155.20,209.18L155.20,209.18L155.20,207.68L155.20,207.68L155.20,206.19L155.20,206.19L155.20,204.69L155.20,204.69L155.20,203.19L155.20,203.19L155.20,201.70L155.20,201.70L155.20,203.19L155.20,203.19L155.20,204.69L155.20,204.69L155.20,206.19L155.20,206.19L155.20,207.68L155.20,207.68L155.20,209.18L155.20,209.18L155.20,210.68L155.20,210.68L155.20,212.17L155.20,212.17L155.20,213.67L155.20,213.67L155.20,215.17L155.20,215.17L155.20,216.67L155.20,216.67L155.20,218.16L155.20,218.16L155.20,219.66L155.20,219.66L155.20,221.16L155.20,221.16L155.20,222.65L155.20,222.65L155.20,224.15L155.20,224.15L155.20,225.65L155.20,225.65L155.20,227.15L155.20,227.15L155.20,228.64L155.20,228.64L155.20,230.14L155.20,230.14L155.20,231.64L155.20,231.64L155.20,233.13L155.20,233.13L155.20,234.63L155.20,234.63L155.20,236.13L157.04,236.13L157.04,237.62L157.04,237.62L157.04,239.12L157.04,239.12L157.04,240.62L157.04,240.62L157.04,242.12L157.04,242.12L157.04,243.61L157.04,243.61L157.04,245.11L157.04,245.11L157.04,246.61L158.31,246.61L158.31,248.10L166.34,248.10L166.34,249.60L166.34,249.60L166.34,251.10L166.34,251.10L166.34,252.60L172.19,252.60L172.19,254.09L176.20,254.09L176.20,255.59L183.50,255.59L183.50,257.09L184.23,257.09L184.23,258.58L184.59,258.58L184.59,260.08L186.05,260.08L186.05,261.58L186.42,261.58L186.42,263.07L186.42,263.07L186.42,264.57L196.64,264.57L196.64,266.07L197.73,266.07L197.73,267.57L198.65,267.57L198.65,269.06L202.11,269.06L202.11,270.56L196.27,270.56L196.27,272.06L196.27,272.06L196.27,273.55L196.27,273.55L196.27,275.05L197.19,275.05L197.19,276.55L199.01,276.55L199.01,278.05L197.37,278.05L197.37,279.54L194.81,279.54L194.81,281.04L194.81,281.04L194.81,282.54L194.81,282.54L194.81,284.03L196.27,284.03L196.27,285.53L198.46,285.53L198.46,287.03L201.38,287.03L201.38,288.52L198.83,288.52L198.83,290.02L195.91,290.02L195.91,291.52L190.80,291.52L190.80,293.02L190.80,293.02L190.80,294.51L190.80,294.51L190.80,296.01L192.26,296.01L192.26,297.51L197.37,297.51L197.37,299.00L197.37,299.00L197.37,300.50L203.21,300.50L203.21,302.00L211.60,302.00L211.60,303.50L232.77,303.50L232.77,304.99L232.77,304.99L232.77,306.49L239.71,306.49L239.71,307.99L255.40,307.99L255.40,309.48L257.23,309.48L257.23,310.98L262.52,310.98L262.52,312.48L268.18,312.48L268.18,313.98L268.18,313.98L268.18,315.47L268.18,315.47L268.18,316.97L299.20,316.97L299.20,318.47L322.02,318.47L322.02,319.96L322.02,319.96L322.02,321.46L336.44,321.46L336.44,322.96Z" fill="#B4001E"/>
<path d="M337.34,322.96L337.34,321.46L337.34,321.46L337.34,319.96L322.92,319.96L322.92,318.47L330.22,318.47L330.22,316.97L300.11,316.97L300.11,315.47L269.08,315.47L269.08,313.98L312.51,313.98L312.51,312.48L281.31,312.48L281.31,310.98L263.42,310.98L263.42,309.48L258.13,309.48L258.13,307.99L256.30,307.99L256.30,306.49L240.61,306.49L240.61,304.99L233.67,304.99L233.67,303.50L249.55,303.50L249.55,302.00L212.50,302.00L212.50,300.50L204.11,300.50L204.11,299.00L198.27,299.00L198.27,297.51L219.80,297.51L219.80,296.01L193.16,296.01L193.16,294.51L191.70,294.51L191.70,293.02L196.81,293.02L196.81,291.52L199.73,291.52L199.73,290.02L211.77,290.02L211.77,288.52L202.47,288.52L202.47,287.03L202.28,287.03L202.28,285.53L199.36,285.53L199.36,284.03L197.17,284.03L197.17,282.54L195.71,282.54L195.71,281.04L198.27,281.04L198.27,279.54L199.91,279.54L199.91,278.05L200.82,278.05L200.82,276.55L217.25,276.55L217.25,275.05L198.09,275.05L198.09,273.55L197.17,273.55L197.17,272.06L203.01,272.06L203.01,270.56L205.20,270.56L205.20,269.06L204.47,269.06L204.47,267.57L199.55,267.57L199.55,266.07L198.63,266.07L198.63,264.57L197.54,264.57L197.54,263.07L187.32,263.07L187.32,261.58L191.70,261.58L191.70,260.08L186.95,260.08L186.95,258.58L185.50,258.58L185.50,257.09L185.13,257.09L185.13,255.59L184.40,255.59L184.40,254.09L177.10,254.09L177.10,252.60L173.08,252.60L173.08,251.10L167.24,251.10L167.24,249.60L168.34,249.60L168.34,248.10L167.97,248.10L167.97,246.61L159.21,246.61L159.21,245.11L157.94,245.11L157.94,243.61L158.30,243.61L158.30,242.12L157.94,242.12L157.94,240.62L158.48,240.62L158.48,239.12L157.94,239.12L157.94,237.62L158.48,237.62L158.48,236.13L157.94,236.13L157.94,234.63L155.20,234.63L155.20,233.13L155.20,233.13L155.20,231.64L155.20,231.64L155.20,230.14L155.20,230.14L155.20,228.64L155.20,228.64L155.20,227.15L155.20,227.15L155.20,225.65L155.20,225.65L155.20,224.15L155.20,224.15L155.20,222.65L155.20,222.65L155.20,221.16L155.20,221.16L155.20,219.66L155.20,219.66L155.20,218.16L155.20,218.16L155.20,216.67L155.20,216.67L155.20,215.17L155.20,215.17L155.20,213.67L155.20,213.67L155.20,212.17L155.20,212.17L155.20,210.68L155.20,210.68L155.20,209.18L155.20,209.18L155.20,207.68L155.20,207.68L155.20,206.19L155.20,206.19L155.20,204.69L155.20,204.69L155.20,203.19L155.20,203.19L155.20,201.70L155.20,201.70L155.20,203.19L155.20,203.19L155.20,204.69L155.20,204.69L155.20,206.19L155.20,206.19L155.20,207.68L155.20,207.68L155.20,209.18L155.20,209.18L155.20,210.68L155.20,210.68L155.20,212.17L155.20,212.17L155.20,213.67L155.20,213.67L155.20,215.17L155.20,215.17L155.20,216.67L155.20,216.67L155.20,218.16L155.20,218.16L155.20,219.66L155.20,219.66L155.20,221.16L155.20,221.16L155.20,222.65L155.20,222.65L155.20,224.15L155.20,224.15L155.20,225.65L155.20,225.65L155.20,227.15L155.20,227.15L155.20,228.64L155.20,228.64L155.20,230.14L155.20,230.14L155.20,231.64L155.20,231.64L155.20,233.13L155.20,233.13L155.20,234.63L155.20,234.63L155.20,236.13L155.20,236.13L155.20,237.62L155.20,237.62L155.20,239.12L155.20,239.12L155.20,240.62L155.20,240.62L155.20,242.12L155.20,242.12L155.20,243.61L155.20,243.61L155.20,245.11L155.20,245.11L155.20,246.61L155.94,246.61L155.94,248.10L161.23,248.10L161.23,249.60L161.23,249.60L161.23,251.10L161.23,251.10L161.23,252.60L166.34,252.60L166.34,254.09L170.72,254.09L170.72,255.59L174.38,255.59L174.38,257.09L175.10,257.09L175.10,258.58L175.47,258.58L175.47,260.08L176.56,260.08L176.56,261.58L177.66,261.58L177.66,263.07L177.66,263.07L177.66,264.57L186.24,264.57L186.24,266.07L187.33,266.07L187.33,267.57L188.61,267.57L188.61,269.06L185.32,269.06L185.32,270.56L185.32,270.56L185.32,272.06L185.32,272.06L185.32,273.55L192.08,273.55L192.08,275.05L193.72,275.05L193.72,276.55L192.99,276.55L192.99,278.05L188.25,278.05L188.25,279.54L184.41,279.54L184.41,281.04L182.77,281.04L182.77,282.54L182.77,282.54L182.77,284.03L182.77,284.03L182.77,285.53L188.25,285.53L188.25,287.03L188.79,287.03L188.79,288.52L181.86,288.52L181.86,290.02L181.67,290.02L181.67,291.52L177.11,291.52L177.11,293.02L172.00,293.02L172.00,294.51L172.00,294.51L172.00,296.01L172.00,296.01L172.00,297.51L174.92,297.51L174.92,299.00L174.92,299.00L174.92,300.50L174.92,300.50L174.92,302.00L195.00,302.00L195.00,303.50L206.86,303.50L206.86,304.99L206.86,304.99L206.86,306.49L206.86,306.49L206.86,307.99L222.92,307.99L222.92,309.48L236.97,309.48L236.97,310.98L220.55,310.98L220.55,312.48L220.18,312.48L220.18,313.98L220.18,313.98L220.18,315.47L220.18,315.47L220.18,316.97L297.93,316.97L297.93,318.47L313.62,318.47L313.62,319.96L319.10,319.96L319.10,321.46L333.70,321.46L333.70,322.96Z" fill="#F5FF00"/>
<path d="M334.60,322.96L334.60,321.46L334.60,321.46L334.60,319.96L320.00,319.96L320.00,318.47L314.52,318.47L314.52,316.97L298.83,316.97L298.83,315.47L221.08,315.47L221.08,313.98L221.45,313.98L221.45,312.48L237.87,312.48L237.87,310.98L253.38,310.98L253.38,309.48L239.70,309.48L239.70,307.99L223.82,307.99L223.82,306.49L207.76,306.49L207.76,304.99L215.97,304.99L215.97,303.50L226.92,303.50L226.92,302.00L195.90,302.00L195.90,300.50L175.82,300.50L175.82,299.00L177.65,299.00L177.65,297.51L186.41,297.51L186.41,296.01L172.90,296.01L172.90,294.51L178.01,294.51L178.01,293.02L182.57,293.02L182.57,291.52L182.76,291.52L182.76,290.02L190.42,290.02L190.42,288.52L190.42,288.52L190.42,287.03L189.69,287.03L189.69,285.53L189.14,285.53L189.14,284.03L183.67,284.03L183.67,282.54L185.31,282.54L185.31,281.04L189.14,281.04L189.14,279.54L193.89,279.54L193.89,278.05L194.62,278.05L194.62,276.55L197.17,276.55L197.17,275.05L196.63,275.05L196.63,273.55L192.98,273.55L192.98,272.06L186.22,272.06L186.22,270.56L190.79,270.56L190.79,269.06L192.79,269.06L192.79,267.57L189.51,267.57L189.51,266.07L188.23,266.07L188.23,264.57L187.14,264.57L187.14,263.07L178.56,263.07L178.56,261.58L179.65,261.58L179.65,260.08L177.46,260.08L177.46,258.58L176.37,258.58L176.37,257.09L176.00,257.09L176.00,255.59L175.27,255.59L175.27,254.09L171.62,254.09L171.62,252.60L167.24,252.60L167.24,251.10L162.13,251.10L162.13,249.60L162.86,249.60L162.86,248.10L163.96,248.10L163.96,246.61L156.84,246.61L156.84,245.11L155.75,245.11L155.75,243.61L155.56,243.61L155.56,242.12L155.20,242.12L155.20,240.62L155.20,240.62L155.20,239.12L156.29,239.12L156.29,237.62L155.20,237.62L155.20,236.13L156.11,236.13L156.11,234.63L155.20,234.63L155.20,233.13L155.20,233.13L155.20,231.64L155.20,231.64L155.20,230.14L155.20,230.14L155.20,228.64L155.20,228.64L155.20,227.15L155.20,227.15L155.20,225.65L155.20,225.65L155.20,224.15L155.20,224.15L155.20,222.65L155.20,222.65L155.20,221.16L155.20,221.16L155.20,219.66L155.20,219.66L155.20,218.16L155.20,218.16L155.20,216.67L155.20,216.67L155.20,215.17L155.20,215.17L155.20,213.67L155.20,213.67L155.20,212.17L155.20,212.17L155.20,210.68L155.20,210.68L155.20,209.18L155.20,209.18L155.20,207.68L155.20,207.68L155.20,206.19L155.20,206.19L155.20,204.69L155.20,204.69L155.20,203.19L155.20,203.19L155.20,201.70L155.20,201.70L155.20,203.19L155.20,203.19L155.20,204.69L155.20,204.69L155.20,206.19L155.20,206.19L155.20,207.68L155.20,207.68L155.20,209.18L155.20,209.18L155.20,210.68L155.20,210.68L155.20,212.17L155.20,212.17L155.20,213.67L155.20,213.67L155.20,215.17L155.20,215.17L155.20,216.67L155.20,216.67L155.20,218.16L155.20,218.16L155.20,219.66L155.20,219.66L155.20,221.16L155.20,221.16L155.20,222.65L155.20,222.65L155.20,224.15L155.20,224.15L155.20,225.65L155.20,225.65L155.20,227.15L155.20,227.15L155.20,228.64L155.20,228.64L155.20,230.14L155.20,230.14L155.20,231.64L155.20,231.64L155.20,233.13L155.20,233.13L155.20,234.63L155.20,234.63L155.20,236.13L155.20,236.13L155.20,237.62L155.20,237.62L155.20,239.12L155.20,239.12L155.20,240.62L155.20,240.62L155.20,242.12L155.20,242.12L155.20,243.61L155.20,243.61L155.20,245.11L155.20,245.11L155.20,246.61L155.20,246.61L155.20,248.10L155.20,248.10L155.20,249.60L155.20,249.60L155.20,251.10L155.20,251.10L155.20,252.60L155.20,252.60L155.20,254.09L155.20,254.09L155.20,255.59L155.20,255.59L155.20,257.09L155.20,257.09L155.20,258.58L155.20,258.58L155.20,260.08L155.20,260.08L155.20,261.58L155.20,261.58L155.20,263.07L155.20,263.07L155.20,264.57L155.20,264.57L155.20,266.07L155.20,266.07L155.20,267.57L155.20,267.57L155.20,269.06L155.20,269.06L155.20,270.56L155.20,270.56L155.20,272.06L155.20,272.06L155.20,273.55L155.20,273.55L155.20,275.05L155.20,275.05L155.20,276.55L155.20,276.55L155.20,278.05L155.20,278.05L155.20,279.54L155.20,279.54L155.20,281.04L155.20,281.04L155.20,282.54L155.20,282.54L155.20,284.03L155.20,284.03L155.20,285.53L155.20,285.53L155.20,287.03L155.20,287.03L155.20,288.52L155.20,288.52L155.20,290.02L155.20,290.02L155.20,291.52L155.20,291.52L155.20,293.02L155.20,293.02L155.20,294.51L155.20,294.51L155.20,296.01L155.20,296.01L155.20,297.51L155.20,297.51L155.20,299.00L155.20,299.00L155.20,300.50L155.20,300.50L155.20,302.00L155.20,302.00L155.20,303.50L155.20,303.50L155.20,304.99L155.20,304.99L155.20,306.49L155.20,306.49L155.20,307.99L155.20,307.99L155.20,309.48L155.20,309.48L155.20,310.98L155.20,310.98L155.20,312.48L155.20,312.48L155.20,313.98L155.20,313.98L155.20,315.47L155.20,315.47L155.20,316.97L155.20,316.97L155.20,318.47L155.20,318.47L155.20,319.96L155.20,319.96L155.20,321.46L155.20,321.46L155.20,322.96Z" fill="#00B07F"/>
<path d="M164.32,199.45v0.9" stroke="#555" stroke-width="0.6"/>
<path d="M173.45,199.45v0.9" stroke="#555" stroke-width="0.6"/>
<path d="M182.57,199.45v0.9" stroke="#555" stroke-width="0.6"/>
<path d="M191.70,199.45v0.9" stroke="#555" stroke-width="0.6"/>
<path d="M200.82,199.45v0.9" stroke="#555" stroke-width="0.6"/>
<path d="M209.95,199.45v0.9" stroke="#555" stroke-width="0.6"/>
<path d="M219.07,199.45v0.9" stroke="#555" stroke-width="0.6"/>
<path d="M228.20,199.45v0.9" stroke="#555" stroke-width="0.6"/>
<path d="M237.32,199.45v0.9" stroke="#555" stroke-width="0.6"/>
<path d="M246.45,199.45v0.9" stroke="#555" stroke-width="0.6"/>
<path d="M255.57,199.45v0.9" stroke="#555" stroke-width="0.6"/>
<path d="M264.70,199.45v0.9" stroke="#555" stroke-width="0.6"/>
<path d="M273.82,199.45v0.9" stroke="#555" stroke-width="0.6"/>
<path d="M282.95,199.45v0.9" stroke="#555" stroke-width="0.6"/>
<path d="M292.07,199.45v0.9" stroke="#555" stroke-width="0.6"/>
<path d="M301.20,199.45v0.9" stroke="#555" stroke-width="0.6"/>
<path d="M310.32,199.45v0.9" stroke="#555" stroke-width="0.6"/>
<path d="M319.45,199.45v0.9" stroke="#555" stroke-width="0.6"/>
<path d="M328.57,199.45v0.9" stroke="#555" stroke-width="0.6"/>
<text transform="translate(155.20,338.80) scale(1,1.1)" text-anchor="middle" class="t">0</text>
<text transform="translate(191.70,338.80) scale(1,1.1)" text-anchor="middle" class="t">20</text>
<text transform="translate(228.20,338.80) scale(1,1.1)" text-anchor="middle" class="t">40</text>
<text transform="translate(264.70,338.80) scale(1,1.1)" text-anchor="middle" class="t">60</text>
<text transform="translate(301.20,338.80) scale(1,1.1)" text-anchor="middle" class="t">80</text>
<text transform="translate(337.70,338.80) scale(1,1.1)" text-anchor="middle" class="t">100</text>
<text x="246.45" y="358.30" text-anchor="middle" class="x">Fraction [%]</text>
<text transform="translate(152.40,300.56) scale(1,1.1)" text-anchor="end" class="t">350</text>
<text transform="translate(152.40,263.13) scale(1,1.1)" text-anchor="end" class="t">400</text>
<text transform="translate(152.40,225.71) scale(1,1.1)" text-anchor="end" class="t">450</text>
<text transform="translate(120.80,263.07) rotate(-90)" text-anchor="middle" class="x">Potential Temperature [K]</text>
<text x="246.45" y="194.85" text-anchor="middle" class="h">(d) post&#8722;monsoon 2016</text>
<rect x="381.30" y="199.45" width="182.50" height="127.25" fill="#fff" stroke="#555" stroke-width="0.55"/>
<path d="M381.30,326.70v-3.6" stroke="#333" stroke-width="0.5"/>
<path d="M390.43,326.70v-2.2" stroke="#333" stroke-width="0.5"/>
<path d="M399.55,326.70v-2.2" stroke="#333" stroke-width="0.5"/>
<path d="M408.68,326.70v-2.2" stroke="#333" stroke-width="0.5"/>
<path d="M417.80,326.70v-3.6" stroke="#333" stroke-width="0.5"/>
<path d="M426.93,326.70v-2.2" stroke="#333" stroke-width="0.5"/>
<path d="M436.05,326.70v-2.2" stroke="#333" stroke-width="0.5"/>
<path d="M445.18,326.70v-2.2" stroke="#333" stroke-width="0.5"/>
<path d="M454.30,326.70v-3.6" stroke="#333" stroke-width="0.5"/>
<path d="M463.43,326.70v-2.2" stroke="#333" stroke-width="0.5"/>
<path d="M472.55,326.70v-2.2" stroke="#333" stroke-width="0.5"/>
<path d="M481.68,326.70v-2.2" stroke="#333" stroke-width="0.5"/>
<path d="M490.80,326.70v-3.6" stroke="#333" stroke-width="0.5"/>
<path d="M499.93,326.70v-2.2" stroke="#333" stroke-width="0.5"/>
<path d="M509.05,326.70v-2.2" stroke="#333" stroke-width="0.5"/>
<path d="M518.17,326.70v-2.2" stroke="#333" stroke-width="0.5"/>
<path d="M527.30,326.70v-3.6" stroke="#333" stroke-width="0.5"/>
<path d="M536.42,326.70v-2.2" stroke="#333" stroke-width="0.5"/>
<path d="M545.55,326.70v-2.2" stroke="#333" stroke-width="0.5"/>
<path d="M554.67,326.70v-2.2" stroke="#333" stroke-width="0.5"/>
<path d="M563.80,326.70v-3.6" stroke="#333" stroke-width="0.5"/>
<rect x="381.40" y="199.73" width="182.40" height="123.23" fill="#DCDCF0"/>
<path d="M563.80,322.96L563.80,321.46L563.80,321.46L563.80,319.96L563.80,319.96L563.80,318.47L563.16,318.47L563.16,316.97L561.88,316.97L561.88,315.47L562.80,315.47L562.80,313.98L563.71,313.98L563.71,312.48L563.16,312.48L563.16,310.98L563.53,310.98L563.53,309.48L563.53,309.48L563.53,307.99L563.16,307.99L563.16,306.49L563.16,306.49L563.16,304.99L563.16,304.99L563.16,303.50L563.16,303.50L563.16,302.00L562.61,302.00L562.61,300.50L561.88,300.50L561.88,299.00L562.25,299.00L562.25,297.51L561.88,297.51L561.88,296.01L561.52,296.01L561.52,294.51L561.15,294.51L561.15,293.02L561.52,293.02L561.52,291.52L561.52,291.52L561.52,290.02L561.15,290.02L561.15,288.52L562.25,288.52L562.25,287.03L562.61,287.03L562.61,285.53L562.61,285.53L562.61,284.03L561.88,284.03L561.88,282.54L561.52,282.54L561.52,281.04L561.52,281.04L561.52,279.54L561.61,279.54L561.61,278.05L561.25,278.05L561.25,276.55L561.06,276.55L561.06,275.05L560.88,275.05L560.88,273.55L560.51,273.55L560.51,272.06L560.33,272.06L560.33,270.56L560.33,270.56L560.33,269.06L560.33,269.06L560.33,267.57L560.33,267.57L560.33,266.07L560.33,266.07L560.33,264.57L560.15,264.57L560.15,263.07L559.42,263.07L559.42,261.58L560.15,261.58L560.15,260.08L559.78,260.08L559.78,258.58L559.60,258.58L559.60,257.09L558.33,257.09L558.33,255.59L557.60,255.59L557.60,254.09L558.33,254.09L558.33,252.60L546.10,252.60L546.10,251.10L551.02,251.10L551.02,249.60L555.59,249.60L555.59,248.10L549.57,248.10L549.57,246.61L539.53,246.61L539.53,245.11L517.26,245.11L517.26,243.61L517.26,243.61L517.26,242.12L524.75,242.12L524.75,240.62L538.07,240.62L538.07,239.12L517.26,239.12L517.26,237.62L528.76,237.62L528.76,236.13L528.76,236.13L528.76,234.63L477.66,234.63L477.66,233.13L504.49,233.13L504.49,231.64L484.41,231.64L484.41,230.14L471.09,230.14L471.09,228.64L464.88,228.64L464.88,227.15L470.73,227.15L470.73,225.65L471.46,225.65L471.46,224.15L470.73,224.15L470.73,222.65L466.35,222.65L466.35,221.16L464.88,221.16L464.88,219.66L467.62,219.66L467.62,218.16L471.64,218.16L471.64,216.67L470.73,216.67L470.73,215.17L459.59,215.17L459.59,213.67L449.56,213.67L449.56,212.17L459.59,212.17L459.59,210.68L459.59,210.68L459.59,209.18L460.87,209.18L460.87,207.68L470.73,207.68L470.73,206.19L474.92,206.19L474.92,204.69L474.92,204.69L474.92,203.19L472.55,203.19L472.55,201.70L443.91,201.70L443.91,203.19L442.45,203.19L442.45,204.69L441.17,204.69L441.17,206.19L435.88,206.19L435.88,207.68L435.15,207.68L435.15,209.18L435.15,209.18L435.15,210.68L429.13,210.68L429.13,212.17L429.13,212.17L429.13,213.67L429.13,213.67L429.13,215.17L429.13,215.17L429.13,216.67L427.85,216.67L427.85,218.16L427.85,218.16L427.85,219.66L427.85,219.66L427.85,221.16L427.85,221.16L427.85,222.65L427.85,222.65L427.85,224.15L435.88,224.15L435.88,225.65L435.15,225.65L435.15,227.15L435.15,227.15L435.15,228.64L435.15,228.64L435.15,230.14L437.16,230.14L437.16,231.64L429.13,231.64L429.13,233.13L429.13,233.13L429.13,234.63L429.13,234.63L429.13,236.13L450.66,236.13L450.66,237.62L450.66,237.62L450.66,239.12L450.66,239.12L450.66,240.62L451.94,240.62L451.94,242.12L447.93,242.12L447.93,243.61L447.93,243.61L447.93,245.11L447.93,245.11L447.93,246.61L465.26,246.61L465.26,248.10L490.81,248.10L490.81,249.60L491.73,249.60L491.73,251.10L502.31,251.10L502.31,252.60L502.31,252.60L502.31,254.09L511.80,254.09L511.80,255.59L521.11,255.59L521.11,257.09L521.84,257.09L521.84,258.58L521.84,258.58L521.84,260.08L521.84,260.08L521.84,261.58L529.14,261.58L529.14,263.07L530.41,263.07L530.41,264.57L531.88,264.57L531.88,266.07L537.17,266.07L537.17,267.57L539.17,267.57L539.17,269.06L541.18,269.06L541.18,270.56L543.19,270.56L543.19,272.06L545.93,272.06L545.93,273.55L546.66,273.55L546.66,275.05L547.93,275.05L547.93,276.55L549.39,276.55L549.39,278.05L550.67,278.05L550.67,279.54L551.40,279.54L551.40,281.04L552.86,281.04L552.86,282.54L554.69,282.54L554.69,284.03L555.05,284.03L555.05,285.53L555.42,285.53L555.42,287.03L551.77,287.03L551.77,288.52L551.77,288.52L551.77,290.02L551.77,290.02L551.77,291.52L549.94,291.52L549.94,293.02L549.94,293.02L549.94,294.51L549.94,294.51L549.94,296.01L553.23,296.01L553.23,297.51L553.96,297.51L553.96,299.00L553.96,299.00L553.96,300.50L553.96,300.50L553.96,302.00L556.88,302.00L556.88,303.50L558.98,303.50L558.98,304.99L558.98,304.99L558.98,306.49L558.98,306.49L558.98,307.99L559.71,307.99L559.71,309.48L559.52,309.48L559.52,310.98L559.52,310.98L559.52,312.48L559.52,312.48L559.52,313.98L559.52,313.98L559.52,315.47L559.52,315.47L559.52,316.97L559.52,316.97L559.52,318.47L562.26,318.47L562.26,319.96L562.90,319.96L562.90,321.46L562.90,321.46L562.90,322.96Z" fill="#009696"/>
<path d="M563.80,322.96L563.80,321.46L563.80,321.46L563.80,319.96L563.80,319.96L563.80,318.47L563.16,318.47L563.16,316.97L560.42,316.97L560.42,315.47L560.42,315.47L560.42,313.98L562.61,313.98L562.61,312.48L560.42,312.48L560.42,310.98L561.15,310.98L561.15,309.48L561.34,309.48L561.34,307.99L560.61,307.99L560.61,306.49L559.88,306.49L559.88,304.99L560.42,304.99L560.42,303.50L561.34,303.50L561.34,302.00L557.78,302.00L557.78,300.50L554.86,300.50L554.86,299.00L555.59,299.00L555.59,297.51L556.68,297.51L556.68,296.01L554.13,296.01L554.13,294.51L550.84,294.51L550.84,293.02L554.86,293.02L554.86,291.52L554.13,291.52L554.13,290.02L552.67,290.02L552.67,288.52L556.32,288.52L556.32,287.03L557.05,287.03L557.05,285.53L557.41,285.53L557.41,284.03L555.95,284.03L555.95,282.54L555.59,282.54L555.59,281.04L553.76,281.04L553.76,279.54L552.30,279.54L552.30,278.05L551.57,278.05L551.57,276.55L550.29,276.55L550.29,275.05L548.84,275.05L548.84,273.55L547.56,273.55L547.56,272.06L546.83,272.06L546.83,270.56L544.09,270.56L544.09,269.06L542.08,269.06L542.08,267.57L540.08,267.57L540.08,266.07L538.07,266.07L538.07,264.57L532.77,264.57L532.77,263.07L531.32,263.07L531.32,261.58L530.04,261.58L530.04,260.08L522.74,260.08L522.74,258.58L523.28,258.58L523.28,257.09L522.74,257.09L522.74,255.59L522.01,255.59L522.01,254.09L512.70,254.09L512.70,252.60L503.21,252.60L503.21,251.10L503.21,251.10L503.21,249.60L492.62,249.60L492.62,248.10L491.71,248.10L491.71,246.61L466.16,246.61L466.16,245.11L448.82,245.11L448.82,243.61L452.84,243.61L452.84,242.12L456.86,242.12L456.86,240.62L468.90,240.62L468.90,239.12L451.56,239.12L451.56,237.62L459.59,237.62L459.59,236.13L452.84,236.13L452.84,234.63L430.03,234.63L430.03,233.13L438.06,233.13L438.06,231.64L444.81,231.64L444.81,230.14L438.06,230.14L438.06,228.64L436.05,228.64L436.05,227.15L436.78,227.15L436.78,225.65L440.06,225.65L440.06,224.15L440.80,224.15L440.80,222.65L428.75,222.65L428.75,221.16L439.52,221.16L439.52,219.66L428.75,219.66L428.75,218.16L430.03,218.16L430.03,216.67L443.35,216.67L443.35,215.17L436.05,215.17L436.05,213.67L430.03,213.67L430.03,212.17L436.05,212.17L436.05,210.68L436.05,210.68L436.05,209.18L436.78,209.18L436.78,207.68L442.07,207.68L442.07,206.19L443.35,206.19L443.35,204.69L444.81,204.69L444.81,203.19L450.10,203.19L450.10,201.70L424.38,201.70L424.38,203.19L424.38,203.19L424.38,204.69L423.84,204.69L423.84,206.19L422.38,206.19L422.38,207.68L421.10,207.68L421.10,209.18L419.82,209.18L419.82,210.68L416.35,210.68L416.35,212.17L416.35,212.17L416.35,213.67L416.35,213.67L416.35,215.17L416.90,215.17L416.90,216.67L416.35,216.67L416.35,218.16L416.35,218.16L416.35,219.66L416.35,219.66L416.35,221.16L416.35,221.16L416.35,222.65L416.35,222.65L416.35,224.15L416.90,224.15L416.90,225.65L419.82,225.65L419.82,227.15L419.82,227.15L419.82,228.64L419.82,228.64L419.82,230.14L419.82,230.14L419.82,231.64L419.82,231.64L419.82,233.13L420.37,233.13L420.37,234.63L420.37,234.63L420.37,236.13L429.13,236.13L429.13,237.62L429.13,237.62L429.13,239.12L425.11,239.12L425.11,240.62L425.11,240.62L425.11,242.12L425.11,242.12L425.11,243.61L427.85,243.61L427.85,245.11L427.85,245.11L427.85,246.61L445.19,246.61L445.19,248.10L466.18,248.10L466.18,249.60L455.95,249.60L455.95,251.10L455.95,251.10L455.95,252.60L455.95,252.60L455.95,254.09L487.53,254.09L487.53,255.59L498.29,255.59L498.29,257.09L498.29,257.09L498.29,258.58L498.29,258.58L498.29,260.08L500.85,260.08L500.85,261.58L509.06,261.58L509.06,263.07L509.06,263.07L509.06,264.57L520.01,264.57L520.01,266.07L525.12,266.07L525.12,267.57L527.86,267.57L527.86,269.06L529.87,269.06L529.87,270.56L531.14,270.56L531.14,272.06L533.15,272.06L533.15,273.55L537.72,273.55L537.72,275.05L541.91,275.05L541.91,276.55L543.92,276.55L543.92,278.05L544.65,278.05L544.65,279.54L545.20,279.54L545.20,281.04L546.95,281.04L546.95,282.54L549.94,282.54L549.94,284.03L549.94,284.03L549.94,285.53L551.04,285.53L551.04,287.03L545.20,287.03L545.20,288.52L545.20,288.52L545.20,290.02L545.20,290.02L545.20,291.52L542.28,291.52L542.28,293.02L542.28,293.02L542.28,294.51L542.28,294.51L542.28,296.01L546.66,296.01L546.66,297.51L548.48,297.51L548.48,299.00L548.48,299.00L548.48,300.50L550.67,300.50L550.67,302.00L553.96,302.00L553.96,303.50L556.97,303.50L556.97,304.99L556.97,304.99L556.97,306.49L556.97,306.49L556.97,307.99L558.61,307.99L558.61,309.48L557.52,309.48L557.52,310.98L557.52,310.98L557.52,312.48L555.51,312.48L555.51,313.98L555.51,313.98L555.51,315.47L555.51,315.47L555.51,316.97L558.25,316.97L558.25,318.47L562.26,318.47L562.26,319.96L562.90,319.96L562.90,321.46L562.90,321.46L562.90,322.96Z" fill="#0050E6"/>
<path d="M563.80,322.96L563.80,321.46L563.80,321.46L563.80,319.96L563.80,319.96L563.80,318.47L563.16,318.47L563.16,316.97L559.15,316.97L559.15,315.47L556.41,315.47L556.41,313.98L561.88,313.98L561.88,312.48L558.42,312.48L558.42,310.98L559.69,310.98L559.69,309.48L560.06,309.48L560.06,307.99L559.51,307.99L559.51,306.49L557.87,306.49L557.87,304.99L558.60,304.99L558.60,303.50L560.79,303.50L560.79,302.00L554.86,302.00L554.86,300.50L551.57,300.50L551.57,299.00L549.38,299.00L549.38,297.51L553.40,297.51L553.40,296.01L547.56,296.01L547.56,294.51L543.18,294.51L543.18,293.02L550.48,293.02L550.48,291.52L546.83,291.52L546.83,290.02L546.10,290.02L546.10,288.52L551.94,288.52L551.94,287.03L552.30,287.03L552.30,285.53L553.40,285.53L553.40,284.03L550.84,284.03L550.84,282.54L551.21,282.54L551.21,281.04L547.85,281.04L547.85,279.54L546.10,279.54L546.10,278.05L545.55,278.05L545.55,276.55L544.82,276.55L544.82,275.05L542.81,275.05L542.81,273.55L538.62,273.55L538.62,272.06L534.05,272.06L534.05,270.56L532.04,270.56L532.04,269.06L530.77,269.06L530.77,267.57L528.76,267.57L528.76,266.07L526.02,266.07L526.02,264.57L520.91,264.57L520.91,263.07L509.96,263.07L509.96,261.58L509.96,261.58L509.96,260.08L501.75,260.08L501.75,258.58L499.19,258.58L499.19,257.09L499.93,257.09L499.93,255.59L501.75,255.59L501.75,254.09L488.43,254.09L488.43,252.60L456.86,252.60L456.86,251.10L473.46,251.10L473.46,249.60L476.20,249.60L476.20,248.10L467.07,248.10L467.07,246.61L446.09,246.61L446.09,245.11L428.75,245.11L428.75,243.61L428.75,243.61L428.75,242.12L426.01,242.12L426.01,240.62L438.06,240.62L438.06,239.12L430.03,239.12L430.03,237.62L430.03,237.62L430.03,236.13L430.03,236.13L430.03,234.63L421.27,234.63L421.27,233.13L428.75,233.13L428.75,231.64L420.72,231.64L420.72,230.14L424.74,230.14L424.74,228.64L422.00,228.64L422.00,227.15L420.72,227.15L420.72,225.65L426.74,225.65L426.74,224.15L417.80,224.15L417.80,222.65L417.25,222.65L417.25,221.16L423.28,221.16L423.28,219.66L417.25,219.66L417.25,218.16L417.80,218.16L417.80,216.67L425.28,216.67L425.28,215.17L419.26,215.17L419.26,213.67L417.25,213.67L417.25,212.17L420.72,212.17L420.72,210.68L422.00,210.68L422.00,209.18L423.28,209.18L423.28,207.68L424.74,207.68L424.74,206.19L426.01,206.19L426.01,204.69L425.28,204.69L425.28,203.19L428.02,203.19L428.02,201.70L391.33,201.70L391.33,203.19L390.72,203.19L390.72,204.69L390.11,204.69L390.11,206.19L389.49,206.19L389.49,207.68L389.13,207.68L389.13,209.18L389.13,209.18L389.13,210.68L389.13,210.68L389.13,212.17L389.49,212.17L389.49,213.67L390.72,213.67L390.72,215.17L390.11,215.17L390.11,216.67L390.11,216.67L390.11,218.16L390.11,218.16L390.11,219.66L389.49,219.66L389.49,221.16L389.49,221.16L389.49,222.65L389.49,222.65L389.49,224.15L389.49,224.15L389.49,225.65L389.49,225.65L389.49,227.15L390.72,227.15L390.72,228.64L390.72,228.64L390.72,230.14L390.72,230.14L390.72,231.64L391.33,231.64L391.33,233.13L390.11,233.13L390.11,234.63L390.11,234.63L390.11,236.13L390.11,236.13L390.11,237.62L391.33,237.62L391.33,239.12L391.33,239.12L391.33,240.62L392.79,240.62L392.79,242.12L392.31,242.12L392.31,243.61L392.31,243.61L392.31,245.11L392.31,245.11L392.31,246.61L394.27,246.61L394.27,248.10L404.86,248.10L404.86,249.60L400.29,249.60L400.29,251.10L400.29,251.10L400.29,252.60L400.29,252.60L400.29,254.09L418.91,254.09L418.91,255.59L426.94,255.59L426.94,257.09L428.40,257.09L428.40,258.58L432.78,258.58L432.78,260.08L433.51,260.08L433.51,261.58L434.97,261.58L434.97,263.07L434.97,263.07L434.97,264.57L458.14,264.57L458.14,266.07L459.79,266.07L459.79,267.57L460.52,267.57L460.52,269.06L465.26,269.06L465.26,270.56L464.90,270.56L464.90,272.06L464.90,272.06L464.90,273.55L464.90,273.55L464.90,275.05L486.62,275.05L486.62,276.55L501.03,276.55L501.03,278.05L501.03,278.05L501.03,279.54L501.03,279.54L501.03,281.04L503.59,281.04L503.59,282.54L512.71,282.54L512.71,284.03L512.71,284.03L512.71,285.53L517.82,285.53L517.82,287.03L502.49,287.03L502.49,288.52L502.49,288.52L502.49,290.02L490.63,290.02L490.63,291.52L490.63,291.52L490.63,293.02L490.63,293.02L490.63,294.51L490.81,294.51L490.81,296.01L495.56,296.01L495.56,297.51L495.56,297.51L495.56,299.00L495.56,299.00L495.56,300.50L496.29,300.50L496.29,302.00L500.85,302.00L500.85,303.50L527.68,303.50L527.68,304.99L527.68,304.99L527.68,306.49L535.71,306.49L535.71,307.99L535.71,307.99L535.71,309.48L533.70,309.48L533.70,310.98L533.70,310.98L533.70,312.48L526.76,312.48L526.76,313.98L526.76,313.98L526.76,315.47L526.76,315.47L526.76,316.97L540.63,316.97L540.63,318.47L561.99,318.47L561.99,319.96L562.90,319.96L562.90,321.46L562.90,321.46L562.90,322.96Z" fill="#9B9BF0"/>
<path d="M563.80,322.96L563.80,321.46L563.80,321.46L563.80,319.96L563.80,319.96L563.80,318.47L562.89,318.47L562.89,316.97L541.53,316.97L541.53,315.47L527.66,315.47L527.66,313.98L551.94,313.98L551.94,312.48L534.60,312.48L534.60,310.98L536.61,310.98L536.61,309.48L544.09,309.48L544.09,307.99L542.63,307.99L542.63,306.49L536.61,306.49L536.61,304.99L528.58,304.99L528.58,303.50L551.94,303.50L551.94,302.00L501.75,302.00L501.75,300.50L497.19,300.50L497.19,299.00L496.46,299.00L496.46,297.51L523.65,297.51L523.65,296.01L505.40,296.01L505.40,294.51L491.71,294.51L491.71,293.02L491.53,293.02L491.53,291.52L503.39,291.52L503.39,290.02L503.39,290.02L503.39,288.52L518.72,288.52L518.72,287.03L521.83,287.03L521.83,285.53L520.00,285.53L520.00,284.03L513.61,284.03L513.61,282.54L524.56,282.54L524.56,281.04L504.49,281.04L504.49,279.54L501.93,279.54L501.93,278.05L506.31,278.05L506.31,276.55L505.40,276.55L505.40,275.05L487.51,275.05L487.51,273.55L465.80,273.55L465.80,272.06L466.16,272.06L466.16,270.56L473.64,270.56L473.64,269.06L468.72,269.06L468.72,267.57L461.42,267.57L461.42,266.07L460.69,266.07L460.69,264.57L459.05,264.57L459.05,263.07L435.87,263.07L435.87,261.58L444.81,261.58L444.81,260.08L434.41,260.08L434.41,258.58L433.68,258.58L433.68,257.09L429.30,257.09L429.30,255.59L427.84,255.59L427.84,254.09L419.81,254.09L419.81,252.60L401.19,252.60L401.19,251.10L405.75,251.10L405.75,249.60L407.76,249.60L407.76,248.10L410.32,248.10L410.32,246.61L395.17,246.61L395.17,245.11L393.21,245.11L393.21,243.61L393.69,243.61L393.69,242.12L394.67,242.12L394.67,240.62L395.90,240.62L395.90,239.12L392.23,239.12L392.23,237.62L392.84,237.62L392.84,236.13L391.01,236.13L391.01,234.63L392.23,234.63L392.23,233.13L395.28,233.13L395.28,231.64L394.67,231.64L394.67,230.14L391.62,230.14L391.62,228.64L393.45,228.64L393.45,227.15L392.84,227.15L392.84,225.65L390.39,225.65L390.39,224.15L391.01,224.15L391.01,222.65L390.39,222.65L390.39,221.16L392.84,221.16L392.84,219.66L391.62,219.66L391.62,218.16L391.01,218.16L391.01,216.67L391.62,216.67L391.62,215.17L394.06,215.17L394.06,213.67L393.45,213.67L393.45,212.17L390.39,212.17L390.39,210.68L390.03,210.68L390.03,209.18L390.39,209.18L390.39,207.68L391.01,207.68L391.01,206.19L391.62,206.19L391.62,204.69L392.23,204.69L392.23,203.19L392.23,203.19L392.23,201.70L385.83,201.70L385.83,203.19L385.22,203.19L385.22,204.69L384.60,204.69L384.60,206.19L384.60,206.19L384.60,207.68L383.99,207.68L383.99,209.18L383.99,209.18L383.99,210.68L383.99,210.68L383.99,212.17L384.60,212.17L384.60,213.67L385.22,213.67L385.22,215.17L385.22,215.17L385.22,216.67L384.60,216.67L384.60,218.16L384.60,218.16L384.60,219.66L383.99,219.66L383.99,221.16L383.99,221.16L383.99,222.65L383.99,222.65L383.99,224.15L384.60,224.15L384.60,225.65L385.22,225.65L385.22,227.15L384.60,227.15L384.60,228.64L383.99,228.64L383.99,230.14L383.99,230.14L383.99,231.64L383.38,231.64L383.38,233.13L382.16,233.13L382.16,234.63L382.16,234.63L382.16,236.13L382.16,236.13L382.16,237.62L384.60,237.62L384.60,239.12L385.22,239.12L385.22,240.62L384.73,240.62L384.73,242.12L384.48,242.12L384.48,243.61L384.48,243.61L384.48,245.11L384.48,245.11L384.48,246.61L386.24,246.61L386.24,248.10L393.18,248.10L393.18,249.60L393.18,249.60L393.18,251.10L393.18,251.10L393.18,252.60L399.01,252.60L399.01,254.09L403.76,254.09L403.76,255.59L412.52,255.59L412.52,257.09L413.62,257.09L413.62,258.58L417.26,258.58L417.26,260.08L417.26,260.08L417.26,261.58L418.73,261.58L418.73,263.07L418.73,263.07L418.73,264.57L439.35,264.57L439.35,266.07L445.37,266.07L445.37,267.57L449.93,267.57L449.93,269.06L445.00,269.06L445.00,270.56L445.00,270.56L445.00,272.06L445.00,272.06L445.00,273.55L446.83,273.55L446.83,275.05L466.54,275.05L466.54,276.55L477.49,276.55L477.49,278.05L477.49,278.05L477.49,279.54L477.49,279.54L477.49,281.04L479.50,281.04L479.50,282.54L492.09,282.54L492.09,284.03L492.09,284.03L492.09,285.53L495.56,285.53L495.56,287.03L478.40,287.03L478.40,288.52L472.38,288.52L472.38,290.02L469.46,290.02L469.46,291.52L455.59,291.52L455.59,293.02L455.59,293.02L455.59,294.51L455.59,294.51L455.59,296.01L471.47,296.01L471.47,297.51L471.47,297.51L471.47,299.00L471.47,299.00L471.47,300.50L492.27,300.50L492.27,302.00L495.01,302.00L495.01,303.50L495.38,303.50L495.38,304.99L495.38,304.99L495.38,306.49L496.29,306.49L496.29,307.99L505.05,307.99L505.05,309.48L505.05,309.48L505.05,310.98L505.05,310.98L505.05,312.48L508.15,312.48L508.15,313.98L508.15,313.98L508.15,315.47L508.15,315.47L508.15,316.97L529.68,316.97L529.68,318.47L556.15,318.47L556.15,319.96L561.26,319.96L561.26,321.46L562.90,321.46L562.90,322.96Z" fill="#FFB400"/>
<path d="M563.80,322.96L563.80,321.46L563.80,321.46L563.80,319.96L562.16,319.96L562.16,318.47L557.05,318.47L557.05,316.97L530.59,316.97L530.59,315.47L509.05,315.47L509.05,313.98L544.82,313.98L544.82,312.48L523.28,312.48L523.28,310.98L505.95,310.98L505.95,309.48L518.36,309.48L518.36,307.99L515.44,307.99L515.44,306.49L497.19,306.49L497.19,304.99L496.27,304.99L496.27,303.50L519.45,303.50L519.45,302.00L495.91,302.00L495.91,300.50L493.17,300.50L493.17,299.00L472.37,299.00L472.37,297.51L490.25,297.51L490.25,296.01L490.25,296.01L490.25,294.51L456.49,294.51L456.49,293.02L470.36,293.02L470.36,291.52L473.28,291.52L473.28,290.02L479.30,290.02L479.30,288.52L500.11,288.52L500.11,287.03L505.40,287.03L505.40,285.53L496.46,285.53L496.46,284.03L492.99,284.03L492.99,282.54L504.31,282.54L504.31,281.04L480.40,281.04L480.40,279.54L478.39,279.54L478.39,278.05L484.23,278.05L484.23,276.55L487.33,276.55L487.33,275.05L467.44,275.05L467.44,273.55L447.73,273.55L447.73,272.06L445.90,272.06L445.90,270.56L457.59,270.56L457.59,269.06L454.85,269.06L454.85,267.57L450.83,267.57L450.83,266.07L446.27,266.07L446.27,264.57L440.25,264.57L440.25,263.07L419.62,263.07L419.62,261.58L423.64,261.58L423.64,260.08L418.17,260.08L418.17,258.58L418.53,258.58L418.53,257.09L414.51,257.09L414.51,255.59L413.42,255.59L413.42,254.09L404.66,254.09L404.66,252.60L399.92,252.60L399.92,251.10L394.07,251.10L394.07,249.60L395.17,249.60L395.17,248.10L398.09,248.10L398.09,246.61L387.14,246.61L387.14,245.11L385.38,245.11L385.38,243.61L385.63,243.61L385.63,242.12L386.12,242.12L386.12,240.62L386.12,240.62L386.12,239.12L386.12,239.12L386.12,237.62L385.50,237.62L385.50,236.13L383.06,236.13L383.06,234.63L384.28,234.63L384.28,233.13L385.50,233.13L385.50,231.64L384.89,231.64L384.89,230.14L385.50,230.14L385.50,228.64L386.12,228.64L386.12,227.15L386.73,227.15L386.73,225.65L386.12,225.65L386.12,224.15L385.50,224.15L385.50,222.65L384.89,222.65L384.89,221.16L386.12,221.16L386.12,219.66L385.50,219.66L385.50,218.16L386.73,218.16L386.73,216.67L386.12,216.67L386.12,215.17L386.73,215.17L386.73,213.67L387.34,213.67L387.34,212.17L385.50,212.17L385.50,210.68L384.89,210.68L384.89,209.18L385.50,209.18L385.50,207.68L385.50,207.68L385.50,206.19L386.12,206.19L386.12,204.69L386.73,204.69L386.73,203.19L387.34,203.19L387.34,201.70L383.38,201.70L383.38,203.19L383.14,203.19L383.14,204.69L382.77,204.69L382.77,206.19L382.77,206.19L382.77,207.68L382.53,207.68L382.53,209.18L382.53,209.18L382.53,210.68L382.53,210.68L382.53,212.17L382.77,212.17L382.77,213.67L382.16,213.67L382.16,215.17L381.55,215.17L381.55,216.67L381.55,216.67L381.55,218.16L381.55,218.16L381.55,219.66L382.16,219.66L382.16,221.16L382.16,221.16L382.16,222.65L382.16,222.65L382.16,224.15L382.77,224.15L382.77,225.65L383.38,225.65L383.38,227.15L382.77,227.15L382.77,228.64L382.16,228.64L382.16,230.14L382.16,230.14L382.16,231.64L382.16,231.64L382.16,233.13L381.55,233.13L381.55,234.63L381.55,234.63L381.55,236.13L381.55,236.13L381.55,237.62L383.99,237.62L383.99,239.12L383.99,239.12L383.99,240.62L383.50,240.62L383.50,242.12L383.26,242.12L383.26,243.61L383.26,243.61L383.26,245.11L383.26,245.11L383.26,246.61L384.78,246.61L384.78,248.10L392.99,248.10L392.99,249.60L392.99,249.60L392.99,251.10L392.99,251.10L392.99,252.60L398.83,252.60L398.83,254.09L402.85,254.09L402.85,255.59L410.15,255.59L410.15,257.09L410.88,257.09L410.88,258.58L411.24,258.58L411.24,260.08L412.70,260.08L412.70,261.58L413.07,261.58L413.07,263.07L413.07,263.07L413.07,264.57L423.29,264.57L423.29,266.07L424.38,266.07L424.38,267.57L425.30,267.57L425.30,269.06L428.76,269.06L428.76,270.56L422.92,270.56L422.92,272.06L422.92,272.06L422.92,273.55L422.92,273.55L422.92,275.05L423.84,275.05L423.84,276.55L425.66,276.55L425.66,278.05L424.02,278.05L424.02,279.54L421.46,279.54L421.46,281.04L421.46,281.04L421.46,282.54L421.46,282.54L421.46,284.03L422.38,284.03L422.38,285.53L424.56,285.53L424.56,287.03L427.49,287.03L427.49,288.52L424.93,288.52L424.93,290.02L422.01,290.02L422.01,291.52L416.90,291.52L416.90,293.02L416.90,293.02L416.90,294.51L416.90,294.51L416.90,296.01L418.36,296.01L418.36,297.51L423.47,297.51L423.47,299.00L423.47,299.00L423.47,300.50L429.31,300.50L429.31,302.00L437.70,302.00L437.70,303.50L458.88,303.50L458.88,304.99L458.88,304.99L458.88,306.49L465.81,306.49L465.81,307.99L481.50,307.99L481.50,309.48L483.33,309.48L483.33,310.98L488.62,310.98L488.62,312.48L494.28,312.48L494.28,313.98L494.28,313.98L494.28,315.47L494.28,315.47L494.28,316.97L525.31,316.97L525.31,318.47L548.12,318.47L548.12,319.96L548.12,319.96L548.12,321.46L562.54,321.46L562.54,322.96Z" fill="#B4001E"/>
<path d="M563.44,322.96L563.44,321.46L563.44,321.46L563.44,319.96L549.02,319.96L549.02,318.47L556.32,318.47L556.32,316.97L526.21,316.97L526.21,315.47L495.18,315.47L495.18,313.98L538.62,313.98L538.62,312.48L507.41,312.48L507.41,310.98L489.52,310.98L489.52,309.48L484.23,309.48L484.23,307.99L482.40,307.99L482.40,306.49L466.71,306.49L466.71,304.99L459.77,304.99L459.77,303.50L475.65,303.50L475.65,302.00L438.61,302.00L438.61,300.50L430.21,300.50L430.21,299.00L424.37,299.00L424.37,297.51L445.90,297.51L445.90,296.01L419.26,296.01L419.26,294.51L417.80,294.51L417.80,293.02L422.91,293.02L422.91,291.52L425.83,291.52L425.83,290.02L437.88,290.02L437.88,288.52L428.57,288.52L428.57,287.03L428.38,287.03L428.38,285.53L425.47,285.53L425.47,284.03L423.28,284.03L423.28,282.54L422.36,282.54L422.36,281.04L424.92,281.04L424.92,279.54L426.56,279.54L426.56,278.05L427.47,278.05L427.47,276.55L443.90,276.55L443.90,275.05L424.74,275.05L424.74,273.55L423.82,273.55L423.82,272.06L429.66,272.06L429.66,270.56L431.85,270.56L431.85,269.06L431.12,269.06L431.12,267.57L426.19,267.57L426.19,266.07L425.28,266.07L425.28,264.57L424.19,264.57L424.19,263.07L413.97,263.07L413.97,261.58L418.35,261.58L418.35,260.08L413.60,260.08L413.60,258.58L412.14,258.58L412.14,257.09L411.78,257.09L411.78,255.59L411.05,255.59L411.05,254.09L403.75,254.09L403.75,252.60L399.73,252.60L399.73,251.10L393.89,251.10L393.89,249.60L394.99,249.60L394.99,248.10L394.62,248.10L394.62,246.61L385.68,246.61L385.68,245.11L384.16,245.11L384.16,243.61L384.40,243.61L384.40,242.12L384.89,242.12L384.89,240.62L384.89,240.62L384.89,239.12L385.50,239.12L385.50,237.62L384.89,237.62L384.89,236.13L382.45,236.13L382.45,234.63L383.67,234.63L383.67,233.13L384.28,233.13L384.28,231.64L383.06,231.64L383.06,230.14L383.67,230.14L383.67,228.64L384.28,228.64L384.28,227.15L384.65,227.15L384.65,225.65L384.28,225.65L384.28,224.15L383.67,224.15L383.67,222.65L383.06,222.65L383.06,221.16L383.67,221.16L383.67,219.66L383.06,219.66L383.06,218.16L382.45,218.16L382.45,216.67L383.06,216.67L383.06,215.17L384.89,215.17L384.89,213.67L384.28,213.67L384.28,212.17L383.67,212.17L383.67,210.68L383.43,210.68L383.43,209.18L383.67,209.18L383.67,207.68L383.67,207.68L383.67,206.19L384.04,206.19L384.04,204.69L384.28,204.69L384.28,203.19L384.65,203.19L384.65,201.70L382.16,201.70L382.16,203.19L382.16,203.19L382.16,204.69L381.79,204.69L381.79,206.19L381.79,206.19L381.79,207.68L381.55,207.68L381.55,209.18L381.55,209.18L381.55,210.68L381.55,210.68L381.55,212.17L381.55,212.17L381.55,213.67L381.30,213.67L381.30,215.17L381.30,215.17L381.30,216.67L381.30,216.67L381.30,218.16L381.30,218.16L381.30,219.66L381.30,219.66L381.30,221.16L381.30,221.16L381.30,222.65L381.30,222.65L381.30,224.15L382.16,224.15L382.16,225.65L382.16,225.65L382.16,227.15L381.30,227.15L381.30,228.64L381.30,228.64L381.30,230.14L381.30,230.14L381.30,231.64L381.30,231.64L381.30,233.13L381.30,233.13L381.30,234.63L381.30,234.63L381.30,236.13L381.30,236.13L381.30,237.62L381.30,237.62L381.30,239.12L381.30,239.12L381.30,240.62L381.30,240.62L381.30,242.12L381.30,242.12L381.30,243.61L381.30,243.61L381.30,245.11L381.55,245.11L381.55,246.61L382.59,246.61L382.59,248.10L387.70,248.10L387.70,249.60L387.70,249.60L387.70,251.10L387.70,251.10L387.70,252.60L392.81,252.60L392.81,254.09L397.19,254.09L397.19,255.59L400.84,255.59L400.84,257.09L401.57,257.09L401.57,258.58L401.94,258.58L401.94,260.08L403.03,260.08L403.03,261.58L404.12,261.58L404.12,263.07L404.12,263.07L404.12,264.57L412.70,264.57L412.70,266.07L413.80,266.07L413.80,267.57L415.07,267.57L415.07,269.06L411.79,269.06L411.79,270.56L411.79,270.56L411.79,272.06L411.79,272.06L411.79,273.55L418.54,273.55L418.54,275.05L420.19,275.05L420.19,276.55L419.46,276.55L419.46,278.05L414.71,278.05L414.71,279.54L410.88,279.54L410.88,281.04L408.87,281.04L408.87,282.54L408.87,282.54L408.87,284.03L408.87,284.03L408.87,285.53L414.35,285.53L414.35,287.03L414.89,287.03L414.89,288.52L407.96,288.52L407.96,290.02L407.78,290.02L407.78,291.52L403.21,291.52L403.21,293.02L398.10,293.02L398.10,294.51L398.10,294.51L398.10,296.01L398.10,296.01L398.10,297.51L401.02,297.51L401.02,299.00L401.02,299.00L401.02,300.50L401.02,300.50L401.02,302.00L421.10,302.00L421.10,303.50L432.96,303.50L432.96,304.99L432.96,304.99L432.96,306.49L432.96,306.49L432.96,307.99L449.02,307.99L449.02,309.48L463.07,309.48L463.07,310.98L446.65,310.98L446.65,312.48L446.28,312.48L446.28,313.98L446.28,313.98L446.28,315.47L446.28,315.47L446.28,316.97L524.03,316.97L524.03,318.47L539.72,318.47L539.72,319.96L545.20,319.96L545.20,321.46L559.80,321.46L559.80,322.96Z" fill="#F5FF00"/>
<path d="M560.70,322.96L560.70,321.46L560.70,321.46L560.70,319.96L546.10,319.96L546.10,318.47L540.62,318.47L540.62,316.97L524.93,316.97L524.93,315.47L447.18,315.47L447.18,313.98L447.55,313.98L447.55,312.48L463.97,312.48L463.97,310.98L479.49,310.98L479.49,309.48L465.80,309.48L465.80,307.99L449.92,307.99L449.92,306.49L433.86,306.49L433.86,304.99L442.07,304.99L442.07,303.50L453.02,303.50L453.02,302.00L422.00,302.00L422.00,300.50L401.92,300.50L401.92,299.00L403.75,299.00L403.75,297.51L412.51,297.51L412.51,296.01L399.00,296.01L399.00,294.51L404.11,294.51L404.11,293.02L408.68,293.02L408.68,291.52L408.86,291.52L408.86,290.02L416.52,290.02L416.52,288.52L416.52,288.52L416.52,287.03L415.79,287.03L415.79,285.53L415.25,285.53L415.25,284.03L409.77,284.03L409.77,282.54L411.78,282.54L411.78,281.04L415.61,281.04L415.61,279.54L420.36,279.54L420.36,278.05L421.09,278.05L421.09,276.55L423.64,276.55L423.64,275.05L423.09,275.05L423.09,273.55L419.44,273.55L419.44,272.06L412.69,272.06L412.69,270.56L417.25,270.56L417.25,269.06L419.26,269.06L419.26,267.57L415.98,267.57L415.98,266.07L414.70,266.07L414.70,264.57L413.60,264.57L413.60,263.07L405.03,263.07L405.03,261.58L406.12,261.58L406.12,260.08L403.93,260.08L403.93,258.58L402.84,258.58L402.84,257.09L402.47,257.09L402.47,255.59L401.74,255.59L401.74,254.09L398.09,254.09L398.09,252.60L393.71,252.60L393.71,251.10L388.60,251.10L388.60,249.60L389.33,249.60L389.33,248.10L390.43,248.10L390.43,246.61L383.49,246.61L383.49,245.11L382.45,245.11L382.45,243.61L382.20,243.61L382.20,242.12L382.20,242.12L382.20,240.62L382.20,240.62L382.20,239.12L382.45,239.12L382.45,237.62L381.84,237.62L381.84,236.13L381.47,236.13L381.47,234.63L381.84,234.63L381.84,233.13L382.45,233.13L382.45,231.64L381.47,231.64L381.47,230.14L381.84,230.14L381.84,228.64L383.06,228.64L383.06,227.15L383.67,227.15L383.67,225.65L383.67,225.65L383.67,224.15L383.06,224.15L383.06,222.65L381.84,222.65L381.84,221.16L382.45,221.16L382.45,219.66L381.84,219.66L381.84,218.16L381.47,218.16L381.47,216.67L381.84,216.67L381.84,215.17L383.43,215.17L383.43,213.67L383.06,213.67L383.06,212.17L382.45,212.17L382.45,210.68L382.45,210.68L382.45,209.18L382.69,209.18L382.69,207.68L382.69,207.68L382.69,206.19L383.06,206.19L383.06,204.69L383.06,204.69L383.06,203.19L383.43,203.19L383.43,201.70L381.30,201.70L381.30,203.19L381.30,203.19L381.30,204.69L381.30,204.69L381.30,206.19L381.30,206.19L381.30,207.68L381.30,207.68L381.30,209.18L381.30,209.18L381.30,210.68L381.30,210.68L381.30,212.17L381.30,212.17L381.30,213.67L381.30,213.67L381.30,215.17L381.30,215.17L381.30,216.67L381.30,216.67L381.30,218.16L381.30,218.16L381.30,219.66L381.30,219.66L381.30,221.16L381.30,221.16L381.30,222.65L381.30,222.65L381.30,224.15L381.30,224.15L381.30,225.65L381.30,225.65L381.30,227.15L381.30,227.15L381.30,228.64L381.30,228.64L381.30,230.14L381.30,230.14L381.30,231.64L381.30,231.64L381.30,233.13L381.30,233.13L381.30,234.63L381.30,234.63L381.30,236.13L381.30,236.13L381.30,237.62L381.30,237.62L381.30,239.12L381.30,239.12L381.30,240.62L381.30,240.62L381.30,242.12L381.30,242.12L381.30,243.61L381.30,243.61L381.30,245.11L381.30,245.11L381.30,246.61L381.30,246.61L381.30,248.10L381.30,248.10L381.30,249.60L381.30,249.60L381.30,251.10L381.30,251.10L381.30,252.60L381.30,252.60L381.30,254.09L381.30,254.09L381.30,255.59L381.30,255.59L381.30,257.09L381.30,257.09L381.30,258.58L381.30,258.58L381.30,260.08L381.30,260.08L381.30,261.58L381.30,261.58L381.30,263.07L381.30,263.07L381.30,264.57L381.30,264.57L381.30,266.07L381.30,266.07L381.30,267.57L381.30,267.57L381.30,269.06L381.30,269.06L381.30,270.56L381.30,270.56L381.30,272.06L381.30,272.06L381.30,273.55L381.30,273.55L381.30,275.05L381.30,275.05L381.30,276.55L381.30,276.55L381.30,278.05L381.30,278.05L381.30,279.54L381.30,279.54L381.30,281.04L381.30,281.04L381.30,282.54L381.30,282.54L381.30,284.03L381.30,284.03L381.30,285.53L381.30,285.53L381.30,287.03L381.30,287.03L381.30,288.52L381.30,288.52L381.30,290.02L381.30,290.02L381.30,291.52L381.30,291.52L381.30,293.02L381.30,293.02L381.30,294.51L381.30,294.51L381.30,296.01L381.30,296.01L381.30,297.51L381.30,297.51L381.30,299.00L381.30,299.00L381.30,300.50L381.30,300.50L381.30,302.00L381.30,302.00L381.30,303.50L381.30,303.50L381.30,304.99L381.30,304.99L381.30,306.49L381.30,306.49L381.30,307.99L381.30,307.99L381.30,309.48L381.30,309.48L381.30,310.98L381.30,310.98L381.30,312.48L381.30,312.48L381.30,313.98L381.30,313.98L381.30,315.47L381.30,315.47L381.30,316.97L381.30,316.97L381.30,318.47L381.30,318.47L381.30,319.96L381.30,319.96L381.30,321.46L381.30,321.46L381.30,322.96Z" fill="#00B07F"/>
<path d="M390.43,199.45v0.9" stroke="#555" stroke-width="0.6"/>
<path d="M399.55,199.45v0.9" stroke="#555" stroke-width="0.6"/>
<path d="M408.68,199.45v0.9" stroke="#555" stroke-width="0.6"/>
<path d="M417.80,199.45v0.9" stroke="#555" stroke-width="0.6"/>
<path d="M426.93,199.45v0.9" stroke="#555" stroke-width="0.6"/>
<path d="M436.05,199.45v0.9" stroke="#555" stroke-width="0.6"/>
<path d="M445.18,199.45v0.9" stroke="#555" stroke-width="0.6"/>
<path d="M454.30,199.45v0.9" stroke="#555" stroke-width="0.6"/>
<path d="M463.43,199.45v0.9" stroke="#555" stroke-width="0.6"/>
<path d="M472.55,199.45v0.9" stroke="#555" stroke-width="0.6"/>
<path d="M481.68,199.45v0.9" stroke="#555" stroke-width="0.6"/>
<path d="M490.80,199.45v0.9" stroke="#555" stroke-width="0.6"/>
<path d="M499.93,199.45v0.9" stroke="#555" stroke-width="0.6"/>
<path d="M509.05,199.45v0.9" stroke="#555" stroke-width="0.6"/>
<path d="M518.17,199.45v0.9" stroke="#555" stroke-width="0.6"/>
<path d="M527.30,199.45v0.9" stroke="#555" stroke-width="0.6"/>
<path d="M536.42,199.45v0.9" stroke="#555" stroke-width="0.6"/>
<path d="M545.55,199.45v0.9" stroke="#555" stroke-width="0.6"/>
<path d="M554.67,199.45v0.9" stroke="#555" stroke-width="0.6"/>
<text transform="translate(381.30,338.80) scale(1,1.1)" text-anchor="middle" class="t">0</text>
<text transform="translate(417.80,338.80) scale(1,1.1)" text-anchor="middle" class="t">20</text>
<text transform="translate(454.30,338.80) scale(1,1.1)" text-anchor="middle" class="t">40</text>
<text transform="translate(490.80,338.80) scale(1,1.1)" text-anchor="middle" class="t">60</text>
<text transform="translate(527.30,338.80) scale(1,1.1)" text-anchor="middle" class="t">80</text>
<text transform="translate(563.80,338.80) scale(1,1.1)" text-anchor="middle" class="t">100</text>
<text x="472.55" y="358.30" text-anchor="middle" class="x">Fraction [%]</text>
<text transform="translate(378.50,300.56) scale(1,1.1)" text-anchor="end" class="t">350</text>
<text transform="translate(378.50,263.13) scale(1,1.1)" text-anchor="end" class="t">400</text>
<text transform="translate(378.50,225.71) scale(1,1.1)" text-anchor="end" class="t">450</text>
<text x="472.55" y="194.85" text-anchor="middle" class="h">(e) monsoon 2016</text>
<path d="M578,218.50H597" stroke="#00B07F" stroke-width="2.6"/>
<text x="603.6" y="222.10" class="l">India</text>
<path d="M578,230.50H597" stroke="#F5FF00" stroke-width="2.6"/>
<text x="603.6" y="234.10" class="l">BGD</text>
<path d="M578,242.50H597" stroke="#B4001E" stroke-width="2.6"/>
<text x="603.6" y="246.10" class="l">TIB</text>
<path d="M578,254.50H597" stroke="#FFB400" stroke-width="2.6"/>
<text x="603.6" y="258.10" class="l">cNH</text>
<path d="M578,266.50H597" stroke="#9B9BF0" stroke-width="2.6"/>
<text x="603.6" y="270.10" class="l">mNH</text>
<path d="M578,278.50H597" stroke="#0050E6" stroke-width="2.6"/>
<text x="603.6" y="282.10" class="l">Wpool</text>
<path d="M578,290.50H597" stroke="#009696" stroke-width="2.6"/>
<text x="603.6" y="294.10" class="l">tSH</text>
<path d="M578,302.50H597" stroke="#DCDCF0" stroke-width="2.6"/>
<text x="603.6" y="306.10" class="l">free atmo</text>
</svg>
</body></html>
